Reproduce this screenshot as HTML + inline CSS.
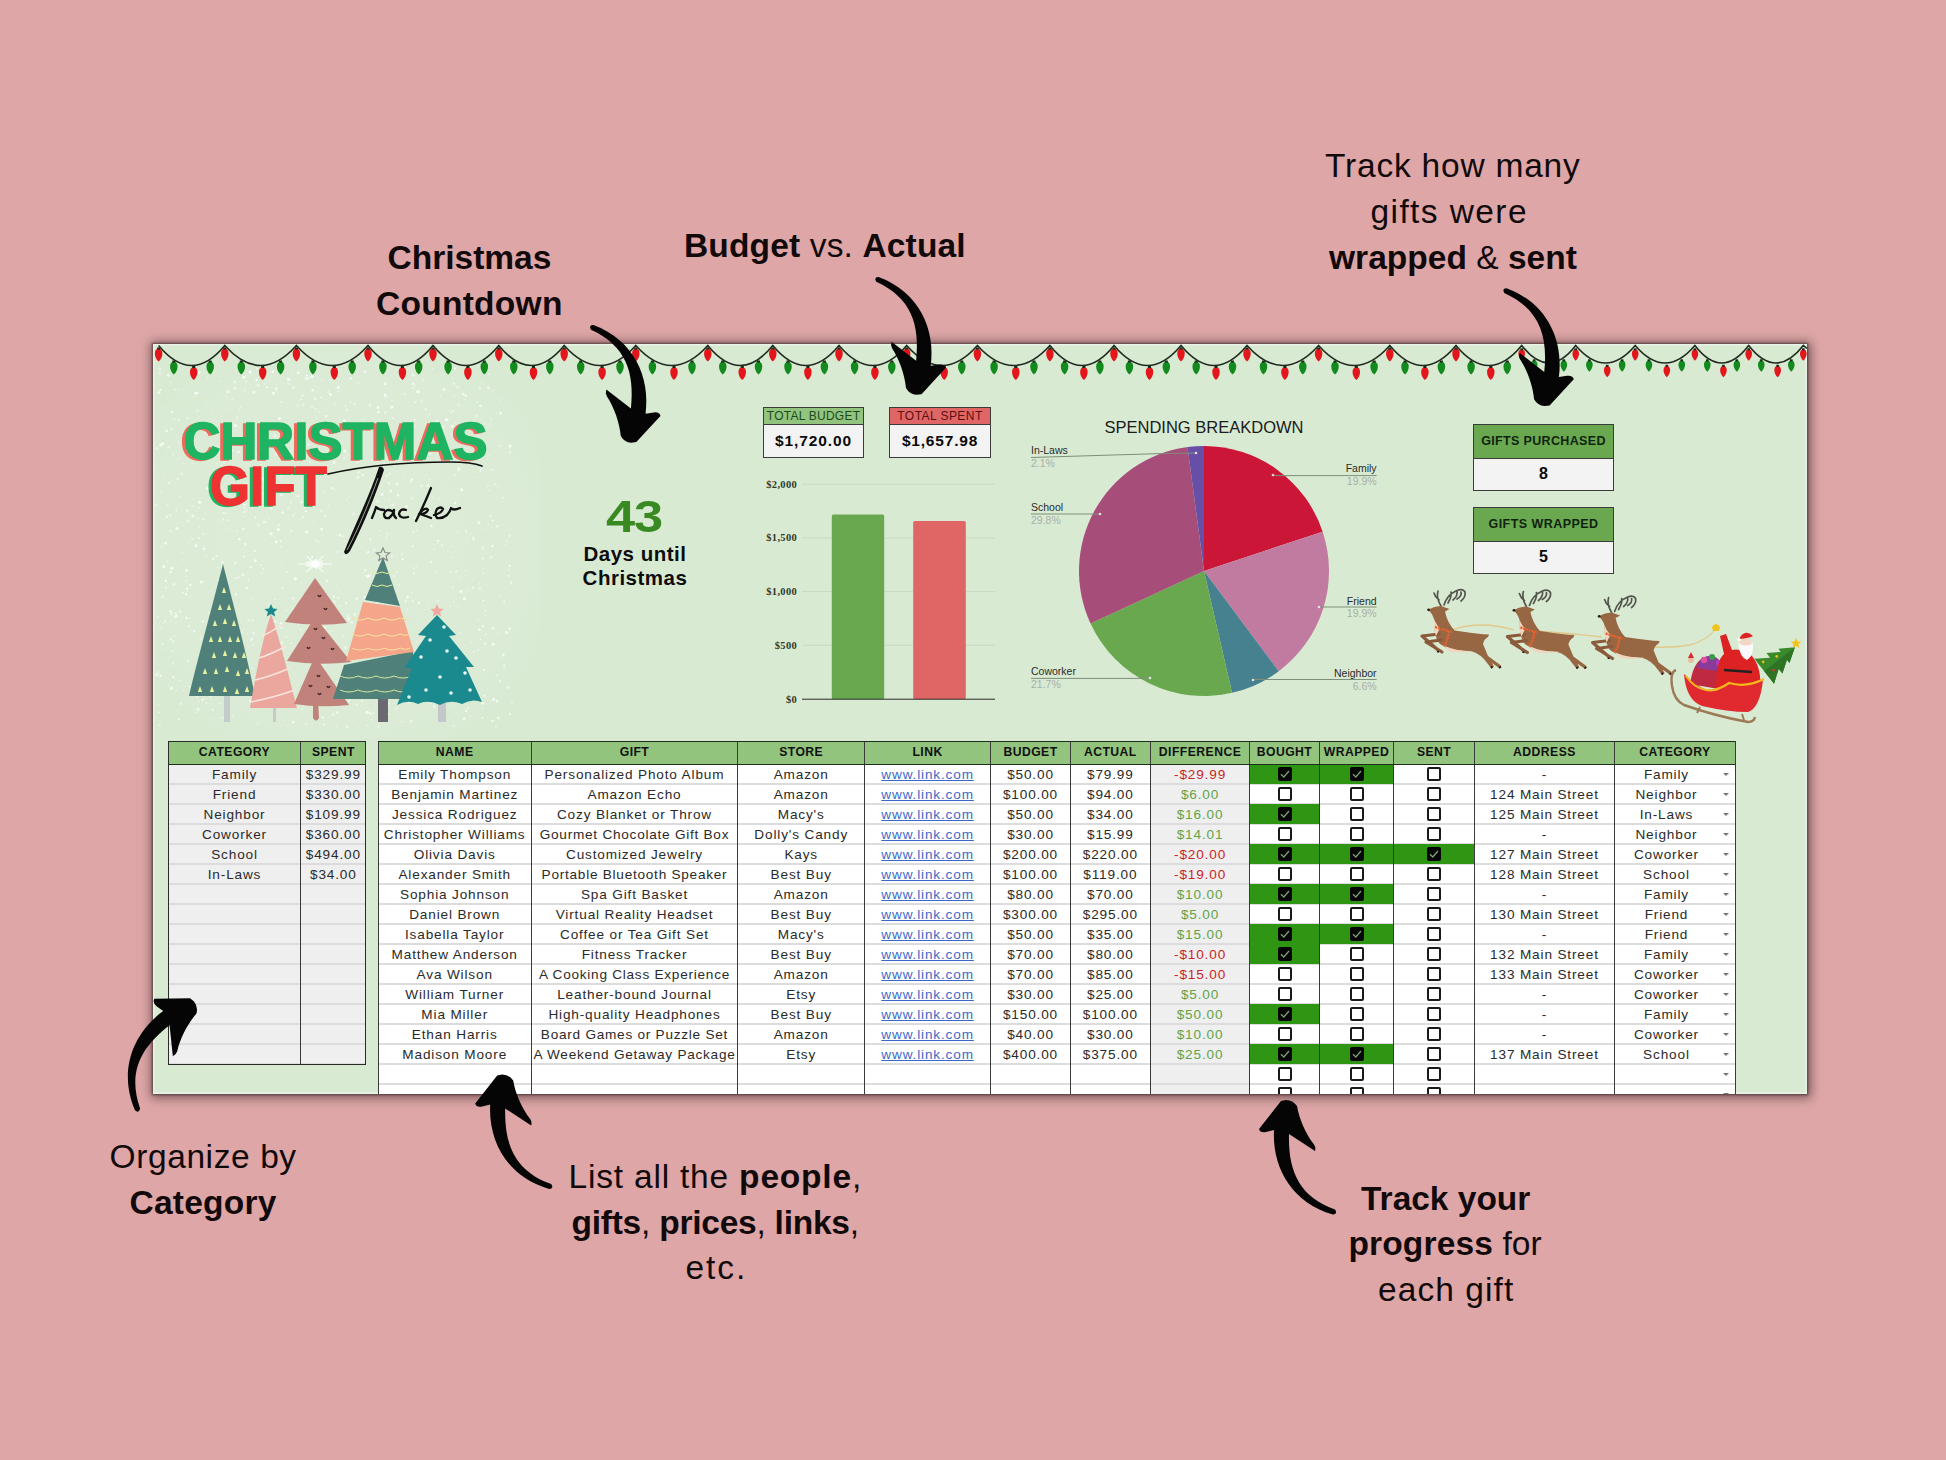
<!DOCTYPE html><html><head><meta charset="utf-8"><style>
*{margin:0;padding:0;box-sizing:border-box}
html,body{width:1946px;height:1460px;overflow:hidden;background:#dea6a7;font-family:"Liberation Sans",sans-serif}
.ov{position:absolute;left:0;top:0;pointer-events:none}
.ann{position:absolute;color:#0d0d0d;font-size:34px;line-height:46px;text-align:center;white-space:nowrap}
.ann b{font-weight:700}
.al{position:absolute;color:#120a0a;font-size:33.5px;line-height:33.5px;white-space:nowrap}
.al b{font-weight:700}
#panel{position:absolute;left:153px;top:344px;width:1654px;height:750px;background:#d9ead3;box-shadow:0 0 2px 1px rgba(45,30,30,0.6),1px 1px 10px 3px rgba(45,30,30,0.55),inset 0 0 0 1.5px rgba(255,255,255,0.45);overflow:hidden}
#panel .ov{left:-153px;top:-344px}
.c,.t,.ht,.hdr,.tbg{position:absolute}
.t{font-size:13.6px;letter-spacing:0.85px;color:#2a2a2a;text-align:center;line-height:21.4px;white-space:nowrap;overflow:visible}
.ht{font-size:12.2px;font-weight:700;letter-spacing:0.45px;color:#111;text-align:center;line-height:23px;white-space:nowrap}
.hdr{background:#93c47d}
.hl{position:absolute;height:1.5px;background:#dcdcdc}
.vl{position:absolute;width:1px;background:#3a3a3a}
.hd{position:absolute;height:1.2px;background:#1d2e1d}
.box{position:absolute;border:1px solid #2a2a2a}
.lk{color:#3b69c9}
.lk u{text-decoration:underline}
.neg{color:#cc1f1f}
.pos{color:#62a347}
.cbk{position:absolute;width:14px;height:14px;background:#050505;border-radius:2px}
.cbk svg{position:absolute;left:0;top:0}
.cbu{position:absolute;width:14px;height:14px;border:2px solid #1a1a1a;border-radius:2px;background:#fff}
.dd{position:absolute;width:0;height:0;border-left:3.5px solid transparent;border-right:3.5px solid transparent;border-top:3.5px solid #777}
.kb{position:absolute;border:1.3px solid #3b3b3b;background:#f3f3f3}
.kb .h{position:absolute;left:0;right:0;top:0;border-bottom:1.3px solid #3b3b3b;text-align:center;color:#1a1a1a;white-space:nowrap}
.kb .v{position:absolute;left:0;right:0;bottom:0;text-align:center;font-weight:700;color:#0a0a0a;white-space:nowrap}
</style></head><body><div class="al" style="left:387.50px;top:241.34px;letter-spacing:-0.000px"><b>Christmas</b></div><div class="al" style="left:376.00px;top:286.84px;letter-spacing:0.275px"><b>Countdown</b></div><div class="al" style="left:684.00px;top:229.44px;letter-spacing:0.150px"><b>Budget</b> vs. <b>Actual</b></div><div class="al" style="left:1325.00px;top:149.34px;letter-spacing:0.792px">Track how many</div><div class="al" style="left:1370.50px;top:195.04px;letter-spacing:1.411px">gifts were</div><div class="al" style="left:1329.00px;top:240.64px;letter-spacing:0.023px"><b>wrapped</b> &amp; <b>sent</b></div><div class="al" style="left:109.50px;top:1140.34px;letter-spacing:0.600px">Organize by</div><div class="al" style="left:129.50px;top:1186.24px;letter-spacing:0.243px"><b>Category</b></div><div class="al" style="left:568.50px;top:1160.14px;letter-spacing:0.805px">List all the <b>people</b>,</div><div class="al" style="left:571.50px;top:1205.54px;letter-spacing:-0.240px"><b>gifts</b>, <b>prices</b>, <b>links</b>,</div><div class="al" style="left:685.50px;top:1250.94px;letter-spacing:1.900px">etc.</div><div class="al" style="left:1361.00px;top:1182.24px;letter-spacing:-0.011px"><b>Track your</b></div><div class="al" style="left:1348.50px;top:1227.34px;letter-spacing:0.136px"><b>progress</b> for</div><div class="al" style="left:1378.00px;top:1273.44px;letter-spacing:1.075px">each gift</div><div id="panel"><svg class="ov" width="1946" height="1460" viewBox="0 0 1946 1460"><defs><radialGradient id="haze" cx="0.5" cy="0.5" r="0.6"><stop offset="0" stop-color="#fff" stop-opacity="0.10"/><stop offset="0.75" stop-color="#fff" stop-opacity="0.06"/><stop offset="1" stop-color="#fff" stop-opacity="0"/></radialGradient></defs><rect x="140" y="350" width="400" height="390" fill="url(#haze)"/><circle cx="271.3" cy="422.3" r="0.6" fill="#fff" opacity="0.39"/><circle cx="346.8" cy="499.6" r="0.6" fill="#fff" opacity="0.80"/><circle cx="232.4" cy="398.9" r="1.2" fill="#fff" opacity="0.38"/><circle cx="188.3" cy="520.8" r="1.5" fill="#fff" opacity="0.41"/><circle cx="235.5" cy="593.9" r="0.6" fill="#fff" opacity="0.64"/><circle cx="297.2" cy="719.5" r="0.6" fill="#fff" opacity="0.63"/><circle cx="203.4" cy="518.9" r="1.5" fill="#fff" opacity="0.41"/><circle cx="265.8" cy="661.8" r="0.8" fill="#fff" opacity="0.40"/><circle cx="359.3" cy="435.6" r="0.6" fill="#fff" opacity="0.62"/><circle cx="178.4" cy="389.5" r="0.8" fill="#fff" opacity="0.60"/><circle cx="345.3" cy="647.8" r="1.2" fill="#fff" opacity="0.64"/><circle cx="317.3" cy="475.9" r="0.8" fill="#fff" opacity="0.70"/><circle cx="242.9" cy="574.8" r="1.5" fill="#fff" opacity="0.60"/><circle cx="278.3" cy="529.6" r="1.5" fill="#fff" opacity="0.84"/><circle cx="198.0" cy="518.5" r="1.0" fill="#fff" opacity="0.43"/><circle cx="330.1" cy="382.1" r="0.6" fill="#fff" opacity="0.73"/><circle cx="360.0" cy="683.2" r="1.0" fill="#fff" opacity="0.52"/><circle cx="280.7" cy="546.8" r="1.2" fill="#fff" opacity="0.38"/><circle cx="189.3" cy="465.2" r="0.6" fill="#fff" opacity="0.38"/><circle cx="405.7" cy="601.0" r="1.2" fill="#fff" opacity="0.49"/><circle cx="293.3" cy="608.7" r="0.6" fill="#fff" opacity="0.82"/><circle cx="282.5" cy="587.9" r="1.2" fill="#fff" opacity="0.38"/><circle cx="429.5" cy="414.6" r="0.8" fill="#fff" opacity="0.55"/><circle cx="482.4" cy="546.7" r="0.8" fill="#fff" opacity="0.57"/><circle cx="351.6" cy="686.0" r="1.2" fill="#fff" opacity="0.78"/><circle cx="255.1" cy="517.5" r="1.0" fill="#fff" opacity="0.69"/><circle cx="291.4" cy="451.1" r="0.6" fill="#fff" opacity="0.44"/><circle cx="238.6" cy="452.0" r="1.2" fill="#fff" opacity="0.77"/><circle cx="220.9" cy="469.5" r="0.8" fill="#fff" opacity="0.56"/><circle cx="287.5" cy="571.9" r="0.8" fill="#fff" opacity="0.70"/><circle cx="339.5" cy="590.3" r="0.6" fill="#fff" opacity="0.58"/><circle cx="466.1" cy="710.7" r="1.5" fill="#fff" opacity="0.55"/><circle cx="298.0" cy="405.3" r="1.2" fill="#fff" opacity="0.38"/><circle cx="180.0" cy="443.2" r="0.8" fill="#fff" opacity="0.40"/><circle cx="369.9" cy="404.9" r="1.5" fill="#fff" opacity="0.43"/><circle cx="192.1" cy="498.9" r="0.6" fill="#fff" opacity="0.39"/><circle cx="230.0" cy="503.4" r="1.0" fill="#fff" opacity="0.83"/><circle cx="370.4" cy="538.7" r="0.6" fill="#fff" opacity="0.77"/><circle cx="509.5" cy="535.8" r="1.2" fill="#fff" opacity="0.51"/><circle cx="207.3" cy="637.9" r="1.0" fill="#fff" opacity="0.59"/><circle cx="402.4" cy="553.9" r="0.8" fill="#fff" opacity="0.83"/><circle cx="344.1" cy="420.8" r="1.5" fill="#fff" opacity="0.81"/><circle cx="425.9" cy="475.3" r="0.6" fill="#fff" opacity="0.70"/><circle cx="249.0" cy="500.0" r="0.8" fill="#fff" opacity="0.53"/><circle cx="235.3" cy="563.0" r="1.5" fill="#fff" opacity="0.51"/><circle cx="235.4" cy="660.1" r="0.8" fill="#fff" opacity="0.75"/><circle cx="447.3" cy="634.4" r="0.8" fill="#fff" opacity="0.45"/><circle cx="331.4" cy="631.2" r="0.6" fill="#fff" opacity="0.75"/><circle cx="324.1" cy="437.7" r="1.5" fill="#fff" opacity="0.83"/><circle cx="315.2" cy="705.3" r="1.0" fill="#fff" opacity="0.83"/><circle cx="285.8" cy="447.4" r="0.8" fill="#fff" opacity="0.59"/><circle cx="276.2" cy="541.8" r="1.5" fill="#fff" opacity="0.77"/><circle cx="326.7" cy="603.1" r="0.6" fill="#fff" opacity="0.77"/><circle cx="198.7" cy="507.9" r="0.8" fill="#fff" opacity="0.59"/><circle cx="219.6" cy="652.1" r="1.0" fill="#fff" opacity="0.39"/><circle cx="492.8" cy="627.9" r="1.2" fill="#fff" opacity="0.55"/><circle cx="493.1" cy="628.9" r="0.8" fill="#fff" opacity="0.85"/><circle cx="165.8" cy="580.7" r="1.2" fill="#fff" opacity="0.75"/><circle cx="208.0" cy="665.5" r="1.2" fill="#fff" opacity="0.68"/><circle cx="280.7" cy="565.5" r="0.8" fill="#fff" opacity="0.36"/><circle cx="440.6" cy="629.5" r="0.6" fill="#fff" opacity="0.61"/><circle cx="488.4" cy="524.2" r="0.8" fill="#fff" opacity="0.76"/><circle cx="231.1" cy="458.7" r="1.0" fill="#fff" opacity="0.60"/><circle cx="427.9" cy="485.4" r="1.5" fill="#fff" opacity="0.56"/><circle cx="202.7" cy="695.6" r="1.0" fill="#fff" opacity="0.80"/><circle cx="391.8" cy="661.4" r="1.5" fill="#fff" opacity="0.56"/><circle cx="482.7" cy="548.6" r="1.5" fill="#fff" opacity="0.43"/><circle cx="337.8" cy="682.2" r="0.8" fill="#fff" opacity="0.65"/><circle cx="432.3" cy="421.9" r="0.8" fill="#fff" opacity="0.59"/><circle cx="414.2" cy="568.3" r="1.0" fill="#fff" opacity="0.69"/><circle cx="344.9" cy="541.7" r="0.6" fill="#fff" opacity="0.79"/><circle cx="176.2" cy="436.9" r="0.6" fill="#fff" opacity="0.74"/><circle cx="336.7" cy="570.2" r="0.6" fill="#fff" opacity="0.57"/><circle cx="374.1" cy="550.0" r="1.5" fill="#fff" opacity="0.45"/><circle cx="254.7" cy="550.9" r="1.2" fill="#fff" opacity="0.60"/><circle cx="244.2" cy="556.4" r="1.0" fill="#fff" opacity="0.81"/><circle cx="473.8" cy="440.9" r="1.2" fill="#fff" opacity="0.42"/><circle cx="199.3" cy="527.2" r="0.6" fill="#fff" opacity="0.69"/><circle cx="308.5" cy="444.6" r="1.0" fill="#fff" opacity="0.74"/><circle cx="475.3" cy="423.6" r="1.0" fill="#fff" opacity="0.42"/><circle cx="470.3" cy="716.3" r="0.8" fill="#fff" opacity="0.72"/><circle cx="189.5" cy="686.6" r="0.8" fill="#fff" opacity="0.84"/><circle cx="452.4" cy="426.1" r="1.2" fill="#fff" opacity="0.85"/><circle cx="299.8" cy="519.7" r="1.0" fill="#fff" opacity="0.51"/><circle cx="413.1" cy="375.0" r="1.5" fill="#fff" opacity="0.58"/><circle cx="406.3" cy="506.4" r="1.5" fill="#fff" opacity="0.66"/><circle cx="338.4" cy="391.1" r="0.8" fill="#fff" opacity="0.84"/><circle cx="193.3" cy="463.6" r="0.6" fill="#fff" opacity="0.80"/><circle cx="220.6" cy="640.1" r="1.2" fill="#fff" opacity="0.77"/><circle cx="396.6" cy="708.6" r="1.2" fill="#fff" opacity="0.42"/><circle cx="483.2" cy="573.4" r="1.0" fill="#fff" opacity="0.39"/><circle cx="176.5" cy="615.8" r="1.2" fill="#fff" opacity="0.80"/><circle cx="251.7" cy="374.1" r="0.6" fill="#fff" opacity="0.75"/><circle cx="185.8" cy="676.2" r="0.6" fill="#fff" opacity="0.48"/><circle cx="199.3" cy="372.2" r="1.5" fill="#fff" opacity="0.56"/><circle cx="481.9" cy="591.8" r="0.6" fill="#fff" opacity="0.61"/><circle cx="240.9" cy="407.4" r="0.8" fill="#fff" opacity="0.48"/><circle cx="220.5" cy="703.6" r="1.0" fill="#fff" opacity="0.62"/><circle cx="229.3" cy="528.4" r="0.8" fill="#fff" opacity="0.49"/><circle cx="442.1" cy="726.0" r="0.6" fill="#fff" opacity="0.36"/><circle cx="417.0" cy="566.4" r="0.8" fill="#fff" opacity="0.61"/><circle cx="243.5" cy="528.9" r="1.2" fill="#fff" opacity="0.68"/><circle cx="350.3" cy="687.9" r="1.5" fill="#fff" opacity="0.50"/><circle cx="232.6" cy="450.6" r="0.8" fill="#fff" opacity="0.77"/><circle cx="407.6" cy="597.0" r="1.2" fill="#fff" opacity="0.84"/><circle cx="505.5" cy="669.3" r="0.6" fill="#fff" opacity="0.39"/><circle cx="419.8" cy="460.0" r="0.8" fill="#fff" opacity="0.38"/><circle cx="392.8" cy="505.1" r="1.5" fill="#fff" opacity="0.69"/><circle cx="256.4" cy="455.2" r="1.0" fill="#fff" opacity="0.37"/><circle cx="222.0" cy="464.9" r="0.6" fill="#fff" opacity="0.48"/><circle cx="498.4" cy="718.1" r="1.5" fill="#fff" opacity="0.51"/><circle cx="168.3" cy="685.7" r="0.8" fill="#fff" opacity="0.53"/><circle cx="156.4" cy="505.4" r="1.2" fill="#fff" opacity="0.49"/><circle cx="389.5" cy="457.3" r="0.6" fill="#fff" opacity="0.40"/><circle cx="446.9" cy="419.8" r="1.5" fill="#fff" opacity="0.37"/><circle cx="164.0" cy="477.5" r="0.8" fill="#fff" opacity="0.39"/><circle cx="496.9" cy="675.2" r="0.8" fill="#fff" opacity="0.68"/><circle cx="410.9" cy="684.5" r="1.2" fill="#fff" opacity="0.73"/><circle cx="412.6" cy="545.9" r="1.0" fill="#fff" opacity="0.71"/><circle cx="385.0" cy="383.8" r="1.5" fill="#fff" opacity="0.66"/><circle cx="417.3" cy="660.4" r="0.8" fill="#fff" opacity="0.80"/><circle cx="424.0" cy="572.7" r="0.6" fill="#fff" opacity="0.76"/><circle cx="363.9" cy="689.4" r="0.8" fill="#fff" opacity="0.39"/><circle cx="170.9" cy="597.4" r="0.6" fill="#fff" opacity="0.54"/><circle cx="316.7" cy="386.3" r="0.6" fill="#fff" opacity="0.66"/><circle cx="398.3" cy="544.1" r="0.6" fill="#fff" opacity="0.58"/><circle cx="181.0" cy="703.7" r="1.5" fill="#fff" opacity="0.40"/><circle cx="343.3" cy="636.5" r="1.2" fill="#fff" opacity="0.48"/><circle cx="182.5" cy="463.6" r="0.8" fill="#fff" opacity="0.47"/><circle cx="387.4" cy="533.7" r="1.2" fill="#fff" opacity="0.39"/><circle cx="480.1" cy="471.4" r="0.6" fill="#fff" opacity="0.66"/><circle cx="384.8" cy="395.9" r="0.8" fill="#fff" opacity="0.52"/><circle cx="387.9" cy="617.4" r="1.5" fill="#fff" opacity="0.63"/><circle cx="160.4" cy="389.8" r="1.0" fill="#fff" opacity="0.84"/><circle cx="191.4" cy="446.4" r="1.2" fill="#fff" opacity="0.50"/><circle cx="339.9" cy="535.3" r="1.2" fill="#fff" opacity="0.73"/><circle cx="509.6" cy="565.7" r="1.0" fill="#fff" opacity="0.84"/><circle cx="489.3" cy="374.3" r="1.2" fill="#fff" opacity="0.39"/><circle cx="336.4" cy="726.1" r="1.0" fill="#fff" opacity="0.54"/><circle cx="482.3" cy="703.0" r="0.6" fill="#fff" opacity="0.64"/><circle cx="206.5" cy="556.7" r="1.0" fill="#fff" opacity="0.42"/><circle cx="448.0" cy="551.1" r="0.6" fill="#fff" opacity="0.70"/><circle cx="238.4" cy="691.2" r="1.2" fill="#fff" opacity="0.55"/><circle cx="212.6" cy="710.0" r="1.2" fill="#fff" opacity="0.55"/><circle cx="414.9" cy="517.8" r="1.2" fill="#fff" opacity="0.51"/><circle cx="455.1" cy="368.6" r="1.0" fill="#fff" opacity="0.77"/><circle cx="198.7" cy="701.5" r="0.6" fill="#fff" opacity="0.80"/><circle cx="259.2" cy="502.0" r="1.2" fill="#fff" opacity="0.55"/><circle cx="465.7" cy="395.5" r="1.2" fill="#fff" opacity="0.73"/><circle cx="460.1" cy="469.0" r="0.6" fill="#fff" opacity="0.77"/><circle cx="257.7" cy="704.8" r="0.8" fill="#fff" opacity="0.84"/><circle cx="311.3" cy="481.6" r="1.0" fill="#fff" opacity="0.74"/><circle cx="308.3" cy="378.4" r="1.2" fill="#fff" opacity="0.81"/><circle cx="490.9" cy="565.7" r="0.6" fill="#fff" opacity="0.37"/><circle cx="416.7" cy="530.3" r="0.8" fill="#fff" opacity="0.67"/><circle cx="257.9" cy="385.6" r="1.5" fill="#fff" opacity="0.41"/><circle cx="324.1" cy="491.7" r="1.0" fill="#fff" opacity="0.48"/><circle cx="419.0" cy="603.0" r="1.2" fill="#fff" opacity="0.68"/><circle cx="263.1" cy="568.6" r="1.2" fill="#fff" opacity="0.41"/><circle cx="385.0" cy="395.1" r="1.5" fill="#fff" opacity="0.80"/><circle cx="333.0" cy="447.2" r="1.0" fill="#fff" opacity="0.85"/><circle cx="316.2" cy="418.3" r="0.8" fill="#fff" opacity="0.47"/><circle cx="218.2" cy="568.1" r="1.0" fill="#fff" opacity="0.47"/><circle cx="248.0" cy="573.1" r="0.6" fill="#fff" opacity="0.72"/><circle cx="303.0" cy="517.0" r="1.5" fill="#fff" opacity="0.46"/><circle cx="252.2" cy="638.8" r="1.2" fill="#fff" opacity="0.49"/><circle cx="500.5" cy="413.3" r="1.5" fill="#fff" opacity="0.61"/><circle cx="437.4" cy="673.5" r="0.6" fill="#fff" opacity="0.49"/><circle cx="244.4" cy="511.9" r="1.2" fill="#fff" opacity="0.57"/><circle cx="267.1" cy="661.2" r="0.6" fill="#fff" opacity="0.41"/><circle cx="307.4" cy="642.9" r="1.2" fill="#fff" opacity="0.83"/><circle cx="330.4" cy="394.3" r="1.5" fill="#fff" opacity="0.78"/><circle cx="502.1" cy="457.4" r="0.6" fill="#fff" opacity="0.46"/><circle cx="210.1" cy="717.9" r="0.6" fill="#fff" opacity="0.82"/><circle cx="412.9" cy="601.0" r="1.2" fill="#fff" opacity="0.39"/><circle cx="432.6" cy="368.5" r="0.8" fill="#fff" opacity="0.47"/><circle cx="483.5" cy="600.4" r="1.0" fill="#fff" opacity="0.83"/><circle cx="379.0" cy="558.2" r="1.2" fill="#fff" opacity="0.70"/><circle cx="195.9" cy="393.3" r="1.5" fill="#fff" opacity="0.82"/><circle cx="224.2" cy="461.9" r="1.5" fill="#fff" opacity="0.35"/><circle cx="347.3" cy="726.7" r="1.0" fill="#fff" opacity="0.83"/><circle cx="385.5" cy="686.2" r="1.2" fill="#fff" opacity="0.61"/><circle cx="350.7" cy="378.5" r="1.2" fill="#fff" opacity="0.70"/><circle cx="265.4" cy="375.8" r="1.2" fill="#fff" opacity="0.79"/><circle cx="386.4" cy="397.2" r="0.8" fill="#fff" opacity="0.68"/><circle cx="485.4" cy="449.6" r="0.6" fill="#fff" opacity="0.70"/><circle cx="411.7" cy="498.4" r="1.2" fill="#fff" opacity="0.45"/><circle cx="439.8" cy="634.1" r="1.5" fill="#fff" opacity="0.38"/><circle cx="332.5" cy="440.1" r="0.8" fill="#fff" opacity="0.47"/><circle cx="234.8" cy="641.8" r="1.0" fill="#fff" opacity="0.40"/><circle cx="378.0" cy="587.6" r="0.8" fill="#fff" opacity="0.59"/><circle cx="480.1" cy="388.3" r="1.5" fill="#fff" opacity="0.42"/><circle cx="296.1" cy="444.7" r="1.5" fill="#fff" opacity="0.42"/><circle cx="174.5" cy="389.6" r="1.2" fill="#fff" opacity="0.57"/><circle cx="409.5" cy="481.1" r="0.6" fill="#fff" opacity="0.85"/><circle cx="487.6" cy="486.5" r="0.8" fill="#fff" opacity="0.68"/><circle cx="342.8" cy="536.3" r="1.0" fill="#fff" opacity="0.68"/><circle cx="290.8" cy="502.6" r="1.0" fill="#fff" opacity="0.57"/><circle cx="194.8" cy="396.2" r="0.6" fill="#fff" opacity="0.53"/><circle cx="496.2" cy="412.5" r="0.8" fill="#fff" opacity="0.54"/><circle cx="429.7" cy="479.1" r="1.2" fill="#fff" opacity="0.39"/><circle cx="407.1" cy="438.5" r="1.5" fill="#fff" opacity="0.81"/><circle cx="224.7" cy="499.1" r="1.2" fill="#fff" opacity="0.37"/><circle cx="302.2" cy="660.3" r="1.2" fill="#fff" opacity="0.37"/><circle cx="168.4" cy="390.5" r="0.6" fill="#fff" opacity="0.48"/><circle cx="422.0" cy="691.5" r="1.0" fill="#fff" opacity="0.53"/><circle cx="275.2" cy="711.4" r="0.6" fill="#fff" opacity="0.48"/><circle cx="411.1" cy="481.9" r="1.0" fill="#fff" opacity="0.50"/><circle cx="412.9" cy="582.4" r="0.6" fill="#fff" opacity="0.36"/><circle cx="239.3" cy="539.1" r="1.2" fill="#fff" opacity="0.83"/><circle cx="293.6" cy="458.4" r="1.2" fill="#fff" opacity="0.76"/><circle cx="203.2" cy="546.8" r="0.6" fill="#fff" opacity="0.75"/><circle cx="418.9" cy="664.2" r="0.8" fill="#fff" opacity="0.65"/><circle cx="272.7" cy="483.0" r="1.0" fill="#fff" opacity="0.74"/><circle cx="368.1" cy="552.3" r="1.2" fill="#fff" opacity="0.73"/><circle cx="244.0" cy="391.3" r="0.6" fill="#fff" opacity="0.59"/><circle cx="349.9" cy="425.8" r="1.2" fill="#fff" opacity="0.79"/><circle cx="507.7" cy="463.4" r="0.6" fill="#fff" opacity="0.45"/><circle cx="305.9" cy="723.8" r="1.2" fill="#fff" opacity="0.44"/><circle cx="203.3" cy="533.9" r="0.8" fill="#fff" opacity="0.72"/><circle cx="457.5" cy="607.2" r="0.6" fill="#fff" opacity="0.74"/><circle cx="260.6" cy="468.6" r="1.0" fill="#fff" opacity="0.54"/><circle cx="418.8" cy="439.7" r="0.8" fill="#fff" opacity="0.44"/><circle cx="239.8" cy="469.3" r="1.5" fill="#fff" opacity="0.44"/><circle cx="179.1" cy="458.6" r="0.8" fill="#fff" opacity="0.60"/><circle cx="238.4" cy="659.0" r="1.2" fill="#fff" opacity="0.85"/><circle cx="192.4" cy="538.9" r="0.8" fill="#fff" opacity="0.77"/><circle cx="481.5" cy="382.5" r="1.0" fill="#fff" opacity="0.47"/><circle cx="173.9" cy="584.2" r="1.5" fill="#fff" opacity="0.45"/><circle cx="182.7" cy="552.6" r="0.8" fill="#fff" opacity="0.57"/><circle cx="248.5" cy="648.0" r="0.6" fill="#fff" opacity="0.40"/><circle cx="368.2" cy="591.2" r="0.8" fill="#fff" opacity="0.37"/><circle cx="277.0" cy="383.9" r="1.0" fill="#fff" opacity="0.37"/><circle cx="416.7" cy="697.0" r="0.6" fill="#fff" opacity="0.76"/><circle cx="301.6" cy="501.9" r="1.5" fill="#fff" opacity="0.51"/><circle cx="228.4" cy="654.3" r="1.5" fill="#fff" opacity="0.59"/><circle cx="301.3" cy="654.5" r="1.5" fill="#fff" opacity="0.43"/><circle cx="346.1" cy="603.1" r="1.2" fill="#fff" opacity="0.70"/><circle cx="301.9" cy="470.0" r="1.0" fill="#fff" opacity="0.56"/><circle cx="174.3" cy="636.3" r="1.0" fill="#fff" opacity="0.56"/><circle cx="162.5" cy="644.0" r="1.0" fill="#fff" opacity="0.67"/><circle cx="295.1" cy="513.8" r="0.6" fill="#fff" opacity="0.57"/><circle cx="211.7" cy="408.9" r="0.6" fill="#fff" opacity="0.55"/><circle cx="470.3" cy="533.9" r="0.8" fill="#fff" opacity="0.41"/><circle cx="174.4" cy="419.3" r="1.2" fill="#fff" opacity="0.39"/><circle cx="377.5" cy="501.5" r="1.5" fill="#fff" opacity="0.44"/><circle cx="279.9" cy="426.3" r="0.8" fill="#fff" opacity="0.81"/><circle cx="194.7" cy="544.6" r="0.8" fill="#fff" opacity="0.50"/><circle cx="454.1" cy="383.7" r="1.2" fill="#fff" opacity="0.51"/><circle cx="372.3" cy="597.1" r="0.6" fill="#fff" opacity="0.80"/><circle cx="376.8" cy="664.8" r="0.8" fill="#fff" opacity="0.67"/><circle cx="460.9" cy="591.6" r="1.5" fill="#fff" opacity="0.77"/><circle cx="451.2" cy="433.9" r="0.8" fill="#fff" opacity="0.37"/><circle cx="490.1" cy="424.3" r="1.0" fill="#fff" opacity="0.41"/><circle cx="244.0" cy="629.0" r="0.8" fill="#fff" opacity="0.37"/><circle cx="356.2" cy="640.7" r="0.6" fill="#fff" opacity="0.68"/><circle cx="271.4" cy="508.3" r="1.2" fill="#fff" opacity="0.63"/><circle cx="379.2" cy="478.2" r="1.2" fill="#fff" opacity="0.50"/><circle cx="244.7" cy="508.1" r="1.0" fill="#fff" opacity="0.57"/><circle cx="312.1" cy="376.4" r="1.5" fill="#fff" opacity="0.84"/><circle cx="321.6" cy="528.9" r="1.5" fill="#fff" opacity="0.74"/><circle cx="319.2" cy="432.6" r="1.2" fill="#fff" opacity="0.55"/><circle cx="179.9" cy="497.1" r="1.0" fill="#fff" opacity="0.40"/><circle cx="313.3" cy="551.7" r="0.6" fill="#fff" opacity="0.37"/><circle cx="202.4" cy="700.0" r="1.0" fill="#fff" opacity="0.74"/><circle cx="338.1" cy="387.5" r="1.5" fill="#fff" opacity="0.80"/><circle cx="388.4" cy="650.3" r="0.6" fill="#fff" opacity="0.78"/><circle cx="510.6" cy="631.6" r="0.6" fill="#fff" opacity="0.45"/><circle cx="505.5" cy="545.1" r="0.8" fill="#fff" opacity="0.69"/><circle cx="412.7" cy="447.6" r="1.0" fill="#fff" opacity="0.66"/><circle cx="245.8" cy="484.6" r="1.5" fill="#fff" opacity="0.49"/><circle cx="446.4" cy="419.7" r="1.5" fill="#fff" opacity="0.83"/><circle cx="326.9" cy="581.1" r="1.5" fill="#fff" opacity="0.60"/><circle cx="269.6" cy="381.3" r="0.8" fill="#fff" opacity="0.55"/><circle cx="382.6" cy="468.2" r="1.0" fill="#fff" opacity="0.80"/><circle cx="216.1" cy="650.6" r="0.6" fill="#fff" opacity="0.73"/><circle cx="173.3" cy="677.0" r="1.2" fill="#fff" opacity="0.63"/><circle cx="362.5" cy="685.7" r="0.6" fill="#fff" opacity="0.48"/><circle cx="346.7" cy="676.4" r="1.0" fill="#fff" opacity="0.48"/><circle cx="508.6" cy="575.8" r="1.0" fill="#fff" opacity="0.52"/><circle cx="185.0" cy="450.8" r="1.5" fill="#fff" opacity="0.72"/><circle cx="173.2" cy="663.1" r="1.0" fill="#fff" opacity="0.51"/><circle cx="499.9" cy="681.3" r="1.0" fill="#fff" opacity="0.72"/><circle cx="422.0" cy="447.8" r="1.0" fill="#fff" opacity="0.66"/><circle cx="309.9" cy="552.6" r="0.6" fill="#fff" opacity="0.42"/><circle cx="236.9" cy="603.1" r="0.6" fill="#fff" opacity="0.38"/><circle cx="357.9" cy="477.3" r="1.5" fill="#fff" opacity="0.53"/><circle cx="235.8" cy="578.1" r="1.5" fill="#fff" opacity="0.42"/><circle cx="286.4" cy="666.2" r="0.8" fill="#fff" opacity="0.42"/><circle cx="489.4" cy="455.7" r="0.8" fill="#fff" opacity="0.58"/><circle cx="178.7" cy="420.1" r="1.0" fill="#fff" opacity="0.55"/><circle cx="250.1" cy="372.1" r="1.5" fill="#fff" opacity="0.80"/><circle cx="367.7" cy="576.3" r="1.5" fill="#fff" opacity="0.82"/><circle cx="417.1" cy="457.5" r="0.6" fill="#fff" opacity="0.37"/><circle cx="345.2" cy="514.2" r="0.8" fill="#fff" opacity="0.43"/><circle cx="480.6" cy="405.8" r="1.5" fill="#fff" opacity="0.63"/><circle cx="491.0" cy="419.2" r="0.8" fill="#fff" opacity="0.61"/><circle cx="384.8" cy="601.1" r="1.2" fill="#fff" opacity="0.76"/><circle cx="218.2" cy="479.4" r="1.0" fill="#fff" opacity="0.66"/><circle cx="509.9" cy="628.8" r="1.2" fill="#fff" opacity="0.71"/><circle cx="158.3" cy="672.0" r="1.2" fill="#fff" opacity="0.39"/><circle cx="389.4" cy="431.1" r="0.6" fill="#fff" opacity="0.48"/><circle cx="385.3" cy="412.4" r="1.0" fill="#fff" opacity="0.71"/><circle cx="250.7" cy="567.4" r="1.2" fill="#fff" opacity="0.69"/><circle cx="482.5" cy="717.9" r="1.0" fill="#fff" opacity="0.67"/><circle cx="499.6" cy="446.1" r="1.5" fill="#fff" opacity="0.36"/><circle cx="248.7" cy="453.0" r="0.8" fill="#fff" opacity="0.82"/><circle cx="421.6" cy="485.7" r="1.2" fill="#fff" opacity="0.51"/><circle cx="241.1" cy="694.7" r="1.5" fill="#fff" opacity="0.58"/><circle cx="454.9" cy="619.1" r="0.6" fill="#fff" opacity="0.57"/><circle cx="414.0" cy="573.3" r="1.0" fill="#fff" opacity="0.74"/><circle cx="295.4" cy="578.7" r="1.5" fill="#fff" opacity="0.81"/><circle cx="207.5" cy="377.7" r="0.6" fill="#fff" opacity="0.66"/><circle cx="213.6" cy="719.9" r="0.6" fill="#fff" opacity="0.37"/><circle cx="205.3" cy="599.7" r="0.6" fill="#fff" opacity="0.70"/><circle cx="418.3" cy="391.7" r="1.5" fill="#fff" opacity="0.73"/><circle cx="227.0" cy="711.6" r="1.5" fill="#fff" opacity="0.80"/><circle cx="179.5" cy="680.4" r="1.2" fill="#fff" opacity="0.40"/><circle cx="229.2" cy="408.3" r="0.6" fill="#fff" opacity="0.82"/><circle cx="480.4" cy="639.4" r="0.6" fill="#fff" opacity="0.76"/><circle cx="380.8" cy="471.5" r="0.6" fill="#fff" opacity="0.42"/><circle cx="437.9" cy="600.7" r="1.0" fill="#fff" opacity="0.51"/><circle cx="306.9" cy="375.5" r="1.0" fill="#fff" opacity="0.82"/><circle cx="173.2" cy="641.5" r="1.0" fill="#fff" opacity="0.73"/><circle cx="370.3" cy="539.4" r="1.0" fill="#fff" opacity="0.66"/><circle cx="167.0" cy="516.7" r="1.2" fill="#fff" opacity="0.61"/><circle cx="191.0" cy="536.8" r="0.6" fill="#fff" opacity="0.62"/><circle cx="233.1" cy="678.4" r="0.6" fill="#fff" opacity="0.64"/><circle cx="258.2" cy="525.0" r="1.5" fill="#fff" opacity="0.45"/><circle cx="427.3" cy="720.0" r="0.6" fill="#fff" opacity="0.52"/><circle cx="190.1" cy="618.3" r="0.8" fill="#fff" opacity="0.83"/><circle cx="366.9" cy="712.6" r="1.5" fill="#fff" opacity="0.48"/><circle cx="492.0" cy="470.1" r="0.8" fill="#fff" opacity="0.82"/><circle cx="238.4" cy="427.7" r="0.6" fill="#fff" opacity="0.60"/><circle cx="508.8" cy="570.1" r="0.6" fill="#fff" opacity="0.66"/><circle cx="282.6" cy="512.5" r="1.2" fill="#fff" opacity="0.80"/><circle cx="421.3" cy="520.0" r="0.6" fill="#fff" opacity="0.54"/><circle cx="263.9" cy="522.1" r="1.5" fill="#fff" opacity="0.60"/><circle cx="291.0" cy="686.2" r="0.8" fill="#fff" opacity="0.82"/><circle cx="201.2" cy="581.9" r="1.5" fill="#fff" opacity="0.67"/><circle cx="280.1" cy="485.6" r="0.8" fill="#fff" opacity="0.78"/><circle cx="316.3" cy="567.3" r="1.0" fill="#fff" opacity="0.43"/><circle cx="312.2" cy="646.4" r="1.5" fill="#fff" opacity="0.47"/><circle cx="274.9" cy="599.4" r="0.8" fill="#fff" opacity="0.60"/><circle cx="251.2" cy="639.7" r="1.5" fill="#fff" opacity="0.43"/><circle cx="211.5" cy="457.1" r="1.0" fill="#fff" opacity="0.65"/><circle cx="280.1" cy="453.0" r="0.8" fill="#fff" opacity="0.48"/><circle cx="496.0" cy="726.2" r="0.8" fill="#fff" opacity="0.83"/><circle cx="192.2" cy="506.3" r="0.8" fill="#fff" opacity="0.75"/><circle cx="417.1" cy="524.6" r="0.8" fill="#fff" opacity="0.40"/><circle cx="480.5" cy="469.1" r="1.2" fill="#fff" opacity="0.58"/><circle cx="160.5" cy="675.6" r="1.2" fill="#fff" opacity="0.70"/><circle cx="334.2" cy="595.7" r="1.2" fill="#fff" opacity="0.36"/><circle cx="247.6" cy="633.8" r="0.6" fill="#fff" opacity="0.72"/><circle cx="479.2" cy="522.8" r="1.5" fill="#fff" opacity="0.64"/><circle cx="386.4" cy="672.6" r="1.5" fill="#fff" opacity="0.78"/><circle cx="397.9" cy="599.0" r="1.2" fill="#fff" opacity="0.57"/><circle cx="248.5" cy="620.2" r="1.2" fill="#fff" opacity="0.47"/><circle cx="298.4" cy="624.5" r="0.8" fill="#fff" opacity="0.48"/><circle cx="306.8" cy="531.9" r="1.5" fill="#fff" opacity="0.78"/><circle cx="340.5" cy="606.0" r="0.8" fill="#fff" opacity="0.80"/><circle cx="272.8" cy="371.8" r="1.2" fill="#fff" opacity="0.80"/><circle cx="193.9" cy="458.4" r="0.8" fill="#fff" opacity="0.43"/><circle cx="434.3" cy="706.6" r="1.5" fill="#fff" opacity="0.52"/><circle cx="457.6" cy="532.4" r="0.8" fill="#fff" opacity="0.71"/><circle cx="338.3" cy="598.1" r="1.0" fill="#fff" opacity="0.61"/><circle cx="302.1" cy="709.3" r="0.8" fill="#fff" opacity="0.85"/><circle cx="221.4" cy="553.0" r="0.6" fill="#fff" opacity="0.71"/><circle cx="374.6" cy="597.5" r="1.0" fill="#fff" opacity="0.49"/><circle cx="298.3" cy="372.8" r="1.2" fill="#fff" opacity="0.81"/><circle cx="379.8" cy="611.0" r="1.5" fill="#fff" opacity="0.48"/><circle cx="235.9" cy="634.9" r="1.5" fill="#fff" opacity="0.84"/><circle cx="509.9" cy="713.9" r="1.2" fill="#fff" opacity="0.46"/><circle cx="202.0" cy="647.6" r="0.8" fill="#fff" opacity="0.58"/><circle cx="356.1" cy="449.4" r="0.8" fill="#fff" opacity="0.53"/><circle cx="383.4" cy="662.7" r="1.2" fill="#fff" opacity="0.58"/><circle cx="260.8" cy="565.4" r="0.8" fill="#fff" opacity="0.74"/><circle cx="323.1" cy="650.1" r="0.8" fill="#fff" opacity="0.48"/><circle cx="289.9" cy="459.3" r="1.2" fill="#fff" opacity="0.69"/><circle cx="327.4" cy="658.0" r="1.0" fill="#fff" opacity="0.53"/><circle cx="389.0" cy="483.3" r="1.2" fill="#fff" opacity="0.56"/><circle cx="382.9" cy="605.3" r="1.0" fill="#fff" opacity="0.43"/><circle cx="263.9" cy="506.6" r="0.6" fill="#fff" opacity="0.76"/><circle cx="478.5" cy="650.3" r="0.8" fill="#fff" opacity="0.62"/><circle cx="278.9" cy="577.7" r="0.6" fill="#fff" opacity="0.45"/><circle cx="181.6" cy="473.5" r="1.5" fill="#fff" opacity="0.40"/><circle cx="206.8" cy="452.1" r="1.2" fill="#fff" opacity="0.52"/><circle cx="210.4" cy="693.5" r="1.5" fill="#fff" opacity="0.43"/><circle cx="473.2" cy="587.0" r="0.6" fill="#fff" opacity="0.68"/><circle cx="474.2" cy="651.7" r="1.0" fill="#fff" opacity="0.45"/><circle cx="402.6" cy="559.1" r="1.2" fill="#fff" opacity="0.69"/><circle cx="197.6" cy="410.6" r="1.2" fill="#fff" opacity="0.47"/><circle cx="205.6" cy="545.5" r="0.6" fill="#fff" opacity="0.59"/><circle cx="478.3" cy="620.2" r="0.8" fill="#fff" opacity="0.60"/><circle cx="348.1" cy="678.6" r="0.6" fill="#fff" opacity="0.43"/><circle cx="270.2" cy="618.5" r="1.2" fill="#fff" opacity="0.68"/><circle cx="455.2" cy="503.0" r="1.2" fill="#fff" opacity="0.85"/><circle cx="396.6" cy="433.0" r="1.0" fill="#fff" opacity="0.67"/><circle cx="166.2" cy="587.5" r="1.0" fill="#fff" opacity="0.75"/><circle cx="189.5" cy="542.3" r="0.8" fill="#fff" opacity="0.37"/><circle cx="411.7" cy="593.1" r="1.0" fill="#fff" opacity="0.40"/><circle cx="390.6" cy="490.9" r="1.5" fill="#fff" opacity="0.63"/><circle cx="480.8" cy="470.3" r="1.0" fill="#fff" opacity="0.56"/><circle cx="353.2" cy="665.6" r="1.0" fill="#fff" opacity="0.53"/><circle cx="331.8" cy="488.1" r="1.0" fill="#fff" opacity="0.79"/><circle cx="278.8" cy="441.3" r="1.2" fill="#fff" opacity="0.75"/><circle cx="273.8" cy="482.2" r="1.0" fill="#fff" opacity="0.41"/><circle cx="502.3" cy="399.5" r="0.6" fill="#fff" opacity="0.55"/><circle cx="353.3" cy="514.2" r="1.5" fill="#fff" opacity="0.37"/><circle cx="262.9" cy="370.2" r="0.8" fill="#fff" opacity="0.76"/><circle cx="325.1" cy="643.8" r="0.6" fill="#fff" opacity="0.74"/><circle cx="479.9" cy="588.2" r="1.5" fill="#fff" opacity="0.42"/><circle cx="395.8" cy="616.1" r="0.6" fill="#fff" opacity="0.46"/><circle cx="393.5" cy="532.8" r="0.8" fill="#fff" opacity="0.40"/><circle cx="220.5" cy="381.3" r="0.6" fill="#fff" opacity="0.81"/><circle cx="389.4" cy="500.8" r="0.8" fill="#fff" opacity="0.74"/><circle cx="356.1" cy="460.9" r="1.0" fill="#fff" opacity="0.44"/><circle cx="168.2" cy="375.3" r="1.5" fill="#fff" opacity="0.67"/><circle cx="488.5" cy="387.7" r="1.5" fill="#fff" opacity="0.61"/><circle cx="449.6" cy="646.6" r="1.2" fill="#fff" opacity="0.64"/><circle cx="483.0" cy="528.7" r="0.6" fill="#fff" opacity="0.69"/><circle cx="367.4" cy="725.5" r="0.8" fill="#fff" opacity="0.59"/><circle cx="302.8" cy="404.7" r="1.2" fill="#fff" opacity="0.46"/><circle cx="210.0" cy="373.6" r="0.6" fill="#fff" opacity="0.35"/><circle cx="394.3" cy="723.2" r="0.6" fill="#fff" opacity="0.46"/><circle cx="199.2" cy="538.0" r="1.0" fill="#fff" opacity="0.71"/><circle cx="242.2" cy="632.1" r="0.8" fill="#fff" opacity="0.81"/><circle cx="286.3" cy="637.0" r="0.8" fill="#fff" opacity="0.71"/><circle cx="186.0" cy="594.3" r="1.2" fill="#fff" opacity="0.58"/><circle cx="487.9" cy="459.5" r="0.6" fill="#fff" opacity="0.71"/><circle cx="160.1" cy="373.3" r="1.5" fill="#fff" opacity="0.39"/><circle cx="266.7" cy="630.6" r="0.8" fill="#fff" opacity="0.83"/><circle cx="453.2" cy="587.2" r="1.0" fill="#fff" opacity="0.53"/><circle cx="360.7" cy="525.9" r="0.8" fill="#fff" opacity="0.42"/><circle cx="439.9" cy="498.8" r="0.8" fill="#fff" opacity="0.66"/><circle cx="304.8" cy="506.9" r="1.2" fill="#fff" opacity="0.82"/><circle cx="435.3" cy="572.1" r="1.0" fill="#fff" opacity="0.49"/><circle cx="377.4" cy="602.3" r="1.5" fill="#fff" opacity="0.52"/><circle cx="371.7" cy="719.9" r="0.8" fill="#fff" opacity="0.65"/><circle cx="265.9" cy="522.3" r="0.8" fill="#fff" opacity="0.54"/><circle cx="399.8" cy="584.6" r="0.8" fill="#fff" opacity="0.75"/><circle cx="256.9" cy="368.6" r="1.0" fill="#fff" opacity="0.48"/><circle cx="212.0" cy="699.4" r="0.6" fill="#fff" opacity="0.49"/><circle cx="206.1" cy="688.6" r="1.5" fill="#fff" opacity="0.42"/><circle cx="503.2" cy="655.0" r="1.5" fill="#fff" opacity="0.69"/><circle cx="481.3" cy="492.9" r="0.6" fill="#fff" opacity="0.62"/><circle cx="328.6" cy="505.4" r="0.8" fill="#fff" opacity="0.50"/><circle cx="176.5" cy="510.4" r="0.8" fill="#fff" opacity="0.81"/><circle cx="364.8" cy="371.4" r="1.2" fill="#fff" opacity="0.58"/><circle cx="187.2" cy="658.4" r="0.6" fill="#fff" opacity="0.47"/><circle cx="362.3" cy="690.9" r="1.5" fill="#fff" opacity="0.51"/><circle cx="336.2" cy="440.7" r="0.8" fill="#fff" opacity="0.45"/><circle cx="220.3" cy="620.4" r="1.0" fill="#fff" opacity="0.64"/><circle cx="283.8" cy="648.7" r="0.8" fill="#fff" opacity="0.47"/><circle cx="484.5" cy="545.6" r="0.6" fill="#fff" opacity="0.54"/><circle cx="321.0" cy="397.4" r="1.0" fill="#fff" opacity="0.65"/><circle cx="278.8" cy="555.0" r="0.6" fill="#fff" opacity="0.40"/><circle cx="228.9" cy="681.5" r="1.5" fill="#fff" opacity="0.59"/><circle cx="357.9" cy="462.2" r="1.0" fill="#fff" opacity="0.56"/><circle cx="493.0" cy="644.2" r="1.5" fill="#fff" opacity="0.83"/><circle cx="246.4" cy="381.6" r="0.8" fill="#fff" opacity="0.85"/><circle cx="290.6" cy="377.9" r="0.6" fill="#fff" opacity="0.63"/><circle cx="466.0" cy="533.0" r="0.6" fill="#fff" opacity="0.78"/><circle cx="383.8" cy="700.0" r="0.6" fill="#fff" opacity="0.48"/><circle cx="357.0" cy="598.6" r="1.5" fill="#fff" opacity="0.55"/><circle cx="315.6" cy="425.5" r="0.8" fill="#fff" opacity="0.85"/><circle cx="234.9" cy="381.9" r="1.0" fill="#fff" opacity="0.82"/><circle cx="177.1" cy="567.0" r="0.6" fill="#fff" opacity="0.77"/><circle cx="172.7" cy="651.1" r="1.2" fill="#fff" opacity="0.38"/><circle cx="207.5" cy="639.8" r="0.8" fill="#fff" opacity="0.69"/><circle cx="262.4" cy="580.9" r="0.6" fill="#fff" opacity="0.59"/><circle cx="288.3" cy="508.4" r="1.0" fill="#fff" opacity="0.59"/><circle cx="216.0" cy="453.8" r="0.8" fill="#fff" opacity="0.81"/><circle cx="473.6" cy="536.4" r="0.8" fill="#fff" opacity="0.75"/><circle cx="211.9" cy="667.8" r="0.6" fill="#fff" opacity="0.82"/><circle cx="464.6" cy="687.9" r="0.8" fill="#fff" opacity="0.74"/><circle cx="497.0" cy="701.3" r="1.2" fill="#fff" opacity="0.77"/><circle cx="379.7" cy="530.8" r="1.0" fill="#fff" opacity="0.51"/><circle cx="239.3" cy="409.6" r="1.0" fill="#fff" opacity="0.42"/><circle cx="234.9" cy="388.4" r="1.2" fill="#fff" opacity="0.63"/><circle cx="207.5" cy="681.5" r="1.0" fill="#fff" opacity="0.56"/><circle cx="243.8" cy="377.2" r="1.5" fill="#fff" opacity="0.77"/><circle cx="275.1" cy="428.4" r="1.2" fill="#fff" opacity="0.40"/><circle cx="318.4" cy="541.7" r="0.8" fill="#fff" opacity="0.84"/><circle cx="176.2" cy="690.2" r="0.8" fill="#fff" opacity="0.63"/><circle cx="453.4" cy="410.9" r="0.8" fill="#fff" opacity="0.84"/><circle cx="309.8" cy="462.1" r="0.8" fill="#fff" opacity="0.81"/><circle cx="190.7" cy="472.2" r="0.8" fill="#fff" opacity="0.38"/><circle cx="414.6" cy="473.7" r="0.6" fill="#fff" opacity="0.57"/><circle cx="336.8" cy="551.9" r="1.2" fill="#fff" opacity="0.35"/><circle cx="452.3" cy="557.6" r="0.8" fill="#fff" opacity="0.53"/><circle cx="170.4" cy="515.2" r="1.0" fill="#fff" opacity="0.64"/><circle cx="205.2" cy="432.8" r="0.8" fill="#fff" opacity="0.71"/><circle cx="226.0" cy="396.5" r="0.6" fill="#fff" opacity="0.79"/><circle cx="416.2" cy="642.1" r="0.8" fill="#fff" opacity="0.45"/><circle cx="374.0" cy="622.8" r="0.8" fill="#fff" opacity="0.64"/><circle cx="228.0" cy="391.7" r="1.5" fill="#fff" opacity="0.55"/><circle cx="412.9" cy="387.9" r="1.0" fill="#fff" opacity="0.52"/><circle cx="455.7" cy="679.2" r="1.2" fill="#fff" opacity="0.40"/><circle cx="301.8" cy="642.7" r="0.8" fill="#fff" opacity="0.79"/><circle cx="250.8" cy="435.0" r="1.0" fill="#fff" opacity="0.37"/><circle cx="406.0" cy="575.0" r="0.6" fill="#fff" opacity="0.53"/><circle cx="487.8" cy="716.7" r="0.6" fill="#fff" opacity="0.41"/><circle cx="410.4" cy="662.0" r="1.0" fill="#fff" opacity="0.74"/><circle cx="465.0" cy="575.5" r="0.6" fill="#fff" opacity="0.50"/><circle cx="194.3" cy="631.1" r="1.2" fill="#fff" opacity="0.61"/><circle cx="344.9" cy="561.4" r="0.6" fill="#fff" opacity="0.47"/><circle cx="187.5" cy="590.9" r="0.8" fill="#fff" opacity="0.40"/><circle cx="245.2" cy="662.2" r="0.6" fill="#fff" opacity="0.36"/><circle cx="485.8" cy="633.9" r="1.0" fill="#fff" opacity="0.36"/><circle cx="369.4" cy="575.5" r="1.5" fill="#fff" opacity="0.47"/><circle cx="314.1" cy="494.3" r="0.6" fill="#fff" opacity="0.71"/><circle cx="172.1" cy="412.3" r="1.2" fill="#fff" opacity="0.64"/><circle cx="427.1" cy="407.6" r="0.6" fill="#fff" opacity="0.55"/><circle cx="204.8" cy="581.1" r="0.8" fill="#fff" opacity="0.42"/><circle cx="359.9" cy="636.8" r="0.8" fill="#fff" opacity="0.82"/><circle cx="162.6" cy="596.6" r="1.2" fill="#fff" opacity="0.65"/><circle cx="370.6" cy="381.0" r="0.6" fill="#fff" opacity="0.74"/><circle cx="276.5" cy="454.5" r="1.0" fill="#fff" opacity="0.71"/><circle cx="456.1" cy="571.2" r="1.0" fill="#fff" opacity="0.76"/><circle cx="457.8" cy="387.3" r="1.5" fill="#fff" opacity="0.42"/><circle cx="398.1" cy="495.2" r="1.2" fill="#fff" opacity="0.68"/><circle cx="160.1" cy="407.2" r="0.8" fill="#fff" opacity="0.38"/><circle cx="310.2" cy="549.7" r="0.6" fill="#fff" opacity="0.46"/><circle cx="305.8" cy="510.9" r="1.2" fill="#fff" opacity="0.67"/><circle cx="444.1" cy="686.4" r="0.6" fill="#fff" opacity="0.37"/><circle cx="384.4" cy="463.7" r="1.5" fill="#fff" opacity="0.49"/><circle cx="349.0" cy="700.8" r="1.5" fill="#fff" opacity="0.40"/><circle cx="199.3" cy="372.9" r="0.8" fill="#fff" opacity="0.83"/><circle cx="258.4" cy="477.9" r="0.8" fill="#fff" opacity="0.41"/><circle cx="367.6" cy="712.2" r="1.5" fill="#fff" opacity="0.80"/><circle cx="186.1" cy="580.5" r="0.8" fill="#fff" opacity="0.57"/><circle cx="338.1" cy="686.7" r="1.2" fill="#fff" opacity="0.64"/><circle cx="253.6" cy="632.9" r="1.5" fill="#fff" opacity="0.49"/><circle cx="317.7" cy="618.1" r="0.8" fill="#fff" opacity="0.68"/><circle cx="227.6" cy="623.7" r="1.2" fill="#fff" opacity="0.80"/><circle cx="264.1" cy="540.0" r="1.0" fill="#fff" opacity="0.37"/><circle cx="274.8" cy="436.0" r="1.5" fill="#fff" opacity="0.54"/><circle cx="364.5" cy="372.3" r="1.0" fill="#fff" opacity="0.43"/><circle cx="494.9" cy="484.6" r="1.0" fill="#fff" opacity="0.60"/><circle cx="257.4" cy="723.5" r="1.0" fill="#fff" opacity="0.38"/><circle cx="163.8" cy="566.4" r="1.5" fill="#fff" opacity="0.79"/><circle cx="312.6" cy="390.3" r="1.2" fill="#fff" opacity="0.77"/><circle cx="282.1" cy="642.6" r="1.5" fill="#fff" opacity="0.46"/><circle cx="497.5" cy="633.9" r="0.8" fill="#fff" opacity="0.56"/><circle cx="393.9" cy="418.5" r="0.8" fill="#fff" opacity="0.66"/><circle cx="458.6" cy="663.6" r="1.5" fill="#fff" opacity="0.40"/><circle cx="460.8" cy="699.9" r="1.2" fill="#fff" opacity="0.48"/><circle cx="380.5" cy="595.6" r="0.8" fill="#fff" opacity="0.56"/><circle cx="192.8" cy="515.8" r="1.5" fill="#fff" opacity="0.64"/><circle cx="333.2" cy="714.6" r="1.5" fill="#fff" opacity="0.42"/><circle cx="458.6" cy="468.6" r="1.5" fill="#fff" opacity="0.65"/><circle cx="291.1" cy="530.8" r="1.2" fill="#fff" opacity="0.49"/><circle cx="281.5" cy="495.1" r="1.5" fill="#fff" opacity="0.63"/><circle cx="292.9" cy="483.9" r="1.2" fill="#fff" opacity="0.54"/><circle cx="262.8" cy="561.3" r="0.8" fill="#fff" opacity="0.57"/><circle cx="290.2" cy="451.5" r="1.0" fill="#fff" opacity="0.51"/><circle cx="456.2" cy="669.7" r="1.0" fill="#fff" opacity="0.45"/><circle cx="307.8" cy="695.8" r="0.6" fill="#fff" opacity="0.36"/><circle cx="247.3" cy="690.5" r="1.0" fill="#fff" opacity="0.81"/><circle cx="431.4" cy="561.9" r="1.2" fill="#fff" opacity="0.61"/><circle cx="340.1" cy="614.7" r="1.2" fill="#fff" opacity="0.58"/><circle cx="170.5" cy="611.4" r="1.2" fill="#fff" opacity="0.82"/><circle cx="396.8" cy="557.1" r="0.6" fill="#fff" opacity="0.55"/><circle cx="334.3" cy="601.5" r="1.5" fill="#fff" opacity="0.43"/><circle cx="223.0" cy="519.6" r="1.2" fill="#fff" opacity="0.57"/><circle cx="378.4" cy="726.6" r="1.0" fill="#fff" opacity="0.70"/><circle cx="421.7" cy="401.2" r="1.0" fill="#fff" opacity="0.51"/><circle cx="504.3" cy="665.4" r="1.5" fill="#fff" opacity="0.44"/><circle cx="389.5" cy="474.2" r="1.0" fill="#fff" opacity="0.76"/><circle cx="508.5" cy="687.7" r="1.2" fill="#fff" opacity="0.67"/><circle cx="342.6" cy="661.8" r="0.8" fill="#fff" opacity="0.60"/><circle cx="223.0" cy="433.7" r="1.5" fill="#fff" opacity="0.65"/><circle cx="281.7" cy="725.7" r="0.6" fill="#fff" opacity="0.70"/><circle cx="159.8" cy="369.0" r="1.5" fill="#fff" opacity="0.35"/><circle cx="264.4" cy="671.2" r="1.5" fill="#fff" opacity="0.36"/><circle cx="166.5" cy="431.1" r="1.5" fill="#fff" opacity="0.63"/><circle cx="466.1" cy="690.4" r="1.5" fill="#fff" opacity="0.85"/><circle cx="360.5" cy="516.0" r="0.6" fill="#fff" opacity="0.42"/><circle cx="340.6" cy="551.4" r="0.6" fill="#fff" opacity="0.40"/><circle cx="216.7" cy="556.1" r="1.2" fill="#fff" opacity="0.66"/><circle cx="443.1" cy="390.4" r="0.6" fill="#fff" opacity="0.69"/><circle cx="362.1" cy="419.8" r="0.8" fill="#fff" opacity="0.53"/><circle cx="216.3" cy="464.0" r="0.6" fill="#fff" opacity="0.78"/><circle cx="493.4" cy="390.7" r="0.8" fill="#fff" opacity="0.57"/><circle cx="293.3" cy="387.7" r="1.2" fill="#fff" opacity="0.64"/><circle cx="497.6" cy="526.3" r="1.5" fill="#fff" opacity="0.47"/><circle cx="235.4" cy="425.4" r="1.5" fill="#fff" opacity="0.78"/><circle cx="268.1" cy="691.6" r="1.2" fill="#fff" opacity="0.50"/><circle cx="370.5" cy="713.6" r="1.2" fill="#fff" opacity="0.84"/><circle cx="180.0" cy="611.8" r="1.5" fill="#fff" opacity="0.46"/><circle cx="266.1" cy="683.1" r="1.2" fill="#fff" opacity="0.36"/><circle cx="465.1" cy="399.5" r="0.8" fill="#fff" opacity="0.53"/><circle cx="222.4" cy="717.8" r="1.0" fill="#fff" opacity="0.55"/><circle cx="285.2" cy="488.6" r="1.2" fill="#fff" opacity="0.52"/><circle cx="387.9" cy="714.0" r="1.2" fill="#fff" opacity="0.76"/><circle cx="281.0" cy="456.2" r="0.8" fill="#fff" opacity="0.58"/><circle cx="278.6" cy="524.8" r="1.0" fill="#fff" opacity="0.68"/><circle cx="277.5" cy="424.1" r="0.8" fill="#fff" opacity="0.40"/><circle cx="252.0" cy="668.6" r="0.8" fill="#fff" opacity="0.63"/><circle cx="322.3" cy="654.2" r="0.8" fill="#fff" opacity="0.43"/><circle cx="281.6" cy="628.1" r="1.2" fill="#fff" opacity="0.66"/><circle cx="362.7" cy="475.0" r="1.2" fill="#fff" opacity="0.60"/><circle cx="236.9" cy="531.0" r="0.8" fill="#fff" opacity="0.82"/><circle cx="511.3" cy="582.5" r="1.2" fill="#fff" opacity="0.64"/><circle cx="287.0" cy="456.7" r="1.5" fill="#fff" opacity="0.61"/><circle cx="200.7" cy="638.2" r="1.5" fill="#fff" opacity="0.40"/><circle cx="459.3" cy="632.9" r="1.2" fill="#fff" opacity="0.36"/><circle cx="411.7" cy="420.2" r="0.6" fill="#fff" opacity="0.54"/><circle cx="186.6" cy="431.7" r="0.8" fill="#fff" opacity="0.51"/><circle cx="391.9" cy="407.2" r="1.5" fill="#fff" opacity="0.81"/><circle cx="442.6" cy="641.0" r="0.8" fill="#fff" opacity="0.38"/><circle cx="266.8" cy="449.5" r="0.8" fill="#fff" opacity="0.76"/><circle cx="298.0" cy="496.1" r="1.2" fill="#fff" opacity="0.74"/><circle cx="470.3" cy="678.1" r="0.8" fill="#fff" opacity="0.82"/><circle cx="218.8" cy="500.0" r="1.0" fill="#fff" opacity="0.80"/><circle cx="165.0" cy="621.4" r="1.2" fill="#fff" opacity="0.47"/><circle cx="457.4" cy="494.8" r="0.6" fill="#fff" opacity="0.44"/><circle cx="197.0" cy="696.6" r="0.8" fill="#fff" opacity="0.71"/><circle cx="170.4" cy="382.4" r="0.8" fill="#fff" opacity="0.57"/><circle cx="425.5" cy="424.2" r="0.6" fill="#fff" opacity="0.63"/><circle cx="380.1" cy="707.0" r="1.5" fill="#fff" opacity="0.77"/><circle cx="359.0" cy="626.0" r="1.0" fill="#fff" opacity="0.81"/><circle cx="394.6" cy="575.1" r="0.6" fill="#fff" opacity="0.41"/><circle cx="427.9" cy="604.0" r="0.6" fill="#fff" opacity="0.79"/><circle cx="364.3" cy="618.6" r="0.8" fill="#fff" opacity="0.69"/><circle cx="169.2" cy="482.7" r="1.0" fill="#fff" opacity="0.72"/><circle cx="186.7" cy="618.1" r="1.2" fill="#fff" opacity="0.85"/><circle cx="375.1" cy="447.5" r="1.5" fill="#fff" opacity="0.39"/><circle cx="492.9" cy="520.6" r="1.0" fill="#fff" opacity="0.70"/><circle cx="418.9" cy="666.8" r="1.2" fill="#fff" opacity="0.60"/><circle cx="396.9" cy="442.1" r="1.5" fill="#fff" opacity="0.77"/><circle cx="433.1" cy="544.2" r="0.8" fill="#fff" opacity="0.37"/><circle cx="406.2" cy="658.1" r="1.0" fill="#fff" opacity="0.44"/><circle cx="214.3" cy="649.1" r="0.8" fill="#fff" opacity="0.62"/><circle cx="244.9" cy="389.4" r="1.0" fill="#fff" opacity="0.52"/><circle cx="188.9" cy="597.1" r="0.8" fill="#fff" opacity="0.42"/><circle cx="407.7" cy="609.3" r="0.8" fill="#fff" opacity="0.70"/><circle cx="158.1" cy="616.9" r="0.8" fill="#fff" opacity="0.82"/><circle cx="281.1" cy="475.8" r="0.8" fill="#fff" opacity="0.64"/><circle cx="241.7" cy="594.6" r="0.6" fill="#fff" opacity="0.62"/><circle cx="426.7" cy="428.9" r="0.8" fill="#fff" opacity="0.65"/><circle cx="320.2" cy="643.8" r="0.8" fill="#fff" opacity="0.41"/><circle cx="259.0" cy="497.8" r="0.8" fill="#fff" opacity="0.37"/><circle cx="474.9" cy="477.4" r="0.6" fill="#fff" opacity="0.70"/><circle cx="315.5" cy="408.7" r="1.0" fill="#fff" opacity="0.57"/><circle cx="358.6" cy="472.2" r="1.5" fill="#fff" opacity="0.39"/><circle cx="159.8" cy="725.2" r="1.2" fill="#fff" opacity="0.39"/><circle cx="411.3" cy="720.9" r="1.5" fill="#fff" opacity="0.48"/><circle cx="385.7" cy="712.4" r="1.2" fill="#fff" opacity="0.44"/><circle cx="349.3" cy="371.0" r="0.6" fill="#fff" opacity="0.67"/><circle cx="379.5" cy="704.7" r="1.0" fill="#fff" opacity="0.68"/><circle cx="183.8" cy="637.1" r="0.6" fill="#fff" opacity="0.74"/><circle cx="454.9" cy="474.7" r="0.8" fill="#fff" opacity="0.83"/><circle cx="343.1" cy="690.4" r="0.8" fill="#fff" opacity="0.40"/><circle cx="411.9" cy="479.7" r="1.5" fill="#fff" opacity="0.51"/><circle cx="221.7" cy="665.1" r="1.0" fill="#fff" opacity="0.47"/><circle cx="204.5" cy="699.1" r="1.0" fill="#fff" opacity="0.47"/><circle cx="170.7" cy="572.1" r="1.2" fill="#fff" opacity="0.80"/><circle cx="492.4" cy="546.0" r="1.2" fill="#fff" opacity="0.72"/><circle cx="510.4" cy="584.9" r="0.6" fill="#fff" opacity="0.42"/><circle cx="237.0" cy="417.8" r="1.2" fill="#fff" opacity="0.39"/><circle cx="170.2" cy="526.2" r="0.8" fill="#fff" opacity="0.46"/><circle cx="288.6" cy="379.5" r="1.5" fill="#fff" opacity="0.78"/><circle cx="436.1" cy="521.2" r="1.0" fill="#fff" opacity="0.39"/><circle cx="175.7" cy="623.9" r="1.0" fill="#fff" opacity="0.38"/><circle cx="159.1" cy="712.2" r="0.8" fill="#fff" opacity="0.80"/><circle cx="214.5" cy="474.5" r="1.2" fill="#fff" opacity="0.75"/><circle cx="396.4" cy="572.3" r="1.2" fill="#fff" opacity="0.39"/><circle cx="271.2" cy="533.8" r="1.5" fill="#fff" opacity="0.80"/><circle cx="464.1" cy="718.8" r="1.5" fill="#fff" opacity="0.66"/><circle cx="444.8" cy="389.6" r="1.0" fill="#fff" opacity="0.65"/><circle cx="261.7" cy="573.6" r="1.0" fill="#fff" opacity="0.59"/><circle cx="386.5" cy="475.8" r="1.0" fill="#fff" opacity="0.62"/><circle cx="381.6" cy="673.3" r="0.8" fill="#fff" opacity="0.69"/><circle cx="315.3" cy="398.7" r="1.5" fill="#fff" opacity="0.54"/><circle cx="362.8" cy="517.9" r="1.5" fill="#fff" opacity="0.47"/><circle cx="313.1" cy="462.0" r="0.8" fill="#fff" opacity="0.44"/><circle cx="472.8" cy="565.3" r="0.6" fill="#fff" opacity="0.46"/><circle cx="454.1" cy="601.9" r="0.8" fill="#fff" opacity="0.62"/><circle cx="245.5" cy="544.1" r="1.5" fill="#fff" opacity="0.58"/><circle cx="348.7" cy="618.8" r="1.5" fill="#fff" opacity="0.80"/><circle cx="357.8" cy="674.6" r="0.6" fill="#fff" opacity="0.75"/><circle cx="203.8" cy="549.1" r="1.5" fill="#fff" opacity="0.71"/><circle cx="425.5" cy="409.3" r="1.5" fill="#fff" opacity="0.40"/><circle cx="451.6" cy="509.1" r="0.8" fill="#fff" opacity="0.83"/><circle cx="224.2" cy="539.0" r="0.6" fill="#fff" opacity="0.42"/><circle cx="432.3" cy="388.7" r="0.8" fill="#fff" opacity="0.37"/><circle cx="170.9" cy="620.7" r="0.8" fill="#fff" opacity="0.58"/><circle cx="198.9" cy="416.8" r="0.6" fill="#fff" opacity="0.66"/><circle cx="466.5" cy="570.7" r="1.0" fill="#fff" opacity="0.43"/><circle cx="421.4" cy="490.9" r="0.6" fill="#fff" opacity="0.76"/><circle cx="199.7" cy="502.3" r="1.5" fill="#fff" opacity="0.82"/><circle cx="413.0" cy="383.7" r="1.5" fill="#fff" opacity="0.53"/><circle cx="282.6" cy="485.9" r="1.5" fill="#fff" opacity="0.41"/><circle cx="485.4" cy="611.1" r="1.0" fill="#fff" opacity="0.53"/><circle cx="403.0" cy="375.7" r="1.5" fill="#fff" opacity="0.57"/><circle cx="437.7" cy="543.7" r="0.6" fill="#fff" opacity="0.75"/><circle cx="222.0" cy="567.5" r="1.0" fill="#fff" opacity="0.79"/><circle cx="394.4" cy="669.0" r="1.5" fill="#fff" opacity="0.79"/><circle cx="347.7" cy="616.2" r="1.0" fill="#fff" opacity="0.82"/><circle cx="160.9" cy="491.3" r="0.8" fill="#fff" opacity="0.59"/><circle cx="328.3" cy="379.4" r="0.6" fill="#fff" opacity="0.39"/><circle cx="376.9" cy="600.1" r="1.5" fill="#fff" opacity="0.55"/><circle cx="325.4" cy="425.0" r="1.2" fill="#fff" opacity="0.55"/><circle cx="466.8" cy="587.9" r="0.6" fill="#fff" opacity="0.53"/><circle cx="344.1" cy="480.1" r="0.8" fill="#fff" opacity="0.64"/><circle cx="171.5" cy="429.1" r="1.0" fill="#fff" opacity="0.71"/><circle cx="274.0" cy="536.6" r="1.0" fill="#fff" opacity="0.51"/><circle cx="275.4" cy="542.0" r="0.8" fill="#fff" opacity="0.36"/><circle cx="319.5" cy="723.1" r="0.6" fill="#fff" opacity="0.67"/><circle cx="414.8" cy="419.7" r="1.2" fill="#fff" opacity="0.49"/><circle cx="334.0" cy="462.3" r="1.5" fill="#fff" opacity="0.64"/><circle cx="364.1" cy="418.1" r="0.6" fill="#fff" opacity="0.81"/><circle cx="477.3" cy="402.3" r="0.8" fill="#fff" opacity="0.74"/><circle cx="381.4" cy="596.5" r="1.0" fill="#fff" opacity="0.75"/><circle cx="438.3" cy="453.7" r="0.8" fill="#fff" opacity="0.69"/><circle cx="264.2" cy="642.8" r="1.0" fill="#fff" opacity="0.60"/><circle cx="382.1" cy="494.2" r="1.5" fill="#fff" opacity="0.71"/><circle cx="275.1" cy="621.5" r="1.0" fill="#fff" opacity="0.79"/><circle cx="434.6" cy="549.3" r="0.8" fill="#fff" opacity="0.75"/><circle cx="510.8" cy="422.3" r="0.8" fill="#fff" opacity="0.35"/><circle cx="466.1" cy="531.1" r="1.2" fill="#fff" opacity="0.55"/><circle cx="431.0" cy="702.6" r="1.5" fill="#fff" opacity="0.38"/><circle cx="263.3" cy="479.1" r="1.5" fill="#fff" opacity="0.63"/><circle cx="489.7" cy="490.6" r="0.8" fill="#fff" opacity="0.64"/><circle cx="184.5" cy="432.3" r="1.5" fill="#fff" opacity="0.53"/><circle cx="322.6" cy="717.4" r="1.2" fill="#fff" opacity="0.71"/><circle cx="484.2" cy="669.9" r="1.0" fill="#fff" opacity="0.80"/><circle cx="254.2" cy="460.7" r="0.6" fill="#fff" opacity="0.73"/><circle cx="379.0" cy="453.3" r="0.6" fill="#fff" opacity="0.46"/><circle cx="298.2" cy="440.1" r="1.5" fill="#fff" opacity="0.49"/><circle cx="334.7" cy="403.8" r="0.8" fill="#fff" opacity="0.72"/><circle cx="498.9" cy="584.4" r="0.6" fill="#fff" opacity="0.39"/><circle cx="446.6" cy="575.2" r="0.8" fill="#fff" opacity="0.35"/><circle cx="252.3" cy="599.3" r="0.6" fill="#fff" opacity="0.67"/><circle cx="484.5" cy="444.4" r="1.0" fill="#fff" opacity="0.78"/><circle cx="165.6" cy="543.1" r="1.5" fill="#fff" opacity="0.69"/><circle cx="276.2" cy="388.7" r="1.2" fill="#fff" opacity="0.75"/><circle cx="187.0" cy="588.6" r="1.2" fill="#fff" opacity="0.84"/><circle cx="298.2" cy="706.5" r="0.6" fill="#fff" opacity="0.36"/><circle cx="268.8" cy="603.5" r="1.0" fill="#fff" opacity="0.38"/><circle cx="374.6" cy="628.7" r="1.0" fill="#fff" opacity="0.43"/><circle cx="162.6" cy="443.8" r="1.5" fill="#fff" opacity="0.73"/><circle cx="188.0" cy="661.0" r="1.2" fill="#fff" opacity="0.52"/><circle cx="398.1" cy="679.7" r="0.8" fill="#fff" opacity="0.68"/><circle cx="370.2" cy="487.1" r="1.5" fill="#fff" opacity="0.48"/><circle cx="409.3" cy="642.8" r="1.0" fill="#fff" opacity="0.68"/><circle cx="351.6" cy="622.3" r="1.5" fill="#fff" opacity="0.49"/><circle cx="342.3" cy="706.7" r="0.8" fill="#fff" opacity="0.48"/><circle cx="354.7" cy="403.9" r="1.0" fill="#fff" opacity="0.43"/><circle cx="379.9" cy="512.3" r="0.6" fill="#fff" opacity="0.82"/><circle cx="378.4" cy="412.0" r="1.5" fill="#fff" opacity="0.60"/><circle cx="353.7" cy="433.5" r="1.5" fill="#fff" opacity="0.53"/><circle cx="209.2" cy="431.9" r="0.8" fill="#fff" opacity="0.61"/><circle cx="280.9" cy="623.5" r="1.2" fill="#fff" opacity="0.84"/><circle cx="333.6" cy="597.0" r="1.0" fill="#fff" opacity="0.80"/><circle cx="294.5" cy="444.4" r="0.6" fill="#fff" opacity="0.40"/><circle cx="417.1" cy="391.6" r="1.2" fill="#fff" opacity="0.69"/><circle cx="280.8" cy="450.1" r="1.2" fill="#fff" opacity="0.55"/><circle cx="483.2" cy="708.2" r="0.8" fill="#fff" opacity="0.37"/><circle cx="163.4" cy="623.3" r="0.8" fill="#fff" opacity="0.47"/><circle cx="228.3" cy="641.3" r="1.0" fill="#fff" opacity="0.50"/><circle cx="510.0" cy="446.0" r="1.5" fill="#fff" opacity="0.75"/><circle cx="325.9" cy="704.2" r="1.0" fill="#fff" opacity="0.83"/><circle cx="204.6" cy="476.0" r="0.6" fill="#fff" opacity="0.52"/><circle cx="328.9" cy="688.7" r="0.8" fill="#fff" opacity="0.51"/><circle cx="373.3" cy="712.5" r="0.8" fill="#fff" opacity="0.64"/><circle cx="470.3" cy="443.5" r="1.0" fill="#fff" opacity="0.37"/><circle cx="431.5" cy="526.1" r="1.2" fill="#fff" opacity="0.78"/><circle cx="510.2" cy="475.1" r="0.6" fill="#fff" opacity="0.75"/><circle cx="210.1" cy="696.6" r="0.8" fill="#fff" opacity="0.81"/><circle cx="209.7" cy="633.0" r="0.6" fill="#fff" opacity="0.73"/><circle cx="321.4" cy="511.0" r="1.2" fill="#fff" opacity="0.52"/><circle cx="483.0" cy="625.9" r="1.0" fill="#fff" opacity="0.84"/><circle cx="167.7" cy="452.5" r="0.6" fill="#fff" opacity="0.37"/><circle cx="335.7" cy="451.4" r="1.2" fill="#fff" opacity="0.70"/><circle cx="415.3" cy="385.4" r="1.0" fill="#fff" opacity="0.38"/><circle cx="195.3" cy="712.6" r="0.8" fill="#fff" opacity="0.61"/><circle cx="156.9" cy="448.6" r="1.5" fill="#fff" opacity="0.42"/><circle cx="418.8" cy="548.3" r="0.6" fill="#fff" opacity="0.61"/><circle cx="454.9" cy="712.6" r="0.6" fill="#fff" opacity="0.52"/><circle cx="232.6" cy="716.3" r="0.8" fill="#fff" opacity="0.72"/><circle cx="253.2" cy="431.8" r="1.0" fill="#fff" opacity="0.48"/><circle cx="500.0" cy="438.7" r="0.6" fill="#fff" opacity="0.55"/><circle cx="354.2" cy="498.5" r="0.6" fill="#fff" opacity="0.51"/><circle cx="170.7" cy="531.3" r="1.0" fill="#fff" opacity="0.62"/><circle cx="401.7" cy="721.7" r="1.0" fill="#fff" opacity="0.55"/><circle cx="269.3" cy="518.9" r="0.8" fill="#fff" opacity="0.54"/><circle cx="293.2" cy="515.6" r="0.8" fill="#fff" opacity="0.80"/><circle cx="382.1" cy="454.1" r="1.5" fill="#fff" opacity="0.81"/><circle cx="246.7" cy="587.9" r="1.2" fill="#fff" opacity="0.85"/><circle cx="449.9" cy="606.8" r="0.6" fill="#fff" opacity="0.77"/><circle cx="435.1" cy="695.1" r="0.6" fill="#fff" opacity="0.55"/><circle cx="354.8" cy="614.5" r="1.2" fill="#fff" opacity="0.62"/><circle cx="268.4" cy="717.8" r="0.6" fill="#fff" opacity="0.59"/><circle cx="386.4" cy="537.4" r="1.0" fill="#fff" opacity="0.65"/><circle cx="510.1" cy="452.4" r="1.2" fill="#fff" opacity="0.53"/><circle cx="178.8" cy="719.3" r="1.0" fill="#fff" opacity="0.66"/><circle cx="397.1" cy="484.0" r="1.5" fill="#fff" opacity="0.68"/><circle cx="484.9" cy="643.5" r="1.0" fill="#fff" opacity="0.80"/><circle cx="324.5" cy="627.8" r="1.5" fill="#fff" opacity="0.64"/><circle cx="359.2" cy="727.8" r="0.6" fill="#fff" opacity="0.81"/><circle cx="344.2" cy="556.6" r="1.5" fill="#fff" opacity="0.43"/><circle cx="286.2" cy="610.5" r="0.8" fill="#fff" opacity="0.76"/><circle cx="319.9" cy="598.6" r="0.6" fill="#fff" opacity="0.51"/><circle cx="284.8" cy="678.9" r="1.2" fill="#fff" opacity="0.41"/><circle cx="210.8" cy="458.5" r="0.6" fill="#fff" opacity="0.53"/><circle cx="392.0" cy="556.1" r="1.0" fill="#fff" opacity="0.58"/><circle cx="187.3" cy="510.4" r="1.2" fill="#fff" opacity="0.70"/><circle cx="316.0" cy="540.2" r="0.8" fill="#fff" opacity="0.73"/><circle cx="209.4" cy="612.9" r="1.0" fill="#fff" opacity="0.59"/><circle cx="391.1" cy="592.2" r="1.5" fill="#fff" opacity="0.52"/><circle cx="291.7" cy="374.4" r="0.8" fill="#fff" opacity="0.35"/><circle cx="248.4" cy="580.6" r="1.0" fill="#fff" opacity="0.71"/><circle cx="253.8" cy="484.6" r="0.8" fill="#fff" opacity="0.48"/><circle cx="312.0" cy="557.1" r="1.2" fill="#fff" opacity="0.78"/><circle cx="227.8" cy="520.3" r="1.0" fill="#fff" opacity="0.66"/><circle cx="288.3" cy="383.8" r="1.2" fill="#fff" opacity="0.54"/><circle cx="170.9" cy="639.1" r="1.2" fill="#fff" opacity="0.57"/><circle cx="372.2" cy="460.4" r="0.8" fill="#fff" opacity="0.54"/><circle cx="362.0" cy="700.9" r="0.8" fill="#fff" opacity="0.84"/><circle cx="459.2" cy="576.9" r="0.6" fill="#fff" opacity="0.68"/><circle cx="273.3" cy="393.5" r="1.2" fill="#fff" opacity="0.54"/><circle cx="343.2" cy="546.8" r="0.6" fill="#fff" opacity="0.40"/><circle cx="356.6" cy="704.6" r="1.2" fill="#fff" opacity="0.56"/><circle cx="324.6" cy="688.5" r="1.2" fill="#fff" opacity="0.55"/><circle cx="204.2" cy="639.0" r="0.6" fill="#fff" opacity="0.69"/><circle cx="419.6" cy="512.6" r="0.6" fill="#fff" opacity="0.81"/><circle cx="260.7" cy="486.9" r="1.2" fill="#fff" opacity="0.73"/><circle cx="198.1" cy="447.5" r="0.6" fill="#fff" opacity="0.64"/><circle cx="161.5" cy="546.9" r="0.8" fill="#fff" opacity="0.63"/><circle cx="175.6" cy="613.2" r="1.0" fill="#fff" opacity="0.59"/><circle cx="175.5" cy="616.8" r="1.2" fill="#fff" opacity="0.77"/><circle cx="205.9" cy="514.5" r="0.6" fill="#fff" opacity="0.79"/><circle cx="207.8" cy="488.4" r="1.5" fill="#fff" opacity="0.84"/><circle cx="222.3" cy="562.0" r="1.5" fill="#fff" opacity="0.48"/><circle cx="267.4" cy="459.8" r="1.0" fill="#fff" opacity="0.63"/><circle cx="337.9" cy="519.3" r="0.6" fill="#fff" opacity="0.50"/><circle cx="244.5" cy="504.9" r="1.2" fill="#fff" opacity="0.78"/><circle cx="247.5" cy="440.7" r="0.6" fill="#fff" opacity="0.45"/><circle cx="388.2" cy="703.7" r="1.2" fill="#fff" opacity="0.70"/><circle cx="206.3" cy="703.0" r="1.0" fill="#fff" opacity="0.45"/><circle cx="483.3" cy="568.2" r="0.6" fill="#fff" opacity="0.71"/><circle cx="159.0" cy="392.4" r="1.5" fill="#fff" opacity="0.76"/><circle cx="168.6" cy="447.1" r="1.2" fill="#fff" opacity="0.50"/><circle cx="409.0" cy="656.9" r="1.5" fill="#fff" opacity="0.66"/><circle cx="300.5" cy="630.0" r="0.8" fill="#fff" opacity="0.79"/><circle cx="176.5" cy="524.1" r="0.6" fill="#fff" opacity="0.37"/><circle cx="463.1" cy="393.9" r="1.5" fill="#fff" opacity="0.60"/><circle cx="161.1" cy="627.7" r="0.8" fill="#fff" opacity="0.60"/><circle cx="395.9" cy="611.0" r="1.0" fill="#fff" opacity="0.75"/><circle cx="346.3" cy="425.2" r="0.8" fill="#fff" opacity="0.61"/><circle cx="321.8" cy="440.6" r="0.6" fill="#fff" opacity="0.83"/><circle cx="303.6" cy="605.2" r="1.0" fill="#fff" opacity="0.70"/><circle cx="313.5" cy="520.8" r="0.6" fill="#fff" opacity="0.81"/><circle cx="203.5" cy="425.7" r="1.2" fill="#fff" opacity="0.50"/><circle cx="238.8" cy="577.5" r="1.0" fill="#fff" opacity="0.70"/><circle cx="412.1" cy="479.4" r="1.0" fill="#fff" opacity="0.51"/><circle cx="455.5" cy="422.7" r="0.8" fill="#fff" opacity="0.55"/><circle cx="167.7" cy="504.8" r="1.0" fill="#fff" opacity="0.46"/><circle cx="350.3" cy="401.7" r="1.2" fill="#fff" opacity="0.42"/><circle cx="221.5" cy="487.9" r="1.2" fill="#fff" opacity="0.41"/><circle cx="450.9" cy="412.0" r="0.8" fill="#fff" opacity="0.85"/><circle cx="490.4" cy="557.5" r="1.0" fill="#fff" opacity="0.59"/><circle cx="162.3" cy="649.3" r="0.6" fill="#fff" opacity="0.45"/><circle cx="255.7" cy="477.1" r="1.5" fill="#fff" opacity="0.62"/><circle cx="187.5" cy="418.3" r="1.0" fill="#fff" opacity="0.73"/><circle cx="428.4" cy="693.5" r="1.5" fill="#fff" opacity="0.81"/><circle cx="167.5" cy="583.6" r="0.6" fill="#fff" opacity="0.52"/><circle cx="492.2" cy="604.4" r="0.6" fill="#fff" opacity="0.44"/><circle cx="280.7" cy="541.2" r="1.0" fill="#fff" opacity="0.72"/><circle cx="219.7" cy="651.6" r="1.0" fill="#fff" opacity="0.75"/><circle cx="413.6" cy="531.8" r="1.5" fill="#fff" opacity="0.41"/><circle cx="213.4" cy="509.6" r="0.6" fill="#fff" opacity="0.37"/><circle cx="338.8" cy="403.0" r="0.8" fill="#fff" opacity="0.56"/><circle cx="454.0" cy="395.4" r="0.8" fill="#fff" opacity="0.53"/><circle cx="391.9" cy="400.4" r="0.6" fill="#fff" opacity="0.77"/><circle cx="466.9" cy="540.9" r="0.8" fill="#fff" opacity="0.48"/><circle cx="193.9" cy="453.9" r="0.8" fill="#fff" opacity="0.60"/><circle cx="346.8" cy="410.3" r="1.2" fill="#fff" opacity="0.47"/><circle cx="358.3" cy="383.1" r="1.0" fill="#fff" opacity="0.53"/><circle cx="226.4" cy="513.3" r="0.8" fill="#fff" opacity="0.84"/><circle cx="479.4" cy="629.6" r="1.5" fill="#fff" opacity="0.60"/><circle cx="473.1" cy="373.4" r="0.6" fill="#fff" opacity="0.59"/><circle cx="437.6" cy="573.3" r="0.8" fill="#fff" opacity="0.39"/><circle cx="217.0" cy="670.8" r="0.6" fill="#fff" opacity="0.56"/><circle cx="378.2" cy="407.5" r="1.5" fill="#fff" opacity="0.80"/><circle cx="186.0" cy="576.3" r="0.8" fill="#fff" opacity="0.47"/><circle cx="431.9" cy="552.7" r="0.6" fill="#fff" opacity="0.76"/><circle cx="182.0" cy="489.4" r="0.6" fill="#fff" opacity="0.37"/><circle cx="376.1" cy="617.1" r="1.0" fill="#fff" opacity="0.52"/><circle cx="444.6" cy="534.2" r="0.8" fill="#fff" opacity="0.36"/><circle cx="490.7" cy="516.3" r="1.2" fill="#fff" opacity="0.37"/><circle cx="436.7" cy="421.3" r="1.5" fill="#fff" opacity="0.69"/><circle cx="209.8" cy="492.0" r="0.8" fill="#fff" opacity="0.45"/><circle cx="485.3" cy="615.0" r="0.6" fill="#fff" opacity="0.85"/><circle cx="437.8" cy="540.7" r="1.2" fill="#fff" opacity="0.61"/><circle cx="273.5" cy="392.9" r="1.5" fill="#fff" opacity="0.67"/><circle cx="226.9" cy="593.1" r="1.0" fill="#fff" opacity="0.74"/><circle cx="188.9" cy="626.3" r="1.0" fill="#fff" opacity="0.64"/><circle cx="442.0" cy="545.3" r="1.2" fill="#fff" opacity="0.42"/><circle cx="450.9" cy="705.4" r="0.6" fill="#fff" opacity="0.72"/><circle cx="452.4" cy="656.8" r="1.5" fill="#fff" opacity="0.43"/><circle cx="293.4" cy="598.3" r="1.5" fill="#fff" opacity="0.50"/><circle cx="498.1" cy="559.4" r="0.6" fill="#fff" opacity="0.38"/><circle cx="434.8" cy="656.8" r="0.8" fill="#fff" opacity="0.47"/><circle cx="365.2" cy="570.2" r="1.2" fill="#fff" opacity="0.64"/><circle cx="488.2" cy="688.2" r="0.6" fill="#fff" opacity="0.55"/><circle cx="435.0" cy="653.7" r="1.0" fill="#fff" opacity="0.76"/><circle cx="300.6" cy="399.4" r="1.0" fill="#fff" opacity="0.68"/><circle cx="477.9" cy="521.6" r="1.0" fill="#fff" opacity="0.35"/><circle cx="330.1" cy="373.9" r="0.6" fill="#fff" opacity="0.79"/><circle cx="325.2" cy="515.9" r="1.0" fill="#fff" opacity="0.58"/><circle cx="275.4" cy="444.9" r="1.0" fill="#fff" opacity="0.55"/><circle cx="321.9" cy="379.7" r="1.0" fill="#fff" opacity="0.39"/><circle cx="252.5" cy="620.4" r="1.2" fill="#fff" opacity="0.55"/><circle cx="347.6" cy="455.0" r="0.8" fill="#fff" opacity="0.69"/><circle cx="170.8" cy="664.3" r="0.8" fill="#fff" opacity="0.54"/><circle cx="274.4" cy="422.3" r="0.8" fill="#fff" opacity="0.46"/><circle cx="472.8" cy="587.7" r="1.2" fill="#fff" opacity="0.50"/><circle cx="269.4" cy="683.4" r="1.5" fill="#fff" opacity="0.44"/><circle cx="451.7" cy="426.4" r="1.5" fill="#fff" opacity="0.35"/><circle cx="459.8" cy="405.3" r="0.8" fill="#fff" opacity="0.58"/><circle cx="444.1" cy="458.3" r="1.0" fill="#fff" opacity="0.69"/><circle cx="506.5" cy="632.4" r="1.5" fill="#fff" opacity="0.68"/><circle cx="204.1" cy="639.2" r="1.0" fill="#fff" opacity="0.68"/><circle cx="183.0" cy="592.6" r="1.2" fill="#fff" opacity="0.48"/><circle cx="261.3" cy="477.9" r="1.2" fill="#fff" opacity="0.82"/><circle cx="443.9" cy="389.5" r="1.2" fill="#fff" opacity="0.60"/><circle cx="402.2" cy="374.5" r="0.6" fill="#fff" opacity="0.63"/><circle cx="315.4" cy="638.4" r="0.8" fill="#fff" opacity="0.71"/><circle cx="422.9" cy="380.6" r="1.0" fill="#fff" opacity="0.59"/><circle cx="158.5" cy="705.2" r="1.0" fill="#fff" opacity="0.42"/><circle cx="365.2" cy="575.6" r="0.6" fill="#fff" opacity="0.85"/><circle cx="217.8" cy="580.2" r="1.0" fill="#fff" opacity="0.66"/><circle cx="242.1" cy="646.2" r="0.6" fill="#fff" opacity="0.56"/><circle cx="504.2" cy="601.6" r="1.2" fill="#fff" opacity="0.60"/><circle cx="503.0" cy="497.7" r="1.0" fill="#fff" opacity="0.51"/><circle cx="452.7" cy="546.5" r="0.6" fill="#fff" opacity="0.75"/><circle cx="279.6" cy="418.4" r="1.5" fill="#fff" opacity="0.75"/><circle cx="177.9" cy="478.9" r="1.5" fill="#fff" opacity="0.44"/><circle cx="267.1" cy="387.3" r="1.0" fill="#fff" opacity="0.84"/><circle cx="432.6" cy="497.6" r="0.8" fill="#fff" opacity="0.49"/><circle cx="473.3" cy="538.9" r="1.5" fill="#fff" opacity="0.51"/><circle cx="312.0" cy="407.0" r="1.0" fill="#fff" opacity="0.53"/><circle cx="269.8" cy="653.6" r="1.2" fill="#fff" opacity="0.48"/><circle cx="228.6" cy="695.2" r="1.2" fill="#fff" opacity="0.60"/><circle cx="301.3" cy="425.5" r="1.0" fill="#fff" opacity="0.37"/><circle cx="255.3" cy="560.8" r="1.5" fill="#fff" opacity="0.77"/><circle cx="302.6" cy="395.5" r="1.2" fill="#fff" opacity="0.53"/><circle cx="482.6" cy="558.6" r="1.0" fill="#fff" opacity="0.78"/><circle cx="199.1" cy="529.9" r="0.6" fill="#fff" opacity="0.37"/><circle cx="450.3" cy="571.9" r="1.0" fill="#fff" opacity="0.65"/><circle cx="284.1" cy="721.0" r="0.6" fill="#fff" opacity="0.79"/><circle cx="190.3" cy="585.0" r="1.2" fill="#fff" opacity="0.77"/><circle cx="409.4" cy="702.8" r="0.8" fill="#fff" opacity="0.67"/><circle cx="500.4" cy="596.2" r="0.6" fill="#fff" opacity="0.74"/><circle cx="296.4" cy="706.5" r="1.0" fill="#fff" opacity="0.55"/><circle cx="333.9" cy="489.3" r="0.8" fill="#fff" opacity="0.71"/><circle cx="207.1" cy="632.8" r="1.2" fill="#fff" opacity="0.68"/><circle cx="476.9" cy="416.1" r="1.0" fill="#fff" opacity="0.69"/><circle cx="485.1" cy="392.0" r="0.6" fill="#fff" opacity="0.78"/><circle cx="393.7" cy="576.0" r="1.2" fill="#fff" opacity="0.46"/><circle cx="415.4" cy="650.7" r="0.8" fill="#fff" opacity="0.43"/><circle cx="395.1" cy="639.5" r="1.5" fill="#fff" opacity="0.41"/><circle cx="256.6" cy="380.0" r="1.2" fill="#fff" opacity="0.79"/><circle cx="202.7" cy="621.5" r="1.2" fill="#fff" opacity="0.66"/><circle cx="253.9" cy="392.2" r="1.5" fill="#fff" opacity="0.65"/><circle cx="337.2" cy="586.8" r="0.8" fill="#fff" opacity="0.50"/><circle cx="284.1" cy="572.8" r="0.6" fill="#fff" opacity="0.53"/><circle cx="405.0" cy="394.0" r="1.0" fill="#fff" opacity="0.46"/><circle cx="319.0" cy="643.0" r="1.2" fill="#fff" opacity="0.49"/><circle cx="177.0" cy="528.5" r="1.5" fill="#fff" opacity="0.65"/><circle cx="167.5" cy="561.6" r="1.2" fill="#fff" opacity="0.41"/><circle cx="235.9" cy="594.6" r="1.0" fill="#fff" opacity="0.83"/><circle cx="344.9" cy="450.9" r="1.5" fill="#fff" opacity="0.75"/><circle cx="230.4" cy="670.2" r="1.5" fill="#fff" opacity="0.62"/><circle cx="166.9" cy="648.1" r="0.6" fill="#fff" opacity="0.76"/><circle cx="251.4" cy="502.8" r="1.0" fill="#fff" opacity="0.71"/><circle cx="364.2" cy="512.1" r="1.5" fill="#fff" opacity="0.83"/><circle cx="301.6" cy="608.0" r="0.6" fill="#fff" opacity="0.75"/><circle cx="498.2" cy="486.6" r="1.0" fill="#fff" opacity="0.39"/><circle cx="326.1" cy="416.1" r="1.2" fill="#fff" opacity="0.83"/><circle cx="469.4" cy="590.4" r="0.8" fill="#fff" opacity="0.52"/><circle cx="223.6" cy="513.0" r="1.0" fill="#fff" opacity="0.73"/><circle cx="183.2" cy="691.1" r="0.6" fill="#fff" opacity="0.57"/><circle cx="226.4" cy="621.3" r="0.8" fill="#fff" opacity="0.74"/><circle cx="227.6" cy="640.0" r="1.0" fill="#fff" opacity="0.72"/><circle cx="493.6" cy="699.2" r="1.5" fill="#fff" opacity="0.71"/><circle cx="178.3" cy="442.0" r="0.6" fill="#fff" opacity="0.77"/><circle cx="384.4" cy="637.1" r="1.5" fill="#fff" opacity="0.48"/><circle cx="282.5" cy="426.9" r="1.0" fill="#fff" opacity="0.85"/><circle cx="264.8" cy="383.9" r="0.8" fill="#fff" opacity="0.70"/><circle cx="305.9" cy="378.6" r="1.2" fill="#fff" opacity="0.74"/><circle cx="278.1" cy="676.9" r="1.0" fill="#fff" opacity="0.74"/><circle cx="323.8" cy="724.6" r="1.0" fill="#fff" opacity="0.75"/><circle cx="325.5" cy="663.9" r="0.8" fill="#fff" opacity="0.77"/><circle cx="344.1" cy="458.4" r="1.2" fill="#fff" opacity="0.45"/><circle cx="245.7" cy="375.6" r="0.8" fill="#fff" opacity="0.71"/><circle cx="492.5" cy="721.0" r="1.2" fill="#fff" opacity="0.74"/><circle cx="414.4" cy="425.9" r="1.2" fill="#fff" opacity="0.42"/><circle cx="160.6" cy="445.1" r="1.5" fill="#fff" opacity="0.62"/><circle cx="165.8" cy="660.8" r="0.6" fill="#fff" opacity="0.58"/><circle cx="171.4" cy="688.0" r="1.5" fill="#fff" opacity="0.81"/><circle cx="461.6" cy="489.8" r="1.5" fill="#fff" opacity="0.79"/><circle cx="328.5" cy="598.2" r="0.8" fill="#fff" opacity="0.35"/><circle cx="228.8" cy="495.7" r="0.6" fill="#fff" opacity="0.40"/><circle cx="468.4" cy="708.1" r="1.2" fill="#fff" opacity="0.58"/><circle cx="364.5" cy="597.1" r="1.2" fill="#fff" opacity="0.73"/><circle cx="359.0" cy="626.9" r="1.2" fill="#fff" opacity="0.43"/><circle cx="388.1" cy="678.3" r="0.8" fill="#fff" opacity="0.71"/><circle cx="323.2" cy="685.0" r="1.5" fill="#fff" opacity="0.42"/><circle cx="479.6" cy="583.7" r="0.6" fill="#fff" opacity="0.70"/><circle cx="440.8" cy="688.1" r="0.6" fill="#fff" opacity="0.55"/><circle cx="436.5" cy="664.6" r="0.6" fill="#fff" opacity="0.47"/><circle cx="479.2" cy="440.0" r="0.6" fill="#fff" opacity="0.37"/><circle cx="173.3" cy="454.6" r="0.8" fill="#fff" opacity="0.74"/><circle cx="171.7" cy="568.2" r="1.5" fill="#fff" opacity="0.81"/><circle cx="249.6" cy="423.2" r="0.6" fill="#fff" opacity="0.59"/><circle cx="496.5" cy="641.4" r="0.6" fill="#fff" opacity="0.44"/><circle cx="443.3" cy="426.6" r="1.5" fill="#fff" opacity="0.51"/><circle cx="337.5" cy="712.4" r="1.2" fill="#fff" opacity="0.81"/><circle cx="156.8" cy="674.5" r="1.5" fill="#fff" opacity="0.67"/><circle cx="186.5" cy="570.2" r="1.5" fill="#fff" opacity="0.65"/><circle cx="440.6" cy="395.9" r="0.6" fill="#fff" opacity="0.68"/><circle cx="375.0" cy="532.5" r="0.6" fill="#fff" opacity="0.63"/><circle cx="230.2" cy="435.5" r="1.5" fill="#fff" opacity="0.76"/><circle cx="319.0" cy="412.0" r="0.8" fill="#fff" opacity="0.69"/><circle cx="506.1" cy="588.6" r="0.6" fill="#fff" opacity="0.62"/><circle cx="281.5" cy="401.9" r="0.8" fill="#fff" opacity="0.77"/><circle cx="458.0" cy="404.5" r="1.0" fill="#fff" opacity="0.49"/><circle cx="266.1" cy="474.5" r="1.2" fill="#fff" opacity="0.65"/><circle cx="504.4" cy="644.8" r="0.6" fill="#fff" opacity="0.39"/><circle cx="171.5" cy="613.8" r="1.5" fill="#fff" opacity="0.46"/><circle cx="293.2" cy="722.1" r="1.5" fill="#fff" opacity="0.64"/><circle cx="231.1" cy="641.1" r="0.6" fill="#fff" opacity="0.81"/><circle cx="454.0" cy="626.0" r="0.6" fill="#fff" opacity="0.69"/><circle cx="204.1" cy="696.0" r="0.6" fill="#fff" opacity="0.44"/><circle cx="491.6" cy="527.0" r="0.8" fill="#fff" opacity="0.48"/><circle cx="263.0" cy="493.5" r="1.0" fill="#fff" opacity="0.54"/><circle cx="213.7" cy="426.7" r="1.2" fill="#fff" opacity="0.73"/><circle cx="453.9" cy="725.9" r="1.0" fill="#fff" opacity="0.49"/><circle cx="244.9" cy="516.5" r="0.6" fill="#fff" opacity="0.52"/><circle cx="349.7" cy="496.4" r="1.0" fill="#fff" opacity="0.35"/><circle cx="430.5" cy="454.0" r="1.0" fill="#fff" opacity="0.75"/><circle cx="345.4" cy="405.7" r="1.0" fill="#fff" opacity="0.56"/><circle cx="276.0" cy="391.1" r="0.6" fill="#fff" opacity="0.83"/><circle cx="213.4" cy="559.1" r="1.5" fill="#fff" opacity="0.47"/><circle cx="482.6" cy="703.3" r="1.5" fill="#fff" opacity="0.69"/><circle cx="500.4" cy="400.3" r="0.8" fill="#fff" opacity="0.46"/><circle cx="424.8" cy="686.8" r="1.0" fill="#fff" opacity="0.57"/><circle cx="198.1" cy="709.2" r="1.5" fill="#fff" opacity="0.57"/><circle cx="400.5" cy="616.6" r="1.0" fill="#fff" opacity="0.73"/><circle cx="244.5" cy="460.6" r="0.6" fill="#fff" opacity="0.40"/><circle cx="464.4" cy="598.8" r="1.5" fill="#fff" opacity="0.83"/><circle cx="385.0" cy="580.8" r="0.6" fill="#fff" opacity="0.65"/><circle cx="403.4" cy="477.4" r="0.6" fill="#fff" opacity="0.71"/><circle cx="346.7" cy="394.4" r="0.6" fill="#fff" opacity="0.42"/><circle cx="196.2" cy="545.7" r="1.5" fill="#fff" opacity="0.69"/><circle cx="253.3" cy="645.0" r="0.8" fill="#fff" opacity="0.80"/><circle cx="246.8" cy="510.1" r="0.8" fill="#fff" opacity="0.57"/><circle cx="415.3" cy="402.1" r="1.2" fill="#fff" opacity="0.52"/><circle cx="452.3" cy="379.1" r="0.8" fill="#fff" opacity="0.40"/><circle cx="230.4" cy="494.3" r="1.0" fill="#fff" opacity="0.49"/><circle cx="159.5" cy="436.4" r="0.6" fill="#fff" opacity="0.43"/><circle cx="390.7" cy="579.3" r="1.0" fill="#fff" opacity="0.44"/><circle cx="207.1" cy="403.0" r="0.6" fill="#fff" opacity="0.54"/><circle cx="388.2" cy="573.1" r="0.8" fill="#fff" opacity="0.38"/><circle cx="261.3" cy="464.6" r="0.8" fill="#fff" opacity="0.82"/><circle cx="282.5" cy="563.2" r="0.8" fill="#fff" opacity="0.42"/><circle cx="436.5" cy="458.6" r="1.0" fill="#fff" opacity="0.43"/><circle cx="392.1" cy="682.1" r="0.8" fill="#fff" opacity="0.49"/><circle cx="291.6" cy="643.3" r="0.8" fill="#fff" opacity="0.67"/><circle cx="471.6" cy="642.6" r="1.0" fill="#fff" opacity="0.47"/><circle cx="473.9" cy="462.7" r="0.6" fill="#fff" opacity="0.38"/><circle cx="392.3" cy="669.1" r="0.8" fill="#fff" opacity="0.49"/><circle cx="324.2" cy="543.5" r="0.6" fill="#fff" opacity="0.58"/><circle cx="409.3" cy="401.7" r="0.6" fill="#fff" opacity="0.59"/><circle cx="484.6" cy="695.5" r="1.2" fill="#fff" opacity="0.57"/><circle cx="198.1" cy="392.4" r="1.0" fill="#fff" opacity="0.57"/><circle cx="241.1" cy="489.9" r="0.6" fill="#fff" opacity="0.39"/><circle cx="235.2" cy="635.9" r="1.5" fill="#fff" opacity="0.66"/><circle cx="512.0" cy="702.2" r="1.2" fill="#fff" opacity="0.41"/><circle cx="492.0" cy="556.9" r="0.8" fill="#fff" opacity="0.61"/><circle cx="337.7" cy="481.9" r="0.6" fill="#fff" opacity="0.39"/><circle cx="250.4" cy="700.7" r="1.2" fill="#fff" opacity="0.74"/><circle cx="202.9" cy="658.4" r="1.0" fill="#fff" opacity="0.40"/><circle cx="255.9" cy="652.1" r="0.6" fill="#fff" opacity="0.41"/><circle cx="506.4" cy="541.4" r="0.8" fill="#fff" opacity="0.60"/><circle cx="379.4" cy="660.2" r="0.6" fill="#fff" opacity="0.67"/><circle cx="400.5" cy="379.6" r="0.8" fill="#fff" opacity="0.74"/><circle cx="392.5" cy="418.1" r="1.0" fill="#fff" opacity="0.42"/><circle cx="442.1" cy="708.4" r="0.6" fill="#fff" opacity="0.78"/><circle cx="286.9" cy="693.0" r="0.8" fill="#fff" opacity="0.70"/><circle cx="161.6" cy="533.1" r="0.6" fill="#fff" opacity="0.57"/><circle cx="458.6" cy="470.7" r="0.8" fill="#fff" opacity="0.77"/><circle cx="264.4" cy="481.0" r="0.8" fill="#fff" opacity="0.82"/><circle cx="299.1" cy="612.5" r="0.6" fill="#fff" opacity="0.53"/><circle cx="328.4" cy="391.7" r="1.0" fill="#fff" opacity="0.61"/><rect x="224" y="690" width="6" height="32" fill="#c3cdcc"/><rect x="273" y="700" width="3" height="22" fill="#c9c9c9"/><path d="M313,700 L318,700 L319,718 Q316,723 313,718 Z" fill="#c0827b"/><rect x="378" y="695" width="10" height="27" fill="#6b6a70"/><rect x="438" y="700" width="8" height="22" fill="#c4c7ca"/><path d="M223,564 C232,600 246,650 255,696 L189,696 C200,650 214,600 223,564 Z" fill="#4f8079"/><path d="M224.0,587.0 l2.2,6 l-4.4,0 Z" fill="#e6f0a0"/><path d="M220.0,604.0 l2.2,6 l-4.4,0 Z" fill="#e6f0a0"/><path d="M229.0,604.0 l2.2,6 l-4.4,0 Z" fill="#e6f0a0"/><path d="M215.0,620.0 l2.2,6 l-4.4,0 Z" fill="#e6f0a0"/><path d="M225.0,618.0 l2.2,6 l-4.4,0 Z" fill="#e6f0a0"/><path d="M234.0,620.0 l2.2,6 l-4.4,0 Z" fill="#e6f0a0"/><path d="M211.0,636.0 l2.2,6 l-4.4,0 Z" fill="#e6f0a0"/><path d="M220.0,636.0 l2.2,6 l-4.4,0 Z" fill="#e6f0a0"/><path d="M230.0,636.0 l2.2,6 l-4.4,0 Z" fill="#e6f0a0"/><path d="M238.0,636.0 l2.2,6 l-4.4,0 Z" fill="#e6f0a0"/><path d="M214.0,652.0 l2.2,6 l-4.4,0 Z" fill="#e6f0a0"/><path d="M225.0,650.0 l2.2,6 l-4.4,0 Z" fill="#e6f0a0"/><path d="M235.0,652.0 l2.2,6 l-4.4,0 Z" fill="#e6f0a0"/><path d="M244.0,652.0 l2.2,6 l-4.4,0 Z" fill="#e6f0a0"/><path d="M205.0,668.0 l2.2,6 l-4.4,0 Z" fill="#e6f0a0"/><path d="M216.0,668.0 l2.2,6 l-4.4,0 Z" fill="#e6f0a0"/><path d="M227.0,666.0 l2.2,6 l-4.4,0 Z" fill="#e6f0a0"/><path d="M238.0,670.0 l2.2,6 l-4.4,0 Z" fill="#e6f0a0"/><path d="M247.0,668.0 l2.2,6 l-4.4,0 Z" fill="#e6f0a0"/><path d="M200.0,686.0 l2.2,6 l-4.4,0 Z" fill="#e6f0a0"/><path d="M212.0,686.0 l2.2,6 l-4.4,0 Z" fill="#e6f0a0"/><path d="M225.0,686.0 l2.2,6 l-4.4,0 Z" fill="#e6f0a0"/><path d="M237.0,688.0 l2.2,6 l-4.4,0 Z" fill="#e6f0a0"/><path d="M247.0,686.0 l2.2,6 l-4.4,0 Z" fill="#e6f0a0"/><path d="M271,614 C280,640 290,680 297,708 L250,708 C255,680 262,640 271,614 Z" fill="#eba69d"/><path d="M262,636 Q272,632 282,624" stroke="#fbe4dd" stroke-width="1.6" fill="none"/><path d="M259,658 Q272,654 286,646" stroke="#fbe4dd" stroke-width="1.6" fill="none"/><path d="M255,680 Q272,676 290,668" stroke="#fbe4dd" stroke-width="1.6" fill="none"/><path d="M251,702 Q272,698 295,690" stroke="#fbe4dd" stroke-width="1.6" fill="none"/><path d="M271,604 l2,4.5 4.6,0.4 -3.5,3 1.1,4.6 -4.2,-2.5 -4.2,2.5 1.1,-4.6 -3.5,-3 4.6,-0.4 Z" fill="#1a8a8f"/><path d="M315,578 L347,623 Q318,627 285,622 Z" fill="#c0827b"/><path d="M315,617 L351,662 Q320,666 287,661 Z" fill="#c0827b"/><path d="M315,656 L349,705 Q320,708 294,704 Z" fill="#c0827b"/><path d="M318,595 q1.5,3 3,0" stroke="#4a2a2a" stroke-width="1.6" fill="none"/><path d="M324,608 q1.5,3 3,0" stroke="#4a2a2a" stroke-width="1.6" fill="none"/><path d="M314,628 q1.5,3 3,0" stroke="#4a2a2a" stroke-width="1.6" fill="none"/><path d="M322,637 q1.5,3 3,0" stroke="#4a2a2a" stroke-width="1.6" fill="none"/><path d="M307,647 q1.5,3 3,0" stroke="#4a2a2a" stroke-width="1.6" fill="none"/><path d="M331,648 q1.5,3 3,0" stroke="#4a2a2a" stroke-width="1.6" fill="none"/><path d="M317,675 q1.5,3 3,0" stroke="#4a2a2a" stroke-width="1.6" fill="none"/><path d="M309,685 q1.5,3 3,0" stroke="#4a2a2a" stroke-width="1.6" fill="none"/><path d="M327,686 q1.5,3 3,0" stroke="#4a2a2a" stroke-width="1.6" fill="none"/><path d="M318,693 q1.5,3 3,0" stroke="#4a2a2a" stroke-width="1.6" fill="none"/><circle cx="315" cy="564" r="3.5" fill="#fff"/><line x1="315" y1="564" x2="332.0" y2="564.0" stroke="#fff" stroke-width="1.2" opacity="0.85"/><line x1="315" y1="564" x2="322.5" y2="565.5" stroke="#fff" stroke-width="1.2" opacity="0.85"/><line x1="315" y1="564" x2="322.7" y2="567.5" stroke="#fff" stroke-width="1.2" opacity="0.85"/><line x1="315" y1="564" x2="323.5" y2="572.1" stroke="#fff" stroke-width="1.2" opacity="0.85"/><line x1="315" y1="564" x2="316.7" y2="569.4" stroke="#fff" stroke-width="1.2" opacity="0.85"/><line x1="315" y1="564" x2="313.6" y2="568.3" stroke="#fff" stroke-width="1.2" opacity="0.85"/><line x1="315" y1="564" x2="306.5" y2="572.1" stroke="#fff" stroke-width="1.2" opacity="0.85"/><line x1="315" y1="564" x2="308.9" y2="566.8" stroke="#fff" stroke-width="1.2" opacity="0.85"/><line x1="315" y1="564" x2="305.6" y2="565.9" stroke="#fff" stroke-width="1.2" opacity="0.85"/><line x1="315" y1="564" x2="298.0" y2="564.0" stroke="#fff" stroke-width="1.2" opacity="0.85"/><line x1="315" y1="564" x2="305.6" y2="562.1" stroke="#fff" stroke-width="1.2" opacity="0.85"/><line x1="315" y1="564" x2="308.9" y2="561.2" stroke="#fff" stroke-width="1.2" opacity="0.85"/><line x1="315" y1="564" x2="306.5" y2="555.9" stroke="#fff" stroke-width="1.2" opacity="0.85"/><line x1="315" y1="564" x2="313.6" y2="559.7" stroke="#fff" stroke-width="1.2" opacity="0.85"/><line x1="315" y1="564" x2="316.7" y2="558.6" stroke="#fff" stroke-width="1.2" opacity="0.85"/><line x1="315" y1="564" x2="323.5" y2="555.9" stroke="#fff" stroke-width="1.2" opacity="0.85"/><line x1="315" y1="564" x2="322.7" y2="560.5" stroke="#fff" stroke-width="1.2" opacity="0.85"/><line x1="315" y1="564" x2="322.5" y2="562.5" stroke="#fff" stroke-width="1.2" opacity="0.85"/><path d="M344,665 L413,651 L413,699 L333,699 Z" fill="#4f8079"/><path d="M363,602 L400,607 L414,652 L346,661 Z" fill="#f4a58a"/><path d="M383,557 L400,606 L365,600 Z" fill="#4f8079"/><path d="M352,618 q8,4 16,0 q8,4 16,0 q8,4 16,0 q6,3 10,0" stroke="#f7e2a0" stroke-width="1" fill="none"/><path d="M352,634 q8,4 16,0 q8,4 16,0 q8,4 16,0 q6,3 10,0" stroke="#f7e2a0" stroke-width="1" fill="none"/><path d="M352,648 q8,4 16,0 q8,4 16,0 q8,4 16,0 q6,3 10,0" stroke="#f7e2a0" stroke-width="1" fill="none"/><path d="M340,676 q9,4 18,0 q9,4 18,0 q9,4 18,0 q9,4 18,0" stroke="#d8e6a0" stroke-width="1" fill="none"/><path d="M340,690 q9,4 18,0 q9,4 18,0 q9,4 18,0 q9,4 18,0" stroke="#d8e6a0" stroke-width="1" fill="none"/><path d="M372,572 q5,3 10,0 q5,3 10,0" stroke="#e6f0a0" stroke-width="1" fill="none"/><path d="M372,585 q5,3 10,0 q5,3 10,0" stroke="#e6f0a0" stroke-width="1" fill="none"/><path d="M383,548 l2,4.5 4.6,0.4 -3.5,3 1.1,4.6 -4.2,-2.5 -4.2,2.5 1.1,-4.6 -3.5,-3 4.6,-0.4 Z" fill="none" stroke="#8a8a8a" stroke-width="1.2"/><path d="M437,615 L456,635 L449,636 L474,667 L466,667 L482,702 Q472,698 462,704 Q450,699 440,705 Q428,699 418,704 Q408,699 397,705 L412,668 L404,668 L426,636 L418,635 Z" fill="#1a8a8f"/><circle cx="444" cy="627" r="1.8" fill="#e8f8f8"/><circle cx="430" cy="640" r="1.8" fill="#e8f8f8"/><circle cx="447" cy="651" r="1.8" fill="#e8f8f8"/><circle cx="421" cy="657" r="1.8" fill="#e8f8f8"/><circle cx="456" cy="658" r="1.8" fill="#e8f8f8"/><circle cx="440" cy="677" r="1.8" fill="#e8f8f8"/><circle cx="465" cy="673" r="1.8" fill="#e8f8f8"/><circle cx="426" cy="690" r="1.8" fill="#e8f8f8"/><circle cx="451" cy="693" r="1.8" fill="#e8f8f8"/><circle cx="470" cy="690" r="1.8" fill="#e8f8f8"/><circle cx="409" cy="697" r="1.8" fill="#e8f8f8"/><path d="M437,604 l2,4.5 4.6,0.4 -3.5,3 1.1,4.6 -4.2,-2.5 -4.2,2.5 1.1,-4.6 -3.5,-3 4.6,-0.4 Z" fill="#f0a8a0"/></svg><svg class="ov" width="1946" height="1460" viewBox="0 0 1946 1460"><text x="180.5" y="459.5" font-family="Liberation Sans" font-weight="700" font-size="52" fill="#ee6a5a" stroke="#ee6a5a" stroke-width="1.4" textLength="304" lengthAdjust="spacingAndGlyphs">CHRISTMAS</text><text x="183.5" y="458.5" font-family="Liberation Sans" font-weight="700" font-size="52" fill="#1eb462" stroke="#1eb462" stroke-width="1.4" textLength="304" lengthAdjust="spacingAndGlyphs">CHRISTMAS</text><text x="207" y="505.5" font-family="Liberation Sans" font-weight="700" font-size="56" fill="#1eb462" stroke="#1eb462" stroke-width="1.4" textLength="117" lengthAdjust="spacingAndGlyphs">GIFT</text><text x="210" y="504.5" font-family="Liberation Sans" font-weight="700" font-size="56" fill="#ef3232" stroke="#ef3232" stroke-width="1.4" textLength="117" lengthAdjust="spacingAndGlyphs">GIFT</text><path d="M328,474 Q380,462 450,462 Q472,462 482,466" stroke="#111" stroke-width="1.7" fill="none" stroke-linecap="round"/><path d="M379,467 Q383,466 384,470 C375,497 362,528 350,551 Q346,557 344,552 C354,527 369,497 379,467 Z" fill="#111"/><path d="M378,478 C370,500 358,530 347,550" stroke="#d9ead3" stroke-width="0.7" fill="none"/><path d="M372,518 Q375,511 376,507 Q379,510 384,510 M392,511 Q386,508 384,514 Q384,519 389,518 Q393,515 394,510 Q393,516 396,518 M406,510 Q400,508 399,514 Q400,519 408,517 M431,488 Q424,505 416,521 M419,514 Q426,506 428,510 Q426,514 420,514 Q426,516 431,518 M434,515 Q442,513 443,509 Q441,506 437,509 Q434,514 437,518 Q442,519 447,515 Q450,512 451,508 Q453,511 460,508" stroke="#111" stroke-width="2.3" fill="none" stroke-linecap="round" stroke-linejoin="round"/></svg><svg class="ov" width="1946" height="1460" viewBox="0 0 1946 1460"><path d="M158.6,345.5 Q191.7,385.5 224.8,345.5 Q260.6,385.5 296.4,345.5 Q332.2,385.5 368.0,345.5 Q400.5,385.5 433.0,345.5 Q465.9,385.5 498.8,345.5 Q531.5,385.5 564.2,345.5 Q600.0,385.5 635.8,345.5 Q671.8,385.5 707.8,345.5 Q740.3,385.5 772.8,345.5 Q805.9,385.5 839.0,345.5 Q872.9,385.5 906.7,345.5 Q942.0,385.5 977.4,345.5 Q1013.7,385.5 1049.9,345.5 Q1082.0,385.5 1114.0,345.5 Q1147.5,385.5 1181.0,345.5 Q1214.0,385.5 1247.0,345.5 Q1282.8,385.5 1318.6,345.5 Q1354.2,385.5 1389.8,345.5 Q1422.9,385.5 1456.0,345.5 Q1488.8,385.5 1521.7,345.5 Q1548.7,380.5 1575.7,345.5 Q1605.5,380.5 1635.2,345.5 Q1665.1,380.5 1694.9,345.5 Q1721.8,380.5 1748.7,345.5 Q1776.0,380.5 1803.3,345.5 L1807,348.5" fill="none" stroke="#1f2a1f" stroke-width="1.6"/><path d="M158.6,348.5 C164.0,348.8 163.2,357.9 158.6,361.5 C154.0,357.9 153.2,348.8 158.6,348.5 Z" fill="#e3171b"/><rect x="157.1" y="347.5" width="3.0" height="2" fill="#1c2a1c"/><path d="M173.8,361.5 C179.2,361.8 178.4,370.9 173.8,374.5 C169.2,370.9 168.4,361.8 173.8,361.5 Z" fill="#138a1e"/><rect x="172.3" y="360.5" width="3.0" height="2" fill="#1c2a1c"/><path d="M193.7,367.0 C199.1,367.3 198.3,376.4 193.7,380.0 C189.1,376.4 188.3,367.3 193.7,367.0 Z" fill="#e3171b"/><rect x="192.2" y="366.0" width="3.0" height="2" fill="#1c2a1c"/><path d="M210.2,361.5 C215.6,361.8 214.8,370.9 210.2,374.5 C205.6,370.9 204.8,361.8 210.2,361.5 Z" fill="#138a1e"/><rect x="208.7" y="360.5" width="3.0" height="2" fill="#1c2a1c"/><path d="M224.8,348.5 C230.2,348.8 229.4,357.9 224.8,361.5 C220.2,357.9 219.4,348.8 224.8,348.5 Z" fill="#e3171b"/><rect x="223.3" y="347.5" width="3.0" height="2" fill="#1c2a1c"/><path d="M241.3,361.5 C246.7,361.8 245.9,370.9 241.3,374.5 C236.7,370.9 235.9,361.8 241.3,361.5 Z" fill="#138a1e"/><rect x="239.8" y="360.5" width="3.0" height="2" fill="#1c2a1c"/><path d="M262.7,367.0 C268.1,367.3 267.3,376.4 262.7,380.0 C258.1,376.4 257.3,367.3 262.7,367.0 Z" fill="#e3171b"/><rect x="261.2" y="366.0" width="3.0" height="2" fill="#1c2a1c"/><path d="M280.6,361.5 C286.0,361.8 285.2,370.9 280.6,374.5 C276.0,370.9 275.2,361.8 280.6,361.5 Z" fill="#138a1e"/><rect x="279.1" y="360.5" width="3.0" height="2" fill="#1c2a1c"/><path d="M296.4,348.5 C301.8,348.8 301.0,357.9 296.4,361.5 C291.8,357.9 291.0,348.8 296.4,348.5 Z" fill="#e3171b"/><rect x="294.9" y="347.5" width="3.0" height="2" fill="#1c2a1c"/><path d="M312.9,361.5 C318.3,361.8 317.5,370.9 312.9,374.5 C308.3,370.9 307.5,361.8 312.9,361.5 Z" fill="#138a1e"/><rect x="311.4" y="360.5" width="3.0" height="2" fill="#1c2a1c"/><path d="M334.3,367.0 C339.7,367.3 338.9,376.4 334.3,380.0 C329.7,376.4 328.9,367.3 334.3,367.0 Z" fill="#e3171b"/><rect x="332.8" y="366.0" width="3.0" height="2" fill="#1c2a1c"/><path d="M352.2,361.5 C357.6,361.8 356.8,370.9 352.2,374.5 C347.6,370.9 346.8,361.8 352.2,361.5 Z" fill="#138a1e"/><rect x="350.7" y="360.5" width="3.0" height="2" fill="#1c2a1c"/><path d="M368.0,348.5 C373.4,348.8 372.6,357.9 368.0,361.5 C363.4,357.9 362.6,348.8 368.0,348.5 Z" fill="#e3171b"/><rect x="366.5" y="347.5" width="3.0" height="2" fill="#1c2a1c"/><path d="M382.9,361.5 C388.3,361.8 387.6,370.9 382.9,374.5 C378.3,370.9 377.6,361.8 382.9,361.5 Z" fill="#138a1e"/><rect x="381.4" y="360.5" width="3.0" height="2" fill="#1c2a1c"/><path d="M402.4,367.0 C407.8,367.3 407.1,376.4 402.4,380.0 C397.8,376.4 397.1,367.3 402.4,367.0 Z" fill="#e3171b"/><rect x="400.9" y="366.0" width="3.0" height="2" fill="#1c2a1c"/><path d="M418.7,361.5 C424.1,361.8 423.3,370.9 418.7,374.5 C414.1,370.9 413.3,361.8 418.7,361.5 Z" fill="#138a1e"/><rect x="417.2" y="360.5" width="3.0" height="2" fill="#1c2a1c"/><path d="M433.0,348.5 C438.4,348.8 437.6,357.9 433.0,361.5 C428.4,357.9 427.6,348.8 433.0,348.5 Z" fill="#e3171b"/><rect x="431.5" y="347.5" width="3.0" height="2" fill="#1c2a1c"/><path d="M448.1,361.5 C453.5,361.8 452.7,370.9 448.1,374.5 C443.5,370.9 442.7,361.8 448.1,361.5 Z" fill="#138a1e"/><rect x="446.6" y="360.5" width="3.0" height="2" fill="#1c2a1c"/><path d="M467.9,367.0 C473.3,367.3 472.5,376.4 467.9,380.0 C463.3,376.4 462.5,367.3 467.9,367.0 Z" fill="#e3171b"/><rect x="466.4" y="366.0" width="3.0" height="2" fill="#1c2a1c"/><path d="M484.3,361.5 C489.7,361.8 488.9,370.9 484.3,374.5 C479.7,370.9 478.9,361.8 484.3,361.5 Z" fill="#138a1e"/><rect x="482.8" y="360.5" width="3.0" height="2" fill="#1c2a1c"/><path d="M498.8,348.5 C504.2,348.8 503.4,357.9 498.8,361.5 C494.2,357.9 493.4,348.8 498.8,348.5 Z" fill="#e3171b"/><rect x="497.3" y="347.5" width="3.0" height="2" fill="#1c2a1c"/><path d="M513.8,361.5 C519.2,361.8 518.4,370.9 513.8,374.5 C509.2,370.9 508.4,361.8 513.8,361.5 Z" fill="#138a1e"/><rect x="512.3" y="360.5" width="3.0" height="2" fill="#1c2a1c"/><path d="M533.5,367.0 C538.9,367.3 538.1,376.4 533.5,380.0 C528.9,376.4 528.1,367.3 533.5,367.0 Z" fill="#e3171b"/><rect x="532.0" y="366.0" width="3.0" height="2" fill="#1c2a1c"/><path d="M549.8,361.5 C555.2,361.8 554.4,370.9 549.8,374.5 C545.2,370.9 544.4,361.8 549.8,361.5 Z" fill="#138a1e"/><rect x="548.3" y="360.5" width="3.0" height="2" fill="#1c2a1c"/><path d="M564.2,348.5 C569.6,348.8 568.8,357.9 564.2,361.5 C559.6,357.9 558.8,348.8 564.2,348.5 Z" fill="#e3171b"/><rect x="562.7" y="347.5" width="3.0" height="2" fill="#1c2a1c"/><path d="M580.7,361.5 C586.1,361.8 585.3,370.9 580.7,374.5 C576.1,370.9 575.3,361.8 580.7,361.5 Z" fill="#138a1e"/><rect x="579.2" y="360.5" width="3.0" height="2" fill="#1c2a1c"/><path d="M602.1,367.0 C607.5,367.3 606.7,376.4 602.1,380.0 C597.5,376.4 596.7,367.3 602.1,367.0 Z" fill="#e3171b"/><rect x="600.6" y="366.0" width="3.0" height="2" fill="#1c2a1c"/><path d="M620.0,361.5 C625.4,361.8 624.6,370.9 620.0,374.5 C615.4,370.9 614.6,361.8 620.0,361.5 Z" fill="#138a1e"/><rect x="618.5" y="360.5" width="3.0" height="2" fill="#1c2a1c"/><path d="M635.8,348.5 C641.2,348.8 640.4,357.9 635.8,361.5 C631.2,357.9 630.4,348.8 635.8,348.5 Z" fill="#e3171b"/><rect x="634.3" y="347.5" width="3.0" height="2" fill="#1c2a1c"/><path d="M652.4,361.5 C657.8,361.8 657.0,370.9 652.4,374.5 C647.8,370.9 647.0,361.8 652.4,361.5 Z" fill="#138a1e"/><rect x="650.9" y="360.5" width="3.0" height="2" fill="#1c2a1c"/><path d="M674.0,367.0 C679.4,367.3 678.6,376.4 674.0,380.0 C669.4,376.4 668.6,367.3 674.0,367.0 Z" fill="#e3171b"/><rect x="672.5" y="366.0" width="3.0" height="2" fill="#1c2a1c"/><path d="M692.0,361.5 C697.4,361.8 696.6,370.9 692.0,374.5 C687.4,370.9 686.6,361.8 692.0,361.5 Z" fill="#138a1e"/><rect x="690.5" y="360.5" width="3.0" height="2" fill="#1c2a1c"/><path d="M707.8,348.5 C713.2,348.8 712.4,357.9 707.8,361.5 C703.2,357.9 702.4,348.8 707.8,348.5 Z" fill="#e3171b"/><rect x="706.3" y="347.5" width="3.0" height="2" fill="#1c2a1c"/><path d="M722.8,361.5 C728.1,361.8 727.4,370.9 722.8,374.5 C718.1,370.9 717.4,361.8 722.8,361.5 Z" fill="#138a1e"/><rect x="721.2" y="360.5" width="3.0" height="2" fill="#1c2a1c"/><path d="M742.2,367.0 C747.6,367.3 746.9,376.4 742.2,380.0 C737.6,376.4 736.9,367.3 742.2,367.0 Z" fill="#e3171b"/><rect x="740.8" y="366.0" width="3.0" height="2" fill="#1c2a1c"/><path d="M758.5,361.5 C763.9,361.8 763.1,370.9 758.5,374.5 C753.9,370.9 753.1,361.8 758.5,361.5 Z" fill="#138a1e"/><rect x="757.0" y="360.5" width="3.0" height="2" fill="#1c2a1c"/><path d="M772.8,348.5 C778.2,348.8 777.4,357.9 772.8,361.5 C768.2,357.9 767.4,348.8 772.8,348.5 Z" fill="#e3171b"/><rect x="771.3" y="347.5" width="3.0" height="2" fill="#1c2a1c"/><path d="M788.0,361.5 C793.4,361.8 792.6,370.9 788.0,374.5 C783.4,370.9 782.6,361.8 788.0,361.5 Z" fill="#138a1e"/><rect x="786.5" y="360.5" width="3.0" height="2" fill="#1c2a1c"/><path d="M807.9,367.0 C813.3,367.3 812.5,376.4 807.9,380.0 C803.3,376.4 802.5,367.3 807.9,367.0 Z" fill="#e3171b"/><rect x="806.4" y="366.0" width="3.0" height="2" fill="#1c2a1c"/><path d="M824.4,361.5 C829.8,361.8 829.0,370.9 824.4,374.5 C819.8,370.9 819.0,361.8 824.4,361.5 Z" fill="#138a1e"/><rect x="822.9" y="360.5" width="3.0" height="2" fill="#1c2a1c"/><path d="M839.0,348.5 C844.4,348.8 843.6,357.9 839.0,361.5 C834.4,357.9 833.6,348.8 839.0,348.5 Z" fill="#e3171b"/><rect x="837.5" y="347.5" width="3.0" height="2" fill="#1c2a1c"/><path d="M854.6,361.5 C860.0,361.8 859.2,370.9 854.6,374.5 C850.0,370.9 849.2,361.8 854.6,361.5 Z" fill="#138a1e"/><rect x="853.1" y="360.5" width="3.0" height="2" fill="#1c2a1c"/><path d="M874.9,367.0 C880.3,367.3 879.5,376.4 874.9,380.0 C870.3,376.4 869.5,367.3 874.9,367.0 Z" fill="#e3171b"/><rect x="873.4" y="366.0" width="3.0" height="2" fill="#1c2a1c"/><path d="M891.8,361.5 C897.2,361.8 896.4,370.9 891.8,374.5 C887.2,370.9 886.4,361.8 891.8,361.5 Z" fill="#138a1e"/><rect x="890.3" y="360.5" width="3.0" height="2" fill="#1c2a1c"/><path d="M906.7,348.5 C912.1,348.8 911.3,357.9 906.7,361.5 C902.1,357.9 901.3,348.8 906.7,348.5 Z" fill="#e3171b"/><rect x="905.2" y="347.5" width="3.0" height="2" fill="#1c2a1c"/><path d="M923.0,361.5 C928.4,361.8 927.6,370.9 923.0,374.5 C918.4,370.9 917.6,361.8 923.0,361.5 Z" fill="#138a1e"/><rect x="921.5" y="360.5" width="3.0" height="2" fill="#1c2a1c"/><path d="M944.2,367.0 C949.6,367.3 948.8,376.4 944.2,380.0 C939.6,376.4 938.8,367.3 944.2,367.0 Z" fill="#e3171b"/><rect x="942.7" y="366.0" width="3.0" height="2" fill="#1c2a1c"/><path d="M961.8,361.5 C967.2,361.8 966.4,370.9 961.8,374.5 C957.2,370.9 956.4,361.8 961.8,361.5 Z" fill="#138a1e"/><rect x="960.3" y="360.5" width="3.0" height="2" fill="#1c2a1c"/><path d="M977.4,348.5 C982.8,348.8 982.0,357.9 977.4,361.5 C972.8,357.9 972.0,348.8 977.4,348.5 Z" fill="#e3171b"/><rect x="975.9" y="347.5" width="3.0" height="2" fill="#1c2a1c"/><path d="M994.1,361.5 C999.5,361.8 998.7,370.9 994.1,374.5 C989.5,370.9 988.7,361.8 994.1,361.5 Z" fill="#138a1e"/><rect x="992.6" y="360.5" width="3.0" height="2" fill="#1c2a1c"/><path d="M1015.8,367.0 C1021.2,367.3 1020.4,376.4 1015.8,380.0 C1011.2,376.4 1010.4,367.3 1015.8,367.0 Z" fill="#e3171b"/><rect x="1014.3" y="366.0" width="3.0" height="2" fill="#1c2a1c"/><path d="M1034.0,361.5 C1039.4,361.8 1038.5,370.9 1034.0,374.5 C1029.4,370.9 1028.5,361.8 1034.0,361.5 Z" fill="#138a1e"/><rect x="1032.5" y="360.5" width="3.0" height="2" fill="#1c2a1c"/><path d="M1049.9,348.5 C1055.3,348.8 1054.5,357.9 1049.9,361.5 C1045.3,357.9 1044.5,348.8 1049.9,348.5 Z" fill="#e3171b"/><rect x="1048.4" y="347.5" width="3.0" height="2" fill="#1c2a1c"/><path d="M1064.6,361.5 C1070.0,361.8 1069.2,370.9 1064.6,374.5 C1060.0,370.9 1059.2,361.8 1064.6,361.5 Z" fill="#138a1e"/><rect x="1063.1" y="360.5" width="3.0" height="2" fill="#1c2a1c"/><path d="M1083.9,367.0 C1089.3,367.3 1088.5,376.4 1083.9,380.0 C1079.3,376.4 1078.5,367.3 1083.9,367.0 Z" fill="#e3171b"/><rect x="1082.4" y="366.0" width="3.0" height="2" fill="#1c2a1c"/><path d="M1099.9,361.5 C1105.3,361.8 1104.5,370.9 1099.9,374.5 C1095.3,370.9 1094.5,361.8 1099.9,361.5 Z" fill="#138a1e"/><rect x="1098.4" y="360.5" width="3.0" height="2" fill="#1c2a1c"/><path d="M1114.0,348.5 C1119.4,348.8 1118.6,357.9 1114.0,361.5 C1109.4,357.9 1108.6,348.8 1114.0,348.5 Z" fill="#e3171b"/><rect x="1112.5" y="347.5" width="3.0" height="2" fill="#1c2a1c"/><path d="M1129.4,361.5 C1134.8,361.8 1134.0,370.9 1129.4,374.5 C1124.8,370.9 1124.0,361.8 1129.4,361.5 Z" fill="#138a1e"/><rect x="1127.9" y="360.5" width="3.0" height="2" fill="#1c2a1c"/><path d="M1149.5,367.0 C1154.9,367.3 1154.1,376.4 1149.5,380.0 C1144.9,376.4 1144.1,367.3 1149.5,367.0 Z" fill="#e3171b"/><rect x="1148.0" y="366.0" width="3.0" height="2" fill="#1c2a1c"/><path d="M1166.3,361.5 C1171.7,361.8 1170.9,370.9 1166.3,374.5 C1161.7,370.9 1160.9,361.8 1166.3,361.5 Z" fill="#138a1e"/><rect x="1164.8" y="360.5" width="3.0" height="2" fill="#1c2a1c"/><path d="M1181.0,348.5 C1186.4,348.8 1185.6,357.9 1181.0,361.5 C1176.4,357.9 1175.6,348.8 1181.0,348.5 Z" fill="#e3171b"/><rect x="1179.5" y="347.5" width="3.0" height="2" fill="#1c2a1c"/><path d="M1196.2,361.5 C1201.6,361.8 1200.8,370.9 1196.2,374.5 C1191.6,370.9 1190.8,361.8 1196.2,361.5 Z" fill="#138a1e"/><rect x="1194.7" y="360.5" width="3.0" height="2" fill="#1c2a1c"/><path d="M1216.0,367.0 C1221.4,367.3 1220.6,376.4 1216.0,380.0 C1211.4,376.4 1210.6,367.3 1216.0,367.0 Z" fill="#e3171b"/><rect x="1214.5" y="366.0" width="3.0" height="2" fill="#1c2a1c"/><path d="M1232.5,361.5 C1237.9,361.8 1237.1,370.9 1232.5,374.5 C1227.9,370.9 1227.1,361.8 1232.5,361.5 Z" fill="#138a1e"/><rect x="1231.0" y="360.5" width="3.0" height="2" fill="#1c2a1c"/><path d="M1247.0,348.5 C1252.4,348.8 1251.6,357.9 1247.0,361.5 C1242.4,357.9 1241.6,348.8 1247.0,348.5 Z" fill="#e3171b"/><rect x="1245.5" y="347.5" width="3.0" height="2" fill="#1c2a1c"/><path d="M1263.5,361.5 C1268.9,361.8 1268.1,370.9 1263.5,374.5 C1258.9,370.9 1258.1,361.8 1263.5,361.5 Z" fill="#138a1e"/><rect x="1262.0" y="360.5" width="3.0" height="2" fill="#1c2a1c"/><path d="M1284.9,367.0 C1290.3,367.3 1289.5,376.4 1284.9,380.0 C1280.3,376.4 1279.5,367.3 1284.9,367.0 Z" fill="#e3171b"/><rect x="1283.4" y="366.0" width="3.0" height="2" fill="#1c2a1c"/><path d="M1302.8,361.5 C1308.2,361.8 1307.4,370.9 1302.8,374.5 C1298.2,370.9 1297.4,361.8 1302.8,361.5 Z" fill="#138a1e"/><rect x="1301.3" y="360.5" width="3.0" height="2" fill="#1c2a1c"/><path d="M1318.6,348.5 C1324.0,348.8 1323.2,357.9 1318.6,361.5 C1314.0,357.9 1313.2,348.8 1318.6,348.5 Z" fill="#e3171b"/><rect x="1317.1" y="347.5" width="3.0" height="2" fill="#1c2a1c"/><path d="M1335.0,361.5 C1340.4,361.8 1339.6,370.9 1335.0,374.5 C1330.4,370.9 1329.6,361.8 1335.0,361.5 Z" fill="#138a1e"/><rect x="1333.5" y="360.5" width="3.0" height="2" fill="#1c2a1c"/><path d="M1356.3,367.0 C1361.7,367.3 1360.9,376.4 1356.3,380.0 C1351.7,376.4 1350.9,367.3 1356.3,367.0 Z" fill="#e3171b"/><rect x="1354.8" y="366.0" width="3.0" height="2" fill="#1c2a1c"/><path d="M1374.1,361.5 C1379.5,361.8 1378.7,370.9 1374.1,374.5 C1369.5,370.9 1368.7,361.8 1374.1,361.5 Z" fill="#138a1e"/><rect x="1372.6" y="360.5" width="3.0" height="2" fill="#1c2a1c"/><path d="M1389.8,348.5 C1395.2,348.8 1394.4,357.9 1389.8,361.5 C1385.2,357.9 1384.4,348.8 1389.8,348.5 Z" fill="#e3171b"/><rect x="1388.3" y="347.5" width="3.0" height="2" fill="#1c2a1c"/><path d="M1405.0,361.5 C1410.4,361.8 1409.6,370.9 1405.0,374.5 C1400.4,370.9 1399.6,361.8 1405.0,361.5 Z" fill="#138a1e"/><rect x="1403.5" y="360.5" width="3.0" height="2" fill="#1c2a1c"/><path d="M1424.9,367.0 C1430.3,367.3 1429.5,376.4 1424.9,380.0 C1420.3,376.4 1419.5,367.3 1424.9,367.0 Z" fill="#e3171b"/><rect x="1423.4" y="366.0" width="3.0" height="2" fill="#1c2a1c"/><path d="M1441.4,361.5 C1446.8,361.8 1446.0,370.9 1441.4,374.5 C1436.8,370.9 1436.0,361.8 1441.4,361.5 Z" fill="#138a1e"/><rect x="1439.9" y="360.5" width="3.0" height="2" fill="#1c2a1c"/><path d="M1456.0,348.5 C1461.4,348.8 1460.6,357.9 1456.0,361.5 C1451.4,357.9 1450.6,348.8 1456.0,348.5 Z" fill="#e3171b"/><rect x="1454.5" y="347.5" width="3.0" height="2" fill="#1c2a1c"/><path d="M1471.1,361.5 C1476.5,361.8 1475.7,370.9 1471.1,374.5 C1466.5,370.9 1465.7,361.8 1471.1,361.5 Z" fill="#138a1e"/><rect x="1469.6" y="360.5" width="3.0" height="2" fill="#1c2a1c"/><path d="M1490.8,367.0 C1496.2,367.3 1495.4,376.4 1490.8,380.0 C1486.2,376.4 1485.4,367.3 1490.8,367.0 Z" fill="#e3171b"/><rect x="1489.3" y="366.0" width="3.0" height="2" fill="#1c2a1c"/><path d="M1507.2,361.5 C1512.6,361.8 1511.8,370.9 1507.2,374.5 C1502.6,370.9 1501.8,361.8 1507.2,361.5 Z" fill="#138a1e"/><rect x="1505.7" y="360.5" width="3.0" height="2" fill="#1c2a1c"/><path d="M1521.7,349.3 C1526.5,349.6 1525.7,357.6 1521.7,360.7 C1517.7,357.6 1516.9,349.6 1521.7,349.3 Z" fill="#e3171b"/><rect x="1520.4" y="348.3" width="2.6" height="2" fill="#1c2a1c"/><path d="M1534.1,360.3 C1538.9,360.6 1538.2,368.6 1534.1,371.7 C1530.1,368.6 1529.4,360.6 1534.1,360.3 Z" fill="#138a1e"/><rect x="1532.8" y="359.3" width="2.6" height="2" fill="#1c2a1c"/><path d="M1550.3,365.8 C1555.1,366.1 1554.4,374.1 1550.3,377.2 C1546.3,374.1 1545.6,366.1 1550.3,365.8 Z" fill="#e3171b"/><rect x="1549.0" y="364.8" width="2.6" height="2" fill="#1c2a1c"/><path d="M1563.8,360.3 C1568.6,360.6 1567.9,368.6 1563.8,371.7 C1559.8,368.6 1559.1,360.6 1563.8,360.3 Z" fill="#138a1e"/><rect x="1562.5" y="359.3" width="2.6" height="2" fill="#1c2a1c"/><path d="M1575.7,349.3 C1580.5,349.6 1579.7,357.6 1575.7,360.7 C1571.7,357.6 1570.9,349.6 1575.7,349.3 Z" fill="#e3171b"/><rect x="1574.4" y="348.3" width="2.6" height="2" fill="#1c2a1c"/><path d="M1589.4,360.3 C1594.1,360.6 1593.4,368.6 1589.4,371.7 C1585.3,368.6 1584.6,360.6 1589.4,360.3 Z" fill="#138a1e"/><rect x="1588.1" y="359.3" width="2.6" height="2" fill="#1c2a1c"/><path d="M1607.2,365.8 C1612.0,366.1 1611.3,374.1 1607.2,377.2 C1603.2,374.1 1602.5,366.1 1607.2,365.8 Z" fill="#e3171b"/><rect x="1605.9" y="364.8" width="2.6" height="2" fill="#1c2a1c"/><path d="M1622.1,360.3 C1626.9,360.6 1626.2,368.6 1622.1,371.7 C1618.1,368.6 1617.4,360.6 1622.1,360.3 Z" fill="#138a1e"/><rect x="1620.8" y="359.3" width="2.6" height="2" fill="#1c2a1c"/><path d="M1635.2,349.3 C1640.0,349.6 1639.2,357.6 1635.2,360.7 C1631.2,357.6 1630.4,349.6 1635.2,349.3 Z" fill="#e3171b"/><rect x="1633.9" y="348.3" width="2.6" height="2" fill="#1c2a1c"/><path d="M1648.9,360.3 C1653.7,360.6 1653.0,368.6 1648.9,371.7 C1644.9,368.6 1644.2,360.6 1648.9,360.3 Z" fill="#138a1e"/><rect x="1647.6" y="359.3" width="2.6" height="2" fill="#1c2a1c"/><path d="M1666.8,365.8 C1671.6,366.1 1670.9,374.1 1666.8,377.2 C1662.8,374.1 1662.1,366.1 1666.8,365.8 Z" fill="#e3171b"/><rect x="1665.5" y="364.8" width="2.6" height="2" fill="#1c2a1c"/><path d="M1681.8,360.3 C1686.5,360.6 1685.8,368.6 1681.8,371.7 C1677.7,368.6 1677.0,360.6 1681.8,360.3 Z" fill="#138a1e"/><rect x="1680.4" y="359.3" width="2.6" height="2" fill="#1c2a1c"/><path d="M1694.9,349.3 C1699.7,349.6 1698.9,357.6 1694.9,360.7 C1690.9,357.6 1690.1,349.6 1694.9,349.3 Z" fill="#e3171b"/><rect x="1693.6" y="348.3" width="2.6" height="2" fill="#1c2a1c"/><path d="M1707.3,360.3 C1712.0,360.6 1711.3,368.6 1707.3,371.7 C1703.2,368.6 1702.5,360.6 1707.3,360.3 Z" fill="#138a1e"/><rect x="1706.0" y="359.3" width="2.6" height="2" fill="#1c2a1c"/><path d="M1723.4,365.8 C1728.2,366.1 1727.5,374.1 1723.4,377.2 C1719.4,374.1 1718.7,366.1 1723.4,365.8 Z" fill="#e3171b"/><rect x="1722.1" y="364.8" width="2.6" height="2" fill="#1c2a1c"/><path d="M1736.9,360.3 C1741.6,360.6 1740.9,368.6 1736.9,371.7 C1732.8,368.6 1732.1,360.6 1736.9,360.3 Z" fill="#138a1e"/><rect x="1735.5" y="359.3" width="2.6" height="2" fill="#1c2a1c"/><path d="M1748.7,349.3 C1753.5,349.6 1752.7,357.6 1748.7,360.7 C1744.7,357.6 1743.9,349.6 1748.7,349.3 Z" fill="#e3171b"/><rect x="1747.4" y="348.3" width="2.6" height="2" fill="#1c2a1c"/><path d="M1761.3,360.3 C1766.0,360.6 1765.3,368.6 1761.3,371.7 C1757.2,368.6 1756.5,360.6 1761.3,360.3 Z" fill="#138a1e"/><rect x="1759.9" y="359.3" width="2.6" height="2" fill="#1c2a1c"/><path d="M1777.6,365.8 C1782.4,366.1 1781.7,374.1 1777.6,377.2 C1773.6,374.1 1772.9,366.1 1777.6,365.8 Z" fill="#e3171b"/><rect x="1776.3" y="364.8" width="2.6" height="2" fill="#1c2a1c"/><path d="M1791.3,360.3 C1796.0,360.6 1795.3,368.6 1791.3,371.7 C1787.2,368.6 1786.5,360.6 1791.3,360.3 Z" fill="#138a1e"/><rect x="1790.0" y="359.3" width="2.6" height="2" fill="#1c2a1c"/><path d="M1803.3,349.3 C1808.1,349.6 1807.3,357.6 1803.3,360.7 C1799.3,357.6 1798.5,349.6 1803.3,349.3 Z" fill="#e3171b"/><rect x="1802.0" y="348.3" width="2.6" height="2" fill="#1c2a1c"/></svg><div style="position:absolute;left:421px;top:151px;width:120px;text-align:center;color:#3a8a23;font-weight:700;font-size:44px;line-height:44px;letter-spacing:-1px;transform:scaleX(1.19);transform-origin:60px 0">43</div><div style="position:absolute;left:412px;top:198px;width:140px;text-align:center;color:#0d0d0d;font-weight:700;font-size:20.5px;line-height:24px;letter-spacing:0.5px">Days until<br>Christmas</div><div class="kb" style="left:610px;top:63px;width:101px;height:51px"><div class="h" style="height:17px;background:#93c47d;font-size:12px;line-height:17px;letter-spacing:0.25px;color:#1d4a1d">TOTAL BUDGET</div><div class="v" style="height:33px;font-size:15.5px;line-height:33px;letter-spacing:0.9px">$1,720.00</div></div><div class="kb" style="left:736px;top:63px;width:102px;height:51px"><div class="h" style="height:17px;background:#e06666;font-size:12px;line-height:17px;letter-spacing:0.45px;color:#5a1010">TOTAL SPENT</div><div class="v" style="height:33px;font-size:15.5px;line-height:33px;letter-spacing:0.8px">$1,657.98</div></div><div class="kb" style="left:1320px;top:80px;width:141px;height:67px"><div class="h" style="height:34px;background:#6aa84f;font-size:12.5px;line-height:33px;font-weight:700;letter-spacing:0.35px;color:#0f240f">GIFTS PURCHASED</div><div class="v" style="height:33px;font-size:16px;line-height:33px">8</div></div><div class="kb" style="left:1320px;top:163px;width:141px;height:67px"><div class="h" style="height:34px;background:#6aa84f;font-size:12.5px;line-height:33px;font-weight:700;letter-spacing:0.45px;color:#0f240f">GIFTS WRAPPED</div><div class="v" style="height:33px;font-size:16px;line-height:33px">5</div></div><svg class="ov" width="1946" height="1460" viewBox="0 0 1946 1460"><line x1="802" y1="484.2" x2="995" y2="484.2" stroke="#c9d9c3" stroke-width="1"/><line x1="802" y1="537.9" x2="995" y2="537.9" stroke="#c9d9c3" stroke-width="1"/><line x1="802" y1="591.6" x2="995" y2="591.6" stroke="#c9d9c3" stroke-width="1"/><line x1="802" y1="645.3" x2="995" y2="645.3" stroke="#c9d9c3" stroke-width="1"/><text x="797" y="487.7" text-anchor="end" font-family="Liberation Serif" font-weight="700" font-size="10.5" letter-spacing="0.3" fill="#2e3a2e">$2,000</text><text x="797" y="541.4" text-anchor="end" font-family="Liberation Serif" font-weight="700" font-size="10.5" letter-spacing="0.3" fill="#2e3a2e">$1,500</text><text x="797" y="595.1" text-anchor="end" font-family="Liberation Serif" font-weight="700" font-size="10.5" letter-spacing="0.3" fill="#2e3a2e">$1,000</text><text x="797" y="648.8" text-anchor="end" font-family="Liberation Serif" font-weight="700" font-size="10.5" letter-spacing="0.3" fill="#2e3a2e">$500</text><text x="797" y="702.7" text-anchor="end" font-family="Liberation Serif" font-weight="700" font-size="10.5" letter-spacing="0.3" fill="#2e3a2e">$0</text><rect rx="1.5" x="831.8" y="514.4" width="52.4" height="184.8" fill="#6aa84f"/><rect rx="1.5" x="913.2" y="521" width="52.6" height="178.2" fill="#e06666"/><line x1="802" y1="699.2" x2="995" y2="699.2" stroke="#2a2a2a" stroke-width="1"/></svg><svg class="ov" width="1946" height="1460" viewBox="0 0 1946 1460"><path d="M1204,571 L1204.00,446.00 A125,125 0 0 1 1322.64,531.63 Z" fill="#cc1638"/><path d="M1204,571 L1322.64,531.63 A125,125 0 0 1 1278.74,671.20 Z" fill="#c27ba0"/><path d="M1204,571 L1278.74,671.20 A125,125 0 0 1 1232.03,692.82 Z" fill="#45818e"/><path d="M1204,571 L1232.03,692.82 A125,125 0 0 1 1090.56,623.51 Z" fill="#6aa84f"/><path d="M1204,571 L1090.56,623.51 A125,125 0 0 1 1187.55,447.09 Z" fill="#a64d79"/><path d="M1204,571 L1187.55,447.09 A125,125 0 0 1 1204.00,446.00 Z" fill="#674ea7"/><text x="1204" y="433.3" text-anchor="middle" font-family="Liberation Sans" font-size="16.5" fill="#1a1a1a">SPENDING BREAKDOWN</text><text x="1031.0" y="454.4" text-anchor="start" font-family="Liberation Sans" font-size="10.5" fill="#2a2a2a">In-Laws</text><text x="1031.0" y="466.9" text-anchor="start" font-family="Liberation Sans" font-size="10.5" fill="#a8b0a6">2.1%</text><path d="M1031.0,457.5 L1163.0,453.5 L1196.0,453.0" stroke="#7d8f7a" stroke-width="1" fill="none"/><circle cx="1196.0" cy="453.0" r="1.3" fill="#e8e0e0"/><text x="1031.0" y="511.0" text-anchor="start" font-family="Liberation Sans" font-size="10.5" fill="#2a2a2a">School</text><text x="1031.0" y="523.5" text-anchor="start" font-family="Liberation Sans" font-size="10.5" fill="#a8b0a6">29.8%</text><path d="M1031.0,514.0 L1090.0,514.0 L1100.0,514.0" stroke="#7d8f7a" stroke-width="1" fill="none"/><circle cx="1100.0" cy="514.0" r="1.3" fill="#e8e0e0"/><text x="1031.0" y="675.0" text-anchor="start" font-family="Liberation Sans" font-size="10.5" fill="#2a2a2a">Coworker</text><text x="1031.0" y="687.5" text-anchor="start" font-family="Liberation Sans" font-size="10.5" fill="#a8b0a6">21.7%</text><path d="M1031.0,678.4 L1140.0,678.4 L1150.0,678.0" stroke="#7d8f7a" stroke-width="1" fill="none"/><circle cx="1150.0" cy="678.0" r="1.3" fill="#e8e0e0"/><text x="1376.6" y="472.0" text-anchor="end" font-family="Liberation Sans" font-size="10.5" fill="#2a2a2a">Family</text><text x="1376.6" y="484.5" text-anchor="end" font-family="Liberation Sans" font-size="10.5" fill="#a8b0a6">19.9%</text><path d="M1376.6,475.6 L1273.0,475.6 L1273.0,475.0" stroke="#7d8f7a" stroke-width="1" fill="none"/><circle cx="1273.0" cy="475.0" r="1.3" fill="#e8e0e0"/><text x="1376.6" y="604.6" text-anchor="end" font-family="Liberation Sans" font-size="10.5" fill="#2a2a2a">Friend</text><text x="1376.6" y="617.1" text-anchor="end" font-family="Liberation Sans" font-size="10.5" fill="#a8b0a6">19.9%</text><path d="M1376.6,607.0 L1320.0,607.0 L1319.0,607.0" stroke="#7d8f7a" stroke-width="1" fill="none"/><circle cx="1319.0" cy="607.0" r="1.3" fill="#e8e0e0"/><text x="1376.6" y="677.0" text-anchor="end" font-family="Liberation Sans" font-size="10.5" fill="#2a2a2a">Neighbor</text><text x="1376.6" y="689.5" text-anchor="end" font-family="Liberation Sans" font-size="10.5" fill="#a8b0a6">6.6%</text><path d="M1376.6,679.5 L1255.0,679.5 L1253.0,680.0" stroke="#7d8f7a" stroke-width="1" fill="none"/><circle cx="1253.0" cy="680.0" r="1.3" fill="#e8e0e0"/></svg><svg class="ov" width="1946" height="1460" viewBox="0 0 1946 1460"><path d="M1452,630 Q1480,620 1514,630 M1537,631 Q1568,633 1602,637 M1622,644 Q1660,650 1690,645 Q1708,640 1716,628" stroke="#e2c98a" stroke-width="1.3" fill="none"/><g transform="translate(0.0,0.0)"><path d="M1441,606 Q1436,598 1438,591 M1439,600 Q1435,597 1434,593 M1444,605 Q1447,595 1456,591 Q1463,588 1465,592 Q1466,597 1461,601 M1448,603 Q1452,596 1451,592 M1453,600 Q1458,596 1457,591 M1457,599 Q1462,596 1461,592" stroke="#54564e" stroke-width="1.7" fill="none" stroke-linecap="round"/><path d="M1428.3,610 Q1433,606.5 1441,606 L1449.5,609 L1445,611.5 Q1447,622 1454.5,630.6 Q1470,633 1483,634.3 L1489,634.5 L1488,637 Q1484,639 1483,644 L1488,656 L1501,665.5 L1499,668 L1492,663 L1494,667 L1491,668 L1484,659 Q1476,651 1468,651 L1452,650 Q1446,648 1440,644 Q1434,638 1434,619 Q1432,613 1428.3,610 Z" fill="#976642"/><path d="M1439,634 L1422,636 L1438,650 M1441,640 L1426,642 L1442,652" stroke="#8a5a3a" stroke-width="3.2" fill="none" stroke-linejoin="round" stroke-linecap="round"/><path d="M1445,646 Q1458,652 1474,651 Q1462,654 1448,651 Z" fill="#f0d5c0"/><path d="M1434,619 Q1437,626 1440,628 L1436,636 Q1433,628 1434,619 Z" fill="#f0d5c0"/><path d="M1435,627 Q1444,630 1452,632 M1449,631 Q1448,640 1444,646" stroke="#e8632e" stroke-width="2.4" fill="none" stroke-dasharray="2 0.8"/><circle cx="1428.6" cy="609.8" r="1.4" fill="#2a1a12"/><path d="M1499,668 l2,-1.5 M1491,668 l1.5,-1.5 M1437,651.5 l2,0.5" stroke="#2a1a12" stroke-width="1.8"/></g><g transform="translate(85.4,0.5)"><path d="M1441,606 Q1436,598 1438,591 M1439,600 Q1435,597 1434,593 M1444,605 Q1447,595 1456,591 Q1463,588 1465,592 Q1466,597 1461,601 M1448,603 Q1452,596 1451,592 M1453,600 Q1458,596 1457,591 M1457,599 Q1462,596 1461,592" stroke="#54564e" stroke-width="1.7" fill="none" stroke-linecap="round"/><path d="M1428.3,610 Q1433,606.5 1441,606 L1449.5,609 L1445,611.5 Q1447,622 1454.5,630.6 Q1470,633 1483,634.3 L1489,634.5 L1488,637 Q1484,639 1483,644 L1488,656 L1501,665.5 L1499,668 L1492,663 L1494,667 L1491,668 L1484,659 Q1476,651 1468,651 L1452,650 Q1446,648 1440,644 Q1434,638 1434,619 Q1432,613 1428.3,610 Z" fill="#976642"/><path d="M1439,634 L1422,636 L1438,650 M1441,640 L1426,642 L1442,652" stroke="#8a5a3a" stroke-width="3.2" fill="none" stroke-linejoin="round" stroke-linecap="round"/><path d="M1445,646 Q1458,652 1474,651 Q1462,654 1448,651 Z" fill="#f0d5c0"/><path d="M1434,619 Q1437,626 1440,628 L1436,636 Q1433,628 1434,619 Z" fill="#f0d5c0"/><path d="M1435,627 Q1444,630 1452,632 M1449,631 Q1448,640 1444,646" stroke="#e8632e" stroke-width="2.4" fill="none" stroke-dasharray="2 0.8"/><circle cx="1428.6" cy="609.8" r="1.4" fill="#2a1a12"/><path d="M1499,668 l2,-1.5 M1491,668 l1.5,-1.5 M1437,651.5 l2,0.5" stroke="#2a1a12" stroke-width="1.8"/></g><g transform="translate(170.6,6.5)"><path d="M1441,606 Q1436,598 1438,591 M1439,600 Q1435,597 1434,593 M1444,605 Q1447,595 1456,591 Q1463,588 1465,592 Q1466,597 1461,601 M1448,603 Q1452,596 1451,592 M1453,600 Q1458,596 1457,591 M1457,599 Q1462,596 1461,592" stroke="#54564e" stroke-width="1.7" fill="none" stroke-linecap="round"/><path d="M1428.3,610 Q1433,606.5 1441,606 L1449.5,609 L1445,611.5 Q1447,622 1454.5,630.6 Q1470,633 1483,634.3 L1489,634.5 L1488,637 Q1484,639 1483,644 L1488,656 L1501,665.5 L1499,668 L1492,663 L1494,667 L1491,668 L1484,659 Q1476,651 1468,651 L1452,650 Q1446,648 1440,644 Q1434,638 1434,619 Q1432,613 1428.3,610 Z" fill="#976642"/><path d="M1439,634 L1422,636 L1438,650 M1441,640 L1426,642 L1442,652" stroke="#8a5a3a" stroke-width="3.2" fill="none" stroke-linejoin="round" stroke-linecap="round"/><path d="M1445,646 Q1458,652 1474,651 Q1462,654 1448,651 Z" fill="#f0d5c0"/><path d="M1434,619 Q1437,626 1440,628 L1436,636 Q1433,628 1434,619 Z" fill="#f0d5c0"/><path d="M1435,627 Q1444,630 1452,632 M1449,631 Q1448,640 1444,646" stroke="#e8632e" stroke-width="2.4" fill="none" stroke-dasharray="2 0.8"/><circle cx="1428.6" cy="609.8" r="1.4" fill="#2a1a12"/><path d="M1499,668 l2,-1.5 M1491,668 l1.5,-1.5 M1437,651.5 l2,0.5" stroke="#2a1a12" stroke-width="1.8"/></g><path d="M1676,670 Q1670,672 1672,686 Q1674,700 1684,705 Q1715,716 1748,722 Q1754,722 1755,717" stroke="#9c7a55" stroke-width="2.4" fill="none"/><path d="M1700,707 L1697,713 M1742,714 L1744,720" stroke="#9c7a55" stroke-width="2"/><circle cx="1691" cy="660" r="3" fill="#e8c0a0"/><path d="M1688,658 l3,-6 3,6 Z" fill="#d82a2a"/><path d="M1690,684 Q1694,655 1712,656 Q1722,658 1724,690 Z" fill="#c02a40"/><path d="M1697,668 Q1700,655 1712,656 Q1722,658 1724,672 Z" fill="#8a3a9a"/><circle cx="1704" cy="660" r="3.2" fill="#e050a0"/><circle cx="1712" cy="657" r="3" fill="#3a9a4a"/><circle cx="1719" cy="663" r="3" fill="#b040c0"/><path d="M1716,690 Q1716,660 1724,654 L1720,636 L1726,634 L1732,650 Q1742,648 1752,656 Q1762,668 1760,690 Z" fill="#dc2222"/><path d="M1724,670 L1752,672" stroke="#222" stroke-width="2.5"/><circle cx="1745.5" cy="642" r="5.5" fill="#f3d7c4"/><path d="M1738,643 Q1740,658 1747,660 Q1754,656 1753,643 Q1746,648 1738,643 Z" fill="#fafafa"/><path d="M1739,639 Q1745,628 1753,636 Q1750,638 1739,639 Z" fill="#dc2222"/><circle cx="1739" cy="639.5" r="1.6" fill="#fff"/><path d="M1712,627 Q1716,621 1720,627 L1719,631 L1713,631 Z" fill="#f2c21c"/><path d="M1684,674 Q1686,700 1702,706 Q1728,712 1748,712 Q1760,708 1763,680 Q1745,690 1729,684 Q1715,694 1706,690 Q1694,684 1684,674 Z" fill="#e02a30"/><path d="M1686,676 Q1694,688 1706,690 Q1716,692 1729,683 Q1746,688 1764,679" stroke="#f4b81c" stroke-width="2.2" fill="none"/><g transform="translate(1776,662) rotate(52)"><path d="M0,-24 L9,-10 L5,-10 L13,2 L7,2 L16,15 L-16,15 L-7,2 L-13,2 L-5,-10 L-9,-10 Z" fill="#3a8a2c"/><path d="M0,-24 L9,-10 L5,-10 L13,2 L7,2 L16,15 L0,15 Z" fill="#2e7424"/><circle cx="-4" cy="-4" r="1.3" fill="#f2c21c"/><circle cx="5" cy="7" r="1.3" fill="#e03030"/><circle cx="-8" cy="10" r="1.3" fill="#f2c21c"/></g><path d="M1796,638 l1.5,3.5 3.8,0.3 -2.9,2.5 0.9,3.7 -3.3,-2 -3.3,2 0.9,-3.7 -2.9,-2.5 3.8,-0.3 Z" fill="#f2c21c"/></svg><div class="tbg" style="left:15.5px;top:397.2px;width:197.7px;height:323.1px;background:#efefef"></div><div class="hl" style="left:15.5px;top:439.3px;width:197.7px"></div><div class="hl" style="left:15.5px;top:459.3px;width:197.7px"></div><div class="hl" style="left:15.5px;top:479.3px;width:197.7px"></div><div class="hl" style="left:15.5px;top:499.3px;width:197.7px"></div><div class="hl" style="left:15.5px;top:519.3px;width:197.7px"></div><div class="hl" style="left:15.5px;top:539.3px;width:197.7px"></div><div class="hl" style="left:15.5px;top:559.3px;width:197.7px"></div><div class="hl" style="left:15.5px;top:579.3px;width:197.7px"></div><div class="hl" style="left:15.5px;top:599.3px;width:197.7px"></div><div class="hl" style="left:15.5px;top:619.3px;width:197.7px"></div><div class="hl" style="left:15.5px;top:639.3px;width:197.7px"></div><div class="hl" style="left:15.5px;top:659.3px;width:197.7px"></div><div class="hl" style="left:15.5px;top:679.3px;width:197.7px"></div><div class="hl" style="left:15.5px;top:699.3px;width:197.7px"></div><div class="hl" style="left:15.5px;top:719.3px;width:197.7px"></div><div class="hdr" style="left:15.5px;top:397.2px;width:197.7px;height:23.1px;"></div><div class="ht" style="left:15.5px;top:397.2px;width:132.0px;height:23.1px;">CATEGORY</div><div class="ht" style="left:147.5px;top:397.2px;width:65.7px;height:23.1px;">SPENT</div><div class="t" style="left:15.5px;top:420.3px;width:132.0px;height:20.0px;">Family</div><div class="t" style="left:147.5px;top:420.3px;width:65.7px;height:20.0px;">$329.99</div><div class="t" style="left:15.5px;top:440.3px;width:132.0px;height:20.0px;">Friend</div><div class="t" style="left:147.5px;top:440.3px;width:65.7px;height:20.0px;">$330.00</div><div class="t" style="left:15.5px;top:460.3px;width:132.0px;height:20.0px;">Neighbor</div><div class="t" style="left:147.5px;top:460.3px;width:65.7px;height:20.0px;">$109.99</div><div class="t" style="left:15.5px;top:480.3px;width:132.0px;height:20.0px;">Coworker</div><div class="t" style="left:147.5px;top:480.3px;width:65.7px;height:20.0px;">$360.00</div><div class="t" style="left:15.5px;top:500.3px;width:132.0px;height:20.0px;">School</div><div class="t" style="left:147.5px;top:500.3px;width:65.7px;height:20.0px;">$494.00</div><div class="t" style="left:15.5px;top:520.3px;width:132.0px;height:20.0px;">In-Laws</div><div class="t" style="left:147.5px;top:520.3px;width:65.7px;height:20.0px;">$34.00</div><div class="vl" style="left:147.0px;top:397.2px;height:323.1px"></div><div class="box" style="left:15.0px;top:396.7px;width:198.2px;height:324.1px"></div><div class="tbg" style="left:225.2px;top:420.3px;width:1357.2px;height:335.7px;background:#fff"></div><div class="tbg" style="left:997.3px;top:420.3px;width:99.5px;height:335.7px;background:#efefef"></div><div class="hl" style="left:225.2px;top:439.3px;width:1357.2px"></div><div class="hl" style="left:225.2px;top:459.3px;width:1357.2px"></div><div class="hl" style="left:225.2px;top:479.3px;width:1357.2px"></div><div class="hl" style="left:225.2px;top:499.3px;width:1357.2px"></div><div class="hl" style="left:225.2px;top:519.3px;width:1357.2px"></div><div class="hl" style="left:225.2px;top:539.3px;width:1357.2px"></div><div class="hl" style="left:225.2px;top:559.3px;width:1357.2px"></div><div class="hl" style="left:225.2px;top:579.3px;width:1357.2px"></div><div class="hl" style="left:225.2px;top:599.3px;width:1357.2px"></div><div class="hl" style="left:225.2px;top:619.3px;width:1357.2px"></div><div class="hl" style="left:225.2px;top:639.3px;width:1357.2px"></div><div class="hl" style="left:225.2px;top:659.3px;width:1357.2px"></div><div class="hl" style="left:225.2px;top:679.3px;width:1357.2px"></div><div class="hl" style="left:225.2px;top:699.3px;width:1357.2px"></div><div class="hl" style="left:225.2px;top:719.3px;width:1357.2px"></div><div class="hl" style="left:225.2px;top:739.3px;width:1357.2px"></div><div class="hl" style="left:225.2px;top:759.3px;width:1357.2px"></div><div class="tbg" style="left:1096.8px;top:419.8px;width:69.4px;height:20.0px;background:#2f9613"></div><div class="tbg" style="left:1166.2px;top:419.8px;width:74.5px;height:20.0px;background:#2f9613"></div><div class="tbg" style="left:1096.8px;top:459.8px;width:69.4px;height:20.0px;background:#2f9613"></div><div class="tbg" style="left:1096.8px;top:499.8px;width:69.4px;height:20.0px;background:#2f9613"></div><div class="tbg" style="left:1166.2px;top:499.8px;width:74.5px;height:20.0px;background:#2f9613"></div><div class="tbg" style="left:1240.7px;top:499.8px;width:80.7px;height:20.0px;background:#2f9613"></div><div class="tbg" style="left:1096.8px;top:539.8px;width:69.4px;height:20.0px;background:#2f9613"></div><div class="tbg" style="left:1166.2px;top:539.8px;width:74.5px;height:20.0px;background:#2f9613"></div><div class="tbg" style="left:1096.8px;top:579.8px;width:69.4px;height:20.0px;background:#2f9613"></div><div class="tbg" style="left:1166.2px;top:579.8px;width:74.5px;height:20.0px;background:#2f9613"></div><div class="tbg" style="left:1096.8px;top:599.8px;width:69.4px;height:20.0px;background:#2f9613"></div><div class="tbg" style="left:1096.8px;top:659.8px;width:69.4px;height:20.0px;background:#2f9613"></div><div class="tbg" style="left:1096.8px;top:699.8px;width:69.4px;height:20.0px;background:#2f9613"></div><div class="tbg" style="left:1166.2px;top:699.8px;width:74.5px;height:20.0px;background:#2f9613"></div><div class="hdr" style="left:225.2px;top:397.2px;width:1357.2px;height:23.1px;"></div><div class="ht" style="left:225.2px;top:397.2px;width:153.0px;height:23.1px;">NAME</div><div class="ht" style="left:378.2px;top:397.2px;width:206.6px;height:23.1px;">GIFT</div><div class="ht" style="left:584.8px;top:397.2px;width:126.8px;height:23.1px;">STORE</div><div class="ht" style="left:711.6px;top:397.2px;width:126.0px;height:23.1px;">LINK</div><div class="ht" style="left:837.6px;top:397.2px;width:79.8px;height:23.1px;">BUDGET</div><div class="ht" style="left:917.4px;top:397.2px;width:79.9px;height:23.1px;">ACTUAL</div><div class="ht" style="left:997.3px;top:397.2px;width:99.5px;height:23.1px;">DIFFERENCE</div><div class="ht" style="left:1096.8px;top:397.2px;width:69.4px;height:23.1px;">BOUGHT</div><div class="ht" style="left:1166.2px;top:397.2px;width:74.5px;height:23.1px;">WRAPPED</div><div class="ht" style="left:1240.7px;top:397.2px;width:80.7px;height:23.1px;">SENT</div><div class="ht" style="left:1321.4px;top:397.2px;width:140.1px;height:23.1px;">ADDRESS</div><div class="ht" style="left:1461.5px;top:397.2px;width:120.9px;height:23.1px;">CATEGORY</div><div class="t" style="left:225.2px;top:420.3px;width:153.0px;height:20.0px;">Emily Thompson</div><div class="t" style="left:378.2px;top:420.3px;width:206.6px;height:20.0px;">Personalized Photo Album</div><div class="t" style="left:584.8px;top:420.3px;width:126.8px;height:20.0px;">Amazon</div><div class="t lk" style="left:711.6px;top:420.3px;width:126.0px;height:20.0px;"><u>www.link.com</u></div><div class="t" style="left:837.6px;top:420.3px;width:79.8px;height:20.0px;">$50.00</div><div class="t" style="left:917.4px;top:420.3px;width:79.9px;height:20.0px;">$79.99</div><div class="t neg" style="left:997.3px;top:420.3px;width:99.5px;height:20.0px;">-$29.99</div><div class="t" style="left:1321.4px;top:420.3px;width:140.1px;height:20.0px;">-</div><div class="t" style="left:1461.5px;top:420.3px;width:103.9px;height:20.0px;">Family</div><div class="t" style="left:225.2px;top:440.3px;width:153.0px;height:20.0px;">Benjamin Martinez</div><div class="t" style="left:378.2px;top:440.3px;width:206.6px;height:20.0px;">Amazon Echo</div><div class="t" style="left:584.8px;top:440.3px;width:126.8px;height:20.0px;">Amazon</div><div class="t lk" style="left:711.6px;top:440.3px;width:126.0px;height:20.0px;"><u>www.link.com</u></div><div class="t" style="left:837.6px;top:440.3px;width:79.8px;height:20.0px;">$100.00</div><div class="t" style="left:917.4px;top:440.3px;width:79.9px;height:20.0px;">$94.00</div><div class="t pos" style="left:997.3px;top:440.3px;width:99.5px;height:20.0px;">$6.00</div><div class="t" style="left:1321.4px;top:440.3px;width:140.1px;height:20.0px;">124 Main Street</div><div class="t" style="left:1461.5px;top:440.3px;width:103.9px;height:20.0px;">Neighbor</div><div class="t" style="left:225.2px;top:460.3px;width:153.0px;height:20.0px;">Jessica Rodriguez</div><div class="t" style="left:378.2px;top:460.3px;width:206.6px;height:20.0px;">Cozy Blanket or Throw</div><div class="t" style="left:584.8px;top:460.3px;width:126.8px;height:20.0px;">Macy&#39;s</div><div class="t lk" style="left:711.6px;top:460.3px;width:126.0px;height:20.0px;"><u>www.link.com</u></div><div class="t" style="left:837.6px;top:460.3px;width:79.8px;height:20.0px;">$50.00</div><div class="t" style="left:917.4px;top:460.3px;width:79.9px;height:20.0px;">$34.00</div><div class="t pos" style="left:997.3px;top:460.3px;width:99.5px;height:20.0px;">$16.00</div><div class="t" style="left:1321.4px;top:460.3px;width:140.1px;height:20.0px;">125 Main Street</div><div class="t" style="left:1461.5px;top:460.3px;width:103.9px;height:20.0px;">In-Laws</div><div class="t" style="left:225.2px;top:480.3px;width:153.0px;height:20.0px;">Christopher Williams</div><div class="t" style="left:378.2px;top:480.3px;width:206.6px;height:20.0px;letter-spacing:0.75px">Gourmet Chocolate Gift Box</div><div class="t" style="left:584.8px;top:480.3px;width:126.8px;height:20.0px;">Dolly&#39;s Candy</div><div class="t lk" style="left:711.6px;top:480.3px;width:126.0px;height:20.0px;"><u>www.link.com</u></div><div class="t" style="left:837.6px;top:480.3px;width:79.8px;height:20.0px;">$30.00</div><div class="t" style="left:917.4px;top:480.3px;width:79.9px;height:20.0px;">$15.99</div><div class="t pos" style="left:997.3px;top:480.3px;width:99.5px;height:20.0px;">$14.01</div><div class="t" style="left:1321.4px;top:480.3px;width:140.1px;height:20.0px;">-</div><div class="t" style="left:1461.5px;top:480.3px;width:103.9px;height:20.0px;">Neighbor</div><div class="t" style="left:225.2px;top:500.3px;width:153.0px;height:20.0px;">Olivia Davis</div><div class="t" style="left:378.2px;top:500.3px;width:206.6px;height:20.0px;">Customized Jewelry</div><div class="t" style="left:584.8px;top:500.3px;width:126.8px;height:20.0px;">Kays</div><div class="t lk" style="left:711.6px;top:500.3px;width:126.0px;height:20.0px;"><u>www.link.com</u></div><div class="t" style="left:837.6px;top:500.3px;width:79.8px;height:20.0px;">$200.00</div><div class="t" style="left:917.4px;top:500.3px;width:79.9px;height:20.0px;">$220.00</div><div class="t neg" style="left:997.3px;top:500.3px;width:99.5px;height:20.0px;">-$20.00</div><div class="t" style="left:1321.4px;top:500.3px;width:140.1px;height:20.0px;">127 Main Street</div><div class="t" style="left:1461.5px;top:500.3px;width:103.9px;height:20.0px;">Coworker</div><div class="t" style="left:225.2px;top:520.3px;width:153.0px;height:20.0px;">Alexander Smith</div><div class="t" style="left:378.2px;top:520.3px;width:206.6px;height:20.0px;letter-spacing:0.75px">Portable Bluetooth Speaker</div><div class="t" style="left:584.8px;top:520.3px;width:126.8px;height:20.0px;">Best Buy</div><div class="t lk" style="left:711.6px;top:520.3px;width:126.0px;height:20.0px;"><u>www.link.com</u></div><div class="t" style="left:837.6px;top:520.3px;width:79.8px;height:20.0px;">$100.00</div><div class="t" style="left:917.4px;top:520.3px;width:79.9px;height:20.0px;">$119.00</div><div class="t neg" style="left:997.3px;top:520.3px;width:99.5px;height:20.0px;">-$19.00</div><div class="t" style="left:1321.4px;top:520.3px;width:140.1px;height:20.0px;">128 Main Street</div><div class="t" style="left:1461.5px;top:520.3px;width:103.9px;height:20.0px;">School</div><div class="t" style="left:225.2px;top:540.3px;width:153.0px;height:20.0px;">Sophia Johnson</div><div class="t" style="left:378.2px;top:540.3px;width:206.6px;height:20.0px;">Spa Gift Basket</div><div class="t" style="left:584.8px;top:540.3px;width:126.8px;height:20.0px;">Amazon</div><div class="t lk" style="left:711.6px;top:540.3px;width:126.0px;height:20.0px;"><u>www.link.com</u></div><div class="t" style="left:837.6px;top:540.3px;width:79.8px;height:20.0px;">$80.00</div><div class="t" style="left:917.4px;top:540.3px;width:79.9px;height:20.0px;">$70.00</div><div class="t pos" style="left:997.3px;top:540.3px;width:99.5px;height:20.0px;">$10.00</div><div class="t" style="left:1321.4px;top:540.3px;width:140.1px;height:20.0px;">-</div><div class="t" style="left:1461.5px;top:540.3px;width:103.9px;height:20.0px;">Family</div><div class="t" style="left:225.2px;top:560.3px;width:153.0px;height:20.0px;">Daniel Brown</div><div class="t" style="left:378.2px;top:560.3px;width:206.6px;height:20.0px;">Virtual Reality Headset</div><div class="t" style="left:584.8px;top:560.3px;width:126.8px;height:20.0px;">Best Buy</div><div class="t lk" style="left:711.6px;top:560.3px;width:126.0px;height:20.0px;"><u>www.link.com</u></div><div class="t" style="left:837.6px;top:560.3px;width:79.8px;height:20.0px;">$300.00</div><div class="t" style="left:917.4px;top:560.3px;width:79.9px;height:20.0px;">$295.00</div><div class="t pos" style="left:997.3px;top:560.3px;width:99.5px;height:20.0px;">$5.00</div><div class="t" style="left:1321.4px;top:560.3px;width:140.1px;height:20.0px;">130 Main Street</div><div class="t" style="left:1461.5px;top:560.3px;width:103.9px;height:20.0px;">Friend</div><div class="t" style="left:225.2px;top:580.3px;width:153.0px;height:20.0px;">Isabella Taylor</div><div class="t" style="left:378.2px;top:580.3px;width:206.6px;height:20.0px;">Coffee or Tea Gift Set</div><div class="t" style="left:584.8px;top:580.3px;width:126.8px;height:20.0px;">Macy&#39;s</div><div class="t lk" style="left:711.6px;top:580.3px;width:126.0px;height:20.0px;"><u>www.link.com</u></div><div class="t" style="left:837.6px;top:580.3px;width:79.8px;height:20.0px;">$50.00</div><div class="t" style="left:917.4px;top:580.3px;width:79.9px;height:20.0px;">$35.00</div><div class="t pos" style="left:997.3px;top:580.3px;width:99.5px;height:20.0px;">$15.00</div><div class="t" style="left:1321.4px;top:580.3px;width:140.1px;height:20.0px;">-</div><div class="t" style="left:1461.5px;top:580.3px;width:103.9px;height:20.0px;">Friend</div><div class="t" style="left:225.2px;top:600.3px;width:153.0px;height:20.0px;">Matthew Anderson</div><div class="t" style="left:378.2px;top:600.3px;width:206.6px;height:20.0px;">Fitness Tracker</div><div class="t" style="left:584.8px;top:600.3px;width:126.8px;height:20.0px;">Best Buy</div><div class="t lk" style="left:711.6px;top:600.3px;width:126.0px;height:20.0px;"><u>www.link.com</u></div><div class="t" style="left:837.6px;top:600.3px;width:79.8px;height:20.0px;">$70.00</div><div class="t" style="left:917.4px;top:600.3px;width:79.9px;height:20.0px;">$80.00</div><div class="t neg" style="left:997.3px;top:600.3px;width:99.5px;height:20.0px;">-$10.00</div><div class="t" style="left:1321.4px;top:600.3px;width:140.1px;height:20.0px;">132 Main Street</div><div class="t" style="left:1461.5px;top:600.3px;width:103.9px;height:20.0px;">Family</div><div class="t" style="left:225.2px;top:620.3px;width:153.0px;height:20.0px;">Ava Wilson</div><div class="t" style="left:378.2px;top:620.3px;width:206.6px;height:20.0px;letter-spacing:0.75px">A Cooking Class Experience</div><div class="t" style="left:584.8px;top:620.3px;width:126.8px;height:20.0px;">Amazon</div><div class="t lk" style="left:711.6px;top:620.3px;width:126.0px;height:20.0px;"><u>www.link.com</u></div><div class="t" style="left:837.6px;top:620.3px;width:79.8px;height:20.0px;">$70.00</div><div class="t" style="left:917.4px;top:620.3px;width:79.9px;height:20.0px;">$85.00</div><div class="t neg" style="left:997.3px;top:620.3px;width:99.5px;height:20.0px;">-$15.00</div><div class="t" style="left:1321.4px;top:620.3px;width:140.1px;height:20.0px;">133 Main Street</div><div class="t" style="left:1461.5px;top:620.3px;width:103.9px;height:20.0px;">Coworker</div><div class="t" style="left:225.2px;top:640.3px;width:153.0px;height:20.0px;">William Turner</div><div class="t" style="left:378.2px;top:640.3px;width:206.6px;height:20.0px;">Leather-bound Journal</div><div class="t" style="left:584.8px;top:640.3px;width:126.8px;height:20.0px;">Etsy</div><div class="t lk" style="left:711.6px;top:640.3px;width:126.0px;height:20.0px;"><u>www.link.com</u></div><div class="t" style="left:837.6px;top:640.3px;width:79.8px;height:20.0px;">$30.00</div><div class="t" style="left:917.4px;top:640.3px;width:79.9px;height:20.0px;">$25.00</div><div class="t pos" style="left:997.3px;top:640.3px;width:99.5px;height:20.0px;">$5.00</div><div class="t" style="left:1321.4px;top:640.3px;width:140.1px;height:20.0px;">-</div><div class="t" style="left:1461.5px;top:640.3px;width:103.9px;height:20.0px;">Coworker</div><div class="t" style="left:225.2px;top:660.3px;width:153.0px;height:20.0px;">Mia Miller</div><div class="t" style="left:378.2px;top:660.3px;width:206.6px;height:20.0px;">High-quality Headphones</div><div class="t" style="left:584.8px;top:660.3px;width:126.8px;height:20.0px;">Best Buy</div><div class="t lk" style="left:711.6px;top:660.3px;width:126.0px;height:20.0px;"><u>www.link.com</u></div><div class="t" style="left:837.6px;top:660.3px;width:79.8px;height:20.0px;">$150.00</div><div class="t" style="left:917.4px;top:660.3px;width:79.9px;height:20.0px;">$100.00</div><div class="t pos" style="left:997.3px;top:660.3px;width:99.5px;height:20.0px;">$50.00</div><div class="t" style="left:1321.4px;top:660.3px;width:140.1px;height:20.0px;">-</div><div class="t" style="left:1461.5px;top:660.3px;width:103.9px;height:20.0px;">Family</div><div class="t" style="left:225.2px;top:680.3px;width:153.0px;height:20.0px;">Ethan Harris</div><div class="t" style="left:378.2px;top:680.3px;width:206.6px;height:20.0px;letter-spacing:0.75px">Board Games or Puzzle Set</div><div class="t" style="left:584.8px;top:680.3px;width:126.8px;height:20.0px;">Amazon</div><div class="t lk" style="left:711.6px;top:680.3px;width:126.0px;height:20.0px;"><u>www.link.com</u></div><div class="t" style="left:837.6px;top:680.3px;width:79.8px;height:20.0px;">$40.00</div><div class="t" style="left:917.4px;top:680.3px;width:79.9px;height:20.0px;">$30.00</div><div class="t pos" style="left:997.3px;top:680.3px;width:99.5px;height:20.0px;">$10.00</div><div class="t" style="left:1321.4px;top:680.3px;width:140.1px;height:20.0px;">-</div><div class="t" style="left:1461.5px;top:680.3px;width:103.9px;height:20.0px;">Coworker</div><div class="t" style="left:225.2px;top:700.3px;width:153.0px;height:20.0px;">Madison Moore</div><div class="t" style="left:378.2px;top:700.3px;width:206.6px;height:20.0px;letter-spacing:0.75px">A Weekend Getaway Package</div><div class="t" style="left:584.8px;top:700.3px;width:126.8px;height:20.0px;">Etsy</div><div class="t lk" style="left:711.6px;top:700.3px;width:126.0px;height:20.0px;"><u>www.link.com</u></div><div class="t" style="left:837.6px;top:700.3px;width:79.8px;height:20.0px;">$400.00</div><div class="t" style="left:917.4px;top:700.3px;width:79.9px;height:20.0px;">$375.00</div><div class="t pos" style="left:997.3px;top:700.3px;width:99.5px;height:20.0px;">$25.00</div><div class="t" style="left:1321.4px;top:700.3px;width:140.1px;height:20.0px;">137 Main Street</div><div class="t" style="left:1461.5px;top:700.3px;width:103.9px;height:20.0px;">School</div><div class="cbk" style="left:1124.5px;top:423.3px"><svg width="14" height="14" viewBox="0 0 14 14"><path d="M3,7.3 L5.8,10 L11,4" stroke="#7fa07a" stroke-width="1.3" fill="none"/></svg></div><div class="cbk" style="left:1196.5px;top:423.3px"><svg width="14" height="14" viewBox="0 0 14 14"><path d="M3,7.3 L5.8,10 L11,4" stroke="#7fa07a" stroke-width="1.3" fill="none"/></svg></div><div class="cbu" style="left:1274.1px;top:423.3px"></div><div class="dd" style="left:1570.0px;top:428.8px"></div><div class="cbu" style="left:1124.5px;top:443.3px"></div><div class="cbu" style="left:1196.5px;top:443.3px"></div><div class="cbu" style="left:1274.1px;top:443.3px"></div><div class="dd" style="left:1570.0px;top:448.8px"></div><div class="cbk" style="left:1124.5px;top:463.3px"><svg width="14" height="14" viewBox="0 0 14 14"><path d="M3,7.3 L5.8,10 L11,4" stroke="#7fa07a" stroke-width="1.3" fill="none"/></svg></div><div class="cbu" style="left:1196.5px;top:463.3px"></div><div class="cbu" style="left:1274.1px;top:463.3px"></div><div class="dd" style="left:1570.0px;top:468.8px"></div><div class="cbu" style="left:1124.5px;top:483.3px"></div><div class="cbu" style="left:1196.5px;top:483.3px"></div><div class="cbu" style="left:1274.1px;top:483.3px"></div><div class="dd" style="left:1570.0px;top:488.8px"></div><div class="cbk" style="left:1124.5px;top:503.3px"><svg width="14" height="14" viewBox="0 0 14 14"><path d="M3,7.3 L5.8,10 L11,4" stroke="#7fa07a" stroke-width="1.3" fill="none"/></svg></div><div class="cbk" style="left:1196.5px;top:503.3px"><svg width="14" height="14" viewBox="0 0 14 14"><path d="M3,7.3 L5.8,10 L11,4" stroke="#7fa07a" stroke-width="1.3" fill="none"/></svg></div><div class="cbk" style="left:1274.1px;top:503.3px"><svg width="14" height="14" viewBox="0 0 14 14"><path d="M3,7.3 L5.8,10 L11,4" stroke="#7fa07a" stroke-width="1.3" fill="none"/></svg></div><div class="dd" style="left:1570.0px;top:508.8px"></div><div class="cbu" style="left:1124.5px;top:523.3px"></div><div class="cbu" style="left:1196.5px;top:523.3px"></div><div class="cbu" style="left:1274.1px;top:523.3px"></div><div class="dd" style="left:1570.0px;top:528.8px"></div><div class="cbk" style="left:1124.5px;top:543.3px"><svg width="14" height="14" viewBox="0 0 14 14"><path d="M3,7.3 L5.8,10 L11,4" stroke="#7fa07a" stroke-width="1.3" fill="none"/></svg></div><div class="cbk" style="left:1196.5px;top:543.3px"><svg width="14" height="14" viewBox="0 0 14 14"><path d="M3,7.3 L5.8,10 L11,4" stroke="#7fa07a" stroke-width="1.3" fill="none"/></svg></div><div class="cbu" style="left:1274.1px;top:543.3px"></div><div class="dd" style="left:1570.0px;top:548.8px"></div><div class="cbu" style="left:1124.5px;top:563.3px"></div><div class="cbu" style="left:1196.5px;top:563.3px"></div><div class="cbu" style="left:1274.1px;top:563.3px"></div><div class="dd" style="left:1570.0px;top:568.8px"></div><div class="cbk" style="left:1124.5px;top:583.3px"><svg width="14" height="14" viewBox="0 0 14 14"><path d="M3,7.3 L5.8,10 L11,4" stroke="#7fa07a" stroke-width="1.3" fill="none"/></svg></div><div class="cbk" style="left:1196.5px;top:583.3px"><svg width="14" height="14" viewBox="0 0 14 14"><path d="M3,7.3 L5.8,10 L11,4" stroke="#7fa07a" stroke-width="1.3" fill="none"/></svg></div><div class="cbu" style="left:1274.1px;top:583.3px"></div><div class="dd" style="left:1570.0px;top:588.8px"></div><div class="cbk" style="left:1124.5px;top:603.3px"><svg width="14" height="14" viewBox="0 0 14 14"><path d="M3,7.3 L5.8,10 L11,4" stroke="#7fa07a" stroke-width="1.3" fill="none"/></svg></div><div class="cbu" style="left:1196.5px;top:603.3px"></div><div class="cbu" style="left:1274.1px;top:603.3px"></div><div class="dd" style="left:1570.0px;top:608.8px"></div><div class="cbu" style="left:1124.5px;top:623.3px"></div><div class="cbu" style="left:1196.5px;top:623.3px"></div><div class="cbu" style="left:1274.1px;top:623.3px"></div><div class="dd" style="left:1570.0px;top:628.8px"></div><div class="cbu" style="left:1124.5px;top:643.3px"></div><div class="cbu" style="left:1196.5px;top:643.3px"></div><div class="cbu" style="left:1274.1px;top:643.3px"></div><div class="dd" style="left:1570.0px;top:648.8px"></div><div class="cbk" style="left:1124.5px;top:663.3px"><svg width="14" height="14" viewBox="0 0 14 14"><path d="M3,7.3 L5.8,10 L11,4" stroke="#7fa07a" stroke-width="1.3" fill="none"/></svg></div><div class="cbu" style="left:1196.5px;top:663.3px"></div><div class="cbu" style="left:1274.1px;top:663.3px"></div><div class="dd" style="left:1570.0px;top:668.8px"></div><div class="cbu" style="left:1124.5px;top:683.3px"></div><div class="cbu" style="left:1196.5px;top:683.3px"></div><div class="cbu" style="left:1274.1px;top:683.3px"></div><div class="dd" style="left:1570.0px;top:688.8px"></div><div class="cbk" style="left:1124.5px;top:703.3px"><svg width="14" height="14" viewBox="0 0 14 14"><path d="M3,7.3 L5.8,10 L11,4" stroke="#7fa07a" stroke-width="1.3" fill="none"/></svg></div><div class="cbk" style="left:1196.5px;top:703.3px"><svg width="14" height="14" viewBox="0 0 14 14"><path d="M3,7.3 L5.8,10 L11,4" stroke="#7fa07a" stroke-width="1.3" fill="none"/></svg></div><div class="cbu" style="left:1274.1px;top:703.3px"></div><div class="dd" style="left:1570.0px;top:708.8px"></div><div class="cbu" style="left:1124.5px;top:723.3px"></div><div class="cbu" style="left:1196.5px;top:723.3px"></div><div class="cbu" style="left:1274.1px;top:723.3px"></div><div class="dd" style="left:1570.0px;top:728.8px"></div><div class="cbu" style="left:1124.5px;top:743.3px"></div><div class="cbu" style="left:1196.5px;top:743.3px"></div><div class="cbu" style="left:1274.1px;top:743.3px"></div><div class="dd" style="left:1570.0px;top:748.8px"></div><div class="vl" style="left:377.7px;top:397.2px;height:358.8px"></div><div class="vl" style="left:584.3px;top:397.2px;height:358.8px"></div><div class="vl" style="left:711.1px;top:397.2px;height:358.8px"></div><div class="vl" style="left:837.1px;top:397.2px;height:358.8px"></div><div class="vl" style="left:916.9px;top:397.2px;height:358.8px"></div><div class="vl" style="left:996.8px;top:397.2px;height:358.8px"></div><div class="vl" style="left:1096.3px;top:397.2px;height:358.8px"></div><div class="vl" style="left:1165.7px;top:397.2px;height:358.8px"></div><div class="vl" style="left:1240.2px;top:397.2px;height:358.8px"></div><div class="vl" style="left:1320.9px;top:397.2px;height:358.8px"></div><div class="vl" style="left:1461.0px;top:397.2px;height:358.8px"></div><div class="vl" style="left:224.7px;top:397.2px;height:358.8px"></div><div class="vl" style="left:1581.9px;top:397.2px;height:358.8px"></div><div class="hd" style="left:225.2px;top:396.7px;width:1357.2px"></div><div class="hd" style="left:225.2px;top:419.8px;width:1357.2px"></div><div class="hd" style="left:15.5px;top:419.8px;width:197.7px"></div></div><svg class="ov" width="1946" height="1460" viewBox="0 0 1946 1460"><path d="M-4,0.5 L-26,28.5 Q-25,32.5 -19,31.5 L-11,29.5 C-13,66 6,102 48,114 Q53,113.5 50,109 C14,96 3,70 4,33.5 L30,50.5 Q31,47 29,44 C21,34 14,18 12,5.5 Q8,-0.5 1,-0.5 Z" transform="translate(501.2,1075) rotate(0)" fill="#050505"/><path d="M-4,0.5 L-26,28.5 Q-25,32.5 -19,31.5 L-11,29.5 C-13,66 6,102 48,114 Q53,113.5 50,109 C14,96 3,70 4,33.5 L30,50.5 Q31,47 29,44 C21,34 14,18 12,5.5 Q8,-0.5 1,-0.5 Z" transform="translate(1285,1100.5) rotate(0)" fill="#050505"/><path d="M-4,0.5 L-26,28.5 Q-25,32.5 -19,31.5 L-11,29.5 C-13,66 6,102 48,114 Q53,113.5 50,109 C14,96 3,70 4,33.5 L30,50.5 Q31,47 29,44 C21,34 14,18 12,5.5 Q8,-0.5 1,-0.5 Z" transform="translate(632.3,442.3) rotate(184.5)" fill="#050505"/><path d="M-4,0.5 L-26,28.5 Q-25,32.5 -19,31.5 L-11,29.5 C-13,66 6,102 48,114 Q53,113.5 50,109 C14,96 3,70 4,33.5 L30,50.5 Q31,47 29,44 C21,34 14,18 12,5.5 Q8,-0.5 1,-0.5 Z" transform="translate(917.5,394.4) rotate(184.5)" fill="#050505"/><path d="M-4,0.5 L-26,28.5 Q-25,32.5 -19,31.5 L-11,29.5 C-13,66 6,102 48,114 Q53,113.5 50,109 C14,96 3,70 4,33.5 L30,50.5 Q31,47 29,44 C21,34 14,18 12,5.5 Q8,-0.5 1,-0.5 Z" transform="translate(1545.6,405.6) rotate(184.5)" fill="#050505"/><path d="M-4,0.5 L-26,28.5 Q-25,32.5 -19,31.5 L-11,29.5 C-13,66 6,102 48,114 Q53,113.5 50,109 C14,96 3,70 4,33.5 L30,50.5 Q31,47 29,44 C21,34 14,18 12,5.5 Q8,-0.5 1,-0.5 Z" transform="translate(193,1001) rotate(50.8)" fill="#050505"/></svg></body></html>
